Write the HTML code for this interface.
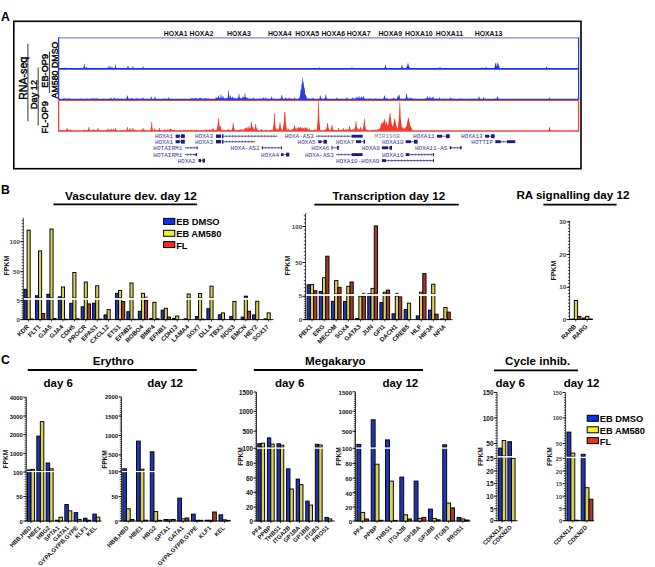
<!DOCTYPE html>
<html><head><meta charset="utf-8"><style>
html,body{margin:0;padding:0;background:#fff;}
svg{display:block;}
</style></head><body>
<svg width="655" height="567" viewBox="0 0 655 567">
<rect x="0" y="0" width="655" height="567" fill="#fff"/>
<text x="0.90" y="20.70" font-family="Liberation Sans" font-size="12.2" font-weight="bold" text-anchor="start" fill="#000">A</text>
<rect x="13.8" y="21.3" width="567.2" height="147.4" fill="none" stroke="#000" stroke-width="1.6"/>
<text x="0" y="0" font-family="Liberation Sans" font-size="10.6" font-weight="normal" stroke="#000" stroke-width="0.42" text-anchor="middle" transform="translate(27.2 78.3) rotate(-90)">RNA-seq</text>
<line x1="27.90" y1="43.70" x2="27.90" y2="121.40" stroke="#000" stroke-width="0.8"/>
<text x="0" y="0" font-family="Liberation Sans" font-size="9.2" font-weight="normal" stroke="#000" stroke-width="0.42" text-anchor="middle" transform="translate(36.6 94.5) rotate(-90)">Day 12</text>
<line x1="38.20" y1="67.50" x2="38.20" y2="125.60" stroke="#000" stroke-width="0.8"/>
<text x="0" y="0" font-family="Liberation Sans" font-size="9.2" font-weight="normal" stroke="#000" stroke-width="0.42" text-anchor="middle" transform="translate(47.8 117.3) rotate(-90)">FL-OP9</text>
<text x="0" y="0" font-family="Liberation Sans" font-size="9.2" font-weight="normal" stroke="#000" stroke-width="0.42" text-anchor="middle" transform="translate(48.3 70.8) rotate(-90)">EB-OP9</text>
<line x1="49.40" y1="51.70" x2="49.40" y2="92.90" stroke="#000" stroke-width="0.8"/>
<text x="0" y="0" font-family="Liberation Sans" font-size="8.8" font-weight="normal" stroke="#000" stroke-width="0.42" text-anchor="middle" transform="translate(58.3 54.8) rotate(-90)">DMSO</text>
<text x="0" y="0" font-family="Liberation Sans" font-size="8.8" font-weight="normal" stroke="#000" stroke-width="0.42" text-anchor="middle" transform="translate(58.3 84.5) rotate(-90)">AM580</text>
<line x1="58.60" y1="37.90" x2="578.60" y2="37.90" stroke="#8585d0" stroke-width="1.2"/>
<path d="M63.28,68.80 L64.31,68.63 L64.75,68.39 L65.25,68.39 L65.69,68.63 L66.72,68.80Z M77.54,68.80 L78.42,68.50 L78.75,68.10 L79.25,68.10 L79.58,68.50 L80.46,68.80Z M79.66,68.80 L80.47,68.49 L80.75,68.05 L81.25,68.05 L81.53,68.49 L82.34,68.80Z M89.93,68.80 L90.57,68.61 L90.75,68.35 L91.25,68.35 L91.43,68.61 L92.07,68.80Z M115.12,68.80 L116.25,68.49 L116.75,68.06 L117.25,68.06 L117.75,68.49 L118.88,68.80Z M116.73,68.80 L117.49,68.50 L117.75,68.08 L118.25,68.08 L118.51,68.50 L119.27,68.80Z M122.11,68.80 L122.65,68.53 L122.75,68.15 L123.25,68.15 L123.35,68.53 L123.89,68.80Z M130.13,68.80 L130.65,68.53 L130.75,68.16 L131.25,68.16 L131.35,68.53 L131.87,68.80Z M134.83,68.80 L135.53,68.49 L135.75,68.05 L136.25,68.05 L136.47,68.49 L137.17,68.80Z M153.55,68.80 L154.42,68.56 L154.75,68.23 L155.25,68.23 L155.58,68.56 L156.45,68.80Z M154.50,68.80 L155.40,68.53 L155.75,68.15 L156.25,68.15 L156.60,68.53 L157.50,68.80Z M155.67,68.80 L156.47,68.53 L156.75,68.15 L157.25,68.15 L157.53,68.53 L158.33,68.80Z M160.45,68.80 L161.38,68.62 L161.75,68.38 L162.25,68.38 L162.62,68.62 L163.55,68.80Z M173.39,68.80 L174.36,68.54 L174.75,68.17 L175.25,68.17 L175.64,68.54 L176.61,68.80Z M181.81,68.80 L182.52,68.58 L182.75,68.27 L183.25,68.27 L183.48,68.58 L184.19,68.80Z M212.24,68.80 L213.29,68.47 L213.75,68.02 L214.25,68.02 L214.71,68.47 L215.76,68.80Z M225.86,68.80 L226.54,68.53 L226.75,68.16 L227.25,68.16 L227.46,68.53 L228.14,68.80Z M227.43,68.80 L228.37,68.48 L228.75,68.04 L229.25,68.04 L229.63,68.48 L230.57,68.80Z M232.98,68.80 L233.59,68.51 L233.75,68.10 L234.25,68.10 L234.41,68.51 L235.02,68.80Z M253.25,68.80 L254.30,68.53 L254.75,68.15 L255.25,68.15 L255.70,68.53 L256.75,68.80Z M254.88,68.80 L255.55,68.59 L255.75,68.29 L256.25,68.29 L256.45,68.59 L257.12,68.80Z M260.03,68.80 L260.61,68.62 L260.75,68.38 L261.25,68.38 L261.39,68.62 L261.97,68.80Z M261.26,68.80 L262.31,68.47 L262.75,68.01 L263.25,68.01 L263.69,68.47 L264.74,68.80Z M262.83,68.80 L263.53,68.55 L263.75,68.20 L264.25,68.20 L264.47,68.55 L265.17,68.80Z M274.77,68.80 L275.51,68.60 L275.75,68.33 L276.25,68.33 L276.49,68.60 L277.23,68.80Z M290.71,68.80 L291.49,68.56 L291.75,68.23 L292.25,68.23 L292.51,68.56 L293.29,68.80Z M307.15,68.80 L307.66,68.53 L307.75,68.16 L308.25,68.16 L308.34,68.53 L308.85,68.80Z M310.06,68.80 L310.62,68.62 L310.75,68.36 L311.25,68.36 L311.38,68.62 L311.94,68.80Z M313.03,68.80 L313.61,68.49 L313.75,68.06 L314.25,68.06 L314.39,68.49 L314.97,68.80Z M319.62,68.80 L320.45,68.50 L320.75,68.09 L321.25,68.09 L321.55,68.50 L322.38,68.80Z M321.18,68.80 L322.27,68.51 L322.75,68.10 L323.25,68.10 L323.73,68.51 L324.82,68.80Z M322.57,68.80 L323.43,68.58 L323.75,68.27 L324.25,68.27 L324.57,68.58 L325.43,68.80Z M334.14,68.80 L335.26,68.55 L335.75,68.20 L336.25,68.20 L336.74,68.55 L337.86,68.80Z M346.20,68.80 L347.28,68.51 L347.75,68.10 L348.25,68.10 L348.72,68.51 L349.80,68.80Z M365.76,68.80 L366.50,68.55 L366.75,68.21 L367.25,68.21 L367.50,68.55 L368.24,68.80Z M403.28,68.80 L404.31,68.62 L404.75,68.36 L405.25,68.36 L405.69,68.62 L406.72,68.80Z M408.70,68.80 L409.48,68.58 L409.75,68.27 L410.25,68.27 L410.52,68.58 L411.30,68.80Z M415.46,68.80 L416.38,68.59 L416.75,68.29 L417.25,68.29 L417.62,68.59 L418.54,68.80Z M416.21,68.80 L417.28,68.48 L417.75,68.05 L418.25,68.05 L418.72,68.48 L419.79,68.80Z M417.77,68.80 L418.51,68.47 L418.75,68.02 L419.25,68.02 L419.49,68.47 L420.23,68.80Z M429.79,68.80 L430.52,68.55 L430.75,68.20 L431.25,68.20 L431.48,68.55 L432.21,68.80Z M450.37,68.80 L451.35,68.51 L451.75,68.11 L452.25,68.11 L452.65,68.51 L453.63,68.80Z M457.90,68.80 L458.56,68.55 L458.75,68.20 L459.25,68.20 L459.44,68.55 L460.10,68.80Z M467.06,68.80 L467.62,68.59 L467.75,68.29 L468.25,68.29 L468.38,68.59 L468.94,68.80Z M467.40,68.80 L468.36,68.50 L468.75,68.09 L469.25,68.09 L469.64,68.50 L470.60,68.80Z M483.22,68.80 L484.29,68.50 L484.75,68.08 L485.25,68.08 L485.71,68.50 L486.78,68.80Z M496.46,68.80 L497.39,68.50 L497.75,68.09 L498.25,68.09 L498.61,68.50 L499.54,68.80Z M502.48,68.80 L503.39,68.55 L503.75,68.20 L504.25,68.20 L504.61,68.55 L505.52,68.80Z M510.91,68.80 L511.57,68.57 L511.75,68.26 L512.25,68.26 L512.43,68.57 L513.09,68.80Z M511.18,68.80 L512.27,68.54 L512.75,68.18 L513.25,68.18 L513.73,68.54 L514.82,68.80Z M529.08,68.80 L529.63,68.62 L529.75,68.38 L530.25,68.38 L530.37,68.62 L530.92,68.80Z M548.34,68.80 L549.34,68.60 L549.75,68.32 L550.25,68.32 L550.66,68.60 L551.66,68.80Z M556.98,68.80 L557.59,68.61 L557.75,68.36 L558.25,68.36 L558.41,68.61 L559.02,68.80Z" fill="#2a3ce0"/>
<path d="M63.74,68.80 L64.50,68.17 L64.75,67.30 L65.25,67.30 L65.50,68.17 L66.26,68.80Z M82.83,68.80 L83.71,66.70 L84.05,63.80 L84.55,63.80 L84.89,66.70 L85.77,68.80Z M84.82,68.80 L85.83,68.04 L86.25,67.00 L86.75,67.00 L87.17,68.04 L88.18,68.80Z M90.53,68.80 L91.41,68.38 L91.75,67.80 L92.25,67.80 L92.59,68.38 L93.47,68.80Z M95.53,68.80 L96.41,68.38 L96.75,67.80 L97.25,67.80 L97.59,68.38 L98.47,68.80Z M106.32,68.80 L107.33,67.88 L107.75,66.60 L108.25,66.60 L108.67,67.88 L109.68,68.80Z M108.53,68.80 L109.41,67.54 L109.75,65.80 L110.25,65.80 L110.59,67.54 L111.47,68.80Z M110.53,68.80 L111.41,67.96 L111.75,66.80 L112.25,66.80 L112.59,67.96 L113.47,68.80Z M114.24,68.80 L115.00,66.91 L115.25,64.30 L115.75,64.30 L116.00,66.91 L116.76,68.80Z M126.32,68.80 L127.33,67.54 L127.75,65.80 L128.25,65.80 L128.67,67.54 L129.68,68.80Z M131.74,68.80 L132.50,67.75 L132.75,66.30 L133.25,66.30 L133.50,67.75 L134.26,68.80Z M141.53,68.80 L142.41,67.75 L142.75,66.30 L143.25,66.30 L143.59,67.75 L144.47,68.80Z M198.95,68.80 L199.58,68.46 L199.75,68.00 L200.25,68.00 L200.42,68.46 L201.05,68.80Z M238.95,68.80 L239.58,68.46 L239.75,68.00 L240.25,68.00 L240.42,68.46 L241.05,68.80Z M318.14,68.80 L318.90,68.17 L319.15,67.30 L319.65,67.30 L319.90,68.17 L320.66,68.80Z M350.74,68.80 L351.50,67.96 L351.75,66.80 L352.25,66.80 L352.50,67.96 L353.26,68.80Z M383.93,68.80 L384.81,67.12 L385.15,64.80 L385.65,64.80 L385.99,67.12 L386.87,68.80Z M400.53,68.80 L401.41,67.12 L401.75,64.80 L402.25,64.80 L402.59,67.12 L403.47,68.80Z M405.48,68.80 L406.99,66.49 L407.75,63.30 L408.25,63.30 L409.01,66.49 L410.52,68.80Z M438.53,68.80 L439.41,67.96 L439.75,66.80 L440.25,66.80 L440.59,67.96 L441.47,68.80Z M480.53,68.80 L481.41,68.13 L481.75,67.20 L482.25,67.20 L482.59,68.13 L483.47,68.80Z M484.53,68.80 L485.41,67.96 L485.75,66.80 L486.25,66.80 L486.59,67.96 L487.47,68.80Z M493.82,68.80 L494.83,66.28 L495.25,62.80 L495.75,62.80 L496.17,66.28 L497.18,68.80Z M495.31,68.80 L496.44,66.15 L496.95,62.50 L497.45,62.50 L497.96,66.15 L499.09,68.80Z M497.13,68.80 L498.01,66.70 L498.35,63.80 L498.85,63.80 L499.19,66.70 L500.07,68.80Z M545.24,68.80 L546.00,67.88 L546.25,66.60 L546.75,66.60 L547.00,67.88 L547.76,68.80Z" fill="#2a3ce0"/>
<line x1="58.60" y1="68.80" x2="578.60" y2="68.80" stroke="#1c34e6" stroke-width="1.7"/>
<path d="M58.69,99.50 L59.48,99.32 L59.75,99.08 L60.25,99.08 L60.52,99.32 L61.31,99.50Z M61.74,99.50 L62.50,99.18 L62.75,98.74 L63.25,98.74 L63.50,99.18 L64.26,99.50Z M62.93,99.50 L63.57,98.97 L63.75,98.23 L64.25,98.23 L64.43,98.97 L65.07,99.50Z M63.99,99.50 L64.59,99.15 L64.75,98.67 L65.25,98.67 L65.41,99.15 L66.01,99.50Z M66.11,99.50 L66.64,99.29 L66.75,98.99 L67.25,98.99 L67.36,99.29 L67.89,99.50Z M67.67,99.50 L68.47,99.03 L68.75,98.39 L69.25,98.39 L69.53,99.03 L70.33,99.50Z M69.88,99.50 L70.55,99.24 L70.75,98.88 L71.25,98.88 L71.45,99.24 L72.12,99.50Z M72.44,99.50 L73.38,99.30 L73.75,99.02 L74.25,99.02 L74.62,99.30 L75.56,99.50Z M76.06,99.50 L76.63,99.32 L76.75,99.07 L77.25,99.07 L77.37,99.32 L77.94,99.50Z M77.10,99.50 L77.64,99.32 L77.75,99.07 L78.25,99.07 L78.36,99.32 L78.90,99.50Z M79.66,99.50 L80.46,98.96 L80.75,98.22 L81.25,98.22 L81.54,98.96 L82.34,99.50Z M83.52,99.50 L84.41,99.22 L84.75,98.83 L85.25,98.83 L85.59,99.22 L86.48,99.50Z M85.27,99.50 L86.31,99.22 L86.75,98.84 L87.25,98.84 L87.69,99.22 L88.73,99.50Z M86.81,99.50 L87.52,99.18 L87.75,98.75 L88.25,98.75 L88.48,99.18 L89.19,99.50Z M89.39,99.50 L90.36,99.05 L90.75,98.43 L91.25,98.43 L91.64,99.05 L92.61,99.50Z M95.66,99.50 L96.46,99.04 L96.75,98.40 L97.25,98.40 L97.54,99.04 L98.34,99.50Z M96.40,99.50 L97.36,99.27 L97.75,98.95 L98.25,98.95 L98.64,99.27 L99.60,99.50Z M102.14,99.50 L102.65,99.06 L102.75,98.46 L103.25,98.46 L103.35,99.06 L103.86,99.50Z M105.27,99.50 L106.31,99.24 L106.75,98.89 L107.25,98.89 L107.69,99.24 L108.73,99.50Z M113.08,99.50 L113.63,99.19 L113.75,98.77 L114.25,98.77 L114.37,99.19 L114.92,99.50Z M116.04,99.50 L116.62,99.12 L116.75,98.59 L117.25,98.59 L117.38,99.12 L117.96,99.50Z M116.91,99.50 L117.56,99.09 L117.75,98.52 L118.25,98.52 L118.44,99.09 L119.09,99.50Z M117.48,99.50 L118.39,99.27 L118.75,98.96 L119.25,98.96 L119.61,99.27 L120.52,99.50Z M119.14,99.50 L120.26,99.25 L120.75,98.89 L121.25,98.89 L121.74,99.25 L122.86,99.50Z M120.72,99.50 L121.49,99.12 L121.75,98.59 L122.25,98.59 L122.51,99.12 L123.28,99.50Z M126.08,99.50 L126.63,99.26 L126.75,98.94 L127.25,98.94 L127.37,99.26 L127.92,99.50Z M127.15,99.50 L128.26,99.32 L128.75,99.08 L129.25,99.08 L129.74,99.32 L130.85,99.50Z M129.07,99.50 L129.63,98.99 L129.75,98.30 L130.25,98.30 L130.37,98.99 L130.93,99.50Z M130.51,99.50 L131.41,99.02 L131.75,98.35 L132.25,98.35 L132.59,99.02 L133.49,99.50Z M134.69,99.50 L135.48,99.10 L135.75,98.56 L136.25,98.56 L136.52,99.10 L137.31,99.50Z M135.54,99.50 L136.41,99.02 L136.75,98.35 L137.25,98.35 L137.59,99.02 L138.46,99.50Z M137.67,99.50 L138.47,99.13 L138.75,98.61 L139.25,98.61 L139.53,99.13 L140.33,99.50Z M139.65,99.50 L140.46,99.20 L140.75,98.79 L141.25,98.79 L141.54,99.20 L142.35,99.50Z M140.39,99.50 L141.36,99.12 L141.75,98.60 L142.25,98.60 L142.64,99.12 L143.61,99.50Z M144.11,99.50 L145.25,99.20 L145.75,98.78 L146.25,98.78 L146.75,99.20 L147.89,99.50Z M146.07,99.50 L146.63,99.17 L146.75,98.71 L147.25,98.71 L147.37,99.17 L147.93,99.50Z M146.18,99.50 L147.27,99.27 L147.75,98.95 L148.25,98.95 L148.73,99.27 L149.82,99.50Z M162.97,99.50 L163.59,98.98 L163.75,98.26 L164.25,98.26 L164.41,98.98 L165.03,99.50Z M163.85,99.50 L164.54,99.06 L164.75,98.45 L165.25,98.45 L165.46,99.06 L166.15,99.50Z M166.87,99.50 L167.55,99.05 L167.75,98.43 L168.25,98.43 L168.45,99.05 L169.13,99.50Z M168.38,99.50 L169.35,99.05 L169.75,98.43 L170.25,98.43 L170.65,99.05 L171.62,99.50Z M169.85,99.50 L170.54,99.29 L170.75,99.01 L171.25,99.01 L171.46,99.29 L172.15,99.50Z M171.36,99.50 L172.34,99.27 L172.75,98.96 L173.25,98.96 L173.66,99.27 L174.64,99.50Z M177.67,99.50 L178.47,99.21 L178.75,98.82 L179.25,98.82 L179.53,99.21 L180.33,99.50Z M182.23,99.50 L183.29,99.16 L183.75,98.68 L184.25,98.68 L184.71,99.16 L185.77,99.50Z M184.31,99.50 L185.33,99.24 L185.75,98.88 L186.25,98.88 L186.67,99.24 L187.69,99.50Z M185.60,99.50 L186.44,99.28 L186.75,98.98 L187.25,98.98 L187.56,99.28 L188.40,99.50Z M187.95,99.50 L188.58,99.31 L188.75,99.05 L189.25,99.05 L189.42,99.31 L190.05,99.50Z M194.15,99.50 L194.66,99.26 L194.75,98.93 L195.25,98.93 L195.34,99.26 L195.85,99.50Z M195.59,99.50 L196.43,99.31 L196.75,99.05 L197.25,99.05 L197.57,99.31 L198.41,99.50Z M196.90,99.50 L197.56,99.21 L197.75,98.82 L198.25,98.82 L198.44,99.21 L199.10,99.50Z M199.71,99.50 L200.48,99.32 L200.75,99.06 L201.25,99.06 L201.52,99.32 L202.29,99.50Z M204.36,99.50 L205.35,99.28 L205.75,98.98 L206.25,98.98 L206.65,99.28 L207.64,99.50Z M210.14,99.50 L210.66,99.27 L210.75,98.95 L211.25,98.95 L211.34,99.27 L211.86,99.50Z M220.44,99.50 L221.38,99.26 L221.75,98.94 L222.25,98.94 L222.62,99.26 L223.56,99.50Z M229.61,99.50 L230.44,99.21 L230.75,98.82 L231.25,98.82 L231.56,99.21 L232.39,99.50Z M235.58,99.50 L236.43,99.11 L236.75,98.58 L237.25,98.58 L237.57,99.11 L238.42,99.50Z M237.20,99.50 L238.28,99.06 L238.75,98.46 L239.25,98.46 L239.72,99.06 L240.80,99.50Z M238.77,99.50 L239.51,99.08 L239.75,98.50 L240.25,98.50 L240.49,99.08 L241.23,99.50Z M243.97,99.50 L244.59,98.98 L244.75,98.27 L245.25,98.27 L245.41,98.98 L246.03,99.50Z M246.16,99.50 L247.27,99.23 L247.75,98.86 L248.25,98.86 L248.73,99.23 L249.84,99.50Z M248.86,99.50 L249.55,99.18 L249.75,98.75 L250.25,98.75 L250.45,99.18 L251.14,99.50Z M249.13,99.50 L250.25,99.24 L250.75,98.87 L251.25,98.87 L251.75,99.24 L252.87,99.50Z M250.95,99.50 L251.58,99.25 L251.75,98.89 L252.25,98.89 L252.42,99.25 L253.05,99.50Z M251.38,99.50 L252.35,99.13 L252.75,98.63 L253.25,98.63 L253.65,99.13 L254.62,99.50Z M255.15,99.50 L256.26,99.23 L256.75,98.85 L257.25,98.85 L257.74,99.23 L258.85,99.50Z M256.65,99.50 L257.46,99.23 L257.75,98.86 L258.25,98.86 L258.54,99.23 L259.35,99.50Z M258.11,99.50 L258.64,99.13 L258.75,98.61 L259.25,98.61 L259.36,99.13 L259.89,99.50Z M259.01,99.50 L259.60,98.97 L259.75,98.24 L260.25,98.24 L260.40,98.97 L260.99,99.50Z M260.45,99.50 L261.38,98.96 L261.75,98.21 L262.25,98.21 L262.62,98.96 L263.55,99.50Z M262.36,99.50 L263.35,99.31 L263.75,99.05 L264.25,99.05 L264.65,99.31 L265.64,99.50Z M263.30,99.50 L264.32,99.26 L264.75,98.93 L265.25,98.93 L265.68,99.26 L266.70,99.50Z M265.60,99.50 L266.44,98.97 L266.75,98.24 L267.25,98.24 L267.56,98.97 L268.40,99.50Z M267.12,99.50 L268.25,99.18 L268.75,98.75 L269.25,98.75 L269.75,99.18 L270.88,99.50Z M269.01,99.50 L269.60,99.28 L269.75,98.98 L270.25,98.98 L270.40,99.28 L270.99,99.50Z M269.20,99.50 L270.28,99.20 L270.75,98.78 L271.25,98.78 L271.72,99.20 L272.80,99.50Z M270.17,99.50 L271.27,99.26 L271.75,98.93 L272.25,98.93 L272.73,99.26 L273.83,99.50Z M273.16,99.50 L274.26,99.20 L274.75,98.78 L275.25,98.78 L275.74,99.20 L276.84,99.50Z M276.80,99.50 L277.52,99.32 L277.75,99.08 L278.25,99.08 L278.48,99.32 L279.20,99.50Z M285.18,99.50 L286.27,99.11 L286.75,98.57 L287.25,98.57 L287.73,99.11 L288.82,99.50Z M287.28,99.50 L288.31,98.97 L288.75,98.23 L289.25,98.23 L289.69,98.97 L290.72,99.50Z M288.95,99.50 L289.58,99.23 L289.75,98.86 L290.25,98.86 L290.42,99.23 L291.05,99.50Z M289.73,99.50 L290.49,98.96 L290.75,98.22 L291.25,98.22 L291.51,98.96 L292.27,99.50Z M291.25,99.50 L292.30,99.33 L292.75,99.09 L293.25,99.09 L293.70,99.33 L294.75,99.50Z M297.70,99.50 L298.48,99.13 L298.75,98.61 L299.25,98.61 L299.52,99.13 L300.30,99.50Z M298.82,99.50 L299.53,99.11 L299.75,98.56 L300.25,98.56 L300.47,99.11 L301.18,99.50Z M301.53,99.50 L302.41,99.20 L302.75,98.78 L303.25,98.78 L303.59,99.20 L304.47,99.50Z M306.88,99.50 L307.55,98.96 L307.75,98.22 L308.25,98.22 L308.45,98.96 L309.12,99.50Z M307.39,99.50 L308.36,99.14 L308.75,98.65 L309.25,98.65 L309.64,99.14 L310.61,99.50Z M308.86,99.50 L309.55,99.09 L309.75,98.52 L310.25,98.52 L310.45,99.09 L311.14,99.50Z M318.27,99.50 L319.31,99.17 L319.75,98.72 L320.25,98.72 L320.69,99.17 L321.73,99.50Z M320.76,99.50 L321.50,99.01 L321.75,98.33 L322.25,98.33 L322.50,99.01 L323.24,99.50Z M323.23,99.50 L324.29,99.12 L324.75,98.61 L325.25,98.61 L325.71,99.12 L326.77,99.50Z M328.74,99.50 L329.50,99.14 L329.75,98.65 L330.25,98.65 L330.50,99.14 L331.26,99.50Z M333.77,99.50 L334.51,99.25 L334.75,98.90 L335.25,98.90 L335.49,99.25 L336.23,99.50Z M335.82,99.50 L336.53,99.30 L336.75,99.03 L337.25,99.03 L337.47,99.30 L338.18,99.50Z M336.59,99.50 L337.44,99.32 L337.75,99.07 L338.25,99.07 L338.56,99.32 L339.41,99.50Z M345.76,99.50 L346.51,99.00 L346.75,98.31 L347.25,98.31 L347.49,99.00 L348.24,99.50Z M348.30,99.50 L349.32,99.26 L349.75,98.93 L350.25,98.93 L350.68,99.26 L351.70,99.50Z M350.79,99.50 L351.52,99.32 L351.75,99.07 L352.25,99.07 L352.48,99.32 L353.21,99.50Z M351.97,99.50 L352.59,99.02 L352.75,98.35 L353.25,98.35 L353.41,99.02 L354.03,99.50Z M352.62,99.50 L353.45,99.19 L353.75,98.75 L354.25,98.75 L354.55,99.19 L355.38,99.50Z M357.43,99.50 L358.37,98.96 L358.75,98.22 L359.25,98.22 L359.63,98.96 L360.57,99.50Z M358.37,99.50 L359.35,99.17 L359.75,98.70 L360.25,98.70 L360.65,99.17 L361.63,99.50Z M360.66,99.50 L361.46,99.33 L361.75,99.09 L362.25,99.09 L362.54,99.33 L363.34,99.50Z M364.55,99.50 L365.42,99.17 L365.75,98.72 L366.25,98.72 L366.58,99.17 L367.45,99.50Z M367.07,99.50 L367.63,99.18 L367.75,98.75 L368.25,98.75 L368.37,99.18 L368.93,99.50Z M368.61,99.50 L369.44,98.98 L369.75,98.26 L370.25,98.26 L370.56,98.98 L371.39,99.50Z M370.67,99.50 L371.47,99.24 L371.75,98.89 L372.25,98.89 L372.53,99.24 L373.33,99.50Z M373.47,99.50 L374.39,98.96 L374.75,98.22 L375.25,98.22 L375.61,98.96 L376.53,99.50Z M375.22,99.50 L376.29,99.22 L376.75,98.83 L377.25,98.83 L377.71,99.22 L378.78,99.50Z M376.51,99.50 L377.40,99.13 L377.75,98.62 L378.25,98.62 L378.60,99.13 L379.49,99.50Z M382.71,99.50 L383.48,99.31 L383.75,99.05 L384.25,99.05 L384.52,99.31 L385.29,99.50Z M383.25,99.50 L384.30,99.26 L384.75,98.93 L385.25,98.93 L385.70,99.26 L386.75,99.50Z M384.18,99.50 L385.27,99.02 L385.75,98.36 L386.25,98.36 L386.73,99.02 L387.82,99.50Z M385.74,99.50 L386.50,98.99 L386.75,98.28 L387.25,98.28 L387.50,98.99 L388.26,99.50Z M387.12,99.50 L387.65,99.26 L387.75,98.93 L388.25,98.93 L388.35,99.26 L388.88,99.50Z M391.75,99.50 L392.50,99.18 L392.75,98.74 L393.25,98.74 L393.50,99.18 L394.25,99.50Z M392.88,99.50 L393.55,99.24 L393.75,98.87 L394.25,98.87 L394.45,99.24 L395.12,99.50Z M394.93,99.50 L395.57,99.29 L395.75,99.00 L396.25,99.00 L396.43,99.29 L397.07,99.50Z M397.93,99.50 L398.57,99.07 L398.75,98.47 L399.25,98.47 L399.43,99.07 L400.07,99.50Z M400.75,99.50 L401.50,99.05 L401.75,98.42 L402.25,98.42 L402.50,99.05 L403.25,99.50Z M405.26,99.50 L406.30,99.03 L406.75,98.39 L407.25,98.39 L407.70,99.03 L408.74,99.50Z M408.44,99.50 L409.38,98.99 L409.75,98.29 L410.25,98.29 L410.62,98.99 L411.56,99.50Z M409.12,99.50 L410.25,99.02 L410.75,98.36 L411.25,98.36 L411.75,99.02 L412.88,99.50Z M410.65,99.50 L411.46,98.96 L411.75,98.20 L412.25,98.20 L412.54,98.96 L413.35,99.50Z M411.80,99.50 L412.52,99.06 L412.75,98.45 L413.25,98.45 L413.48,99.06 L414.20,99.50Z M414.27,99.50 L415.31,99.13 L415.75,98.62 L416.25,98.62 L416.69,99.13 L417.73,99.50Z M422.36,99.50 L423.34,99.30 L423.75,99.02 L424.25,99.02 L424.66,99.30 L425.64,99.50Z M424.23,99.50 L425.29,98.99 L425.75,98.30 L426.25,98.30 L426.71,98.99 L427.77,99.50Z M429.45,99.50 L430.38,99.33 L430.75,99.09 L431.25,99.09 L431.62,99.33 L432.55,99.50Z M434.57,99.50 L435.43,99.07 L435.75,98.47 L436.25,98.47 L436.57,99.07 L437.43,99.50Z M436.82,99.50 L437.53,99.12 L437.75,98.60 L438.25,98.60 L438.47,99.12 L439.18,99.50Z M438.95,99.50 L439.58,99.18 L439.75,98.75 L440.25,98.75 L440.42,99.18 L441.05,99.50Z M441.65,99.50 L442.46,99.31 L442.75,99.05 L443.25,99.05 L443.54,99.31 L444.35,99.50Z M442.98,99.50 L443.59,99.14 L443.75,98.65 L444.25,98.65 L444.41,99.14 L445.02,99.50Z M443.19,99.50 L444.28,99.13 L444.75,98.62 L445.25,98.62 L445.72,99.13 L446.81,99.50Z M447.83,99.50 L448.53,99.23 L448.75,98.85 L449.25,98.85 L449.47,99.23 L450.17,99.50Z M449.66,99.50 L450.46,98.97 L450.75,98.25 L451.25,98.25 L451.54,98.97 L452.34,99.50Z M451.96,99.50 L452.59,98.97 L452.75,98.23 L453.25,98.23 L453.41,98.97 L454.04,99.50Z M454.13,99.50 L455.25,99.25 L455.75,98.90 L456.25,98.90 L456.75,99.25 L457.87,99.50Z M458.37,99.50 L459.35,99.07 L459.75,98.47 L460.25,98.47 L460.65,99.07 L461.63,99.50Z M459.14,99.50 L460.25,99.16 L460.75,98.69 L461.25,98.69 L461.75,99.16 L462.86,99.50Z M460.99,99.50 L461.59,99.04 L461.75,98.41 L462.25,98.41 L462.41,99.04 L463.01,99.50Z M462.77,99.50 L463.51,99.14 L463.75,98.64 L464.25,98.64 L464.49,99.14 L465.23,99.50Z M469.55,99.50 L470.42,99.13 L470.75,98.61 L471.25,98.61 L471.58,99.13 L472.45,99.50Z M471.49,99.50 L472.40,99.27 L472.75,98.95 L473.25,98.95 L473.60,99.27 L474.51,99.50Z M472.63,99.50 L473.45,99.05 L473.75,98.42 L474.25,98.42 L474.55,99.05 L475.37,99.50Z M477.38,99.50 L478.35,99.12 L478.75,98.60 L479.25,98.60 L479.65,99.12 L480.62,99.50Z M479.13,99.50 L480.25,99.27 L480.75,98.96 L481.25,98.96 L481.75,99.27 L482.87,99.50Z M483.46,99.50 L484.38,99.13 L484.75,98.61 L485.25,98.61 L485.62,99.13 L486.54,99.50Z M485.50,99.50 L486.40,99.28 L486.75,98.98 L487.25,98.98 L487.60,99.28 L488.50,99.50Z M488.07,99.50 L488.63,99.33 L488.75,99.09 L489.25,99.09 L489.37,99.33 L489.93,99.50Z M494.16,99.50 L494.66,99.07 L494.75,98.47 L495.25,98.47 L495.34,99.07 L495.84,99.50Z M494.98,99.50 L495.59,99.07 L495.75,98.47 L496.25,98.47 L496.41,99.07 L497.02,99.50Z M495.82,99.50 L496.53,99.14 L496.75,98.63 L497.25,98.63 L497.47,99.14 L498.18,99.50Z M497.75,99.50 L498.50,99.03 L498.75,98.38 L499.25,98.38 L499.50,99.03 L500.25,99.50Z M501.68,99.50 L502.47,99.25 L502.75,98.90 L503.25,98.90 L503.53,99.25 L504.32,99.50Z" fill="#2a3ce0"/>
<path d="M188.72,99.50 L189.49,99.20 L189.75,98.78 L190.25,98.78 L190.51,99.20 L191.28,99.50Z M189.56,99.50 L190.42,99.15 L190.75,98.66 L191.25,98.66 L191.58,99.15 L192.44,99.50Z M190.86,99.50 L191.54,98.98 L191.75,98.26 L192.25,98.26 L192.46,98.98 L193.14,99.50Z M191.80,99.50 L192.52,99.32 L192.75,99.06 L193.25,99.06 L193.48,99.32 L194.20,99.50Z M192.88,99.50 L193.55,99.00 L193.75,98.30 L194.25,98.30 L194.45,99.00 L195.12,99.50Z M193.46,99.50 L194.39,98.98 L194.75,98.26 L195.25,98.26 L195.61,98.98 L196.54,99.50Z M194.71,99.50 L195.48,99.03 L195.75,98.37 L196.25,98.37 L196.52,99.03 L197.29,99.50Z M195.33,99.50 L196.33,99.29 L196.75,99.01 L197.25,99.01 L197.67,99.29 L198.67,99.50Z M196.19,99.50 L197.27,99.27 L197.75,98.96 L198.25,98.96 L198.73,99.27 L199.81,99.50Z M197.70,99.50 L198.48,98.97 L198.75,98.23 L199.25,98.23 L199.52,98.97 L200.30,99.50Z M198.98,99.50 L199.59,98.74 L199.75,97.70 L200.25,97.70 L200.41,98.74 L201.02,99.50Z M200.03,99.50 L200.61,98.74 L200.75,97.70 L201.25,97.70 L201.39,98.74 L201.97,99.50Z M200.90,99.50 L201.56,99.05 L201.75,98.43 L202.25,98.43 L202.44,99.05 L203.10,99.50Z M202.66,99.50 L203.47,99.33 L203.75,99.08 L204.25,99.08 L204.53,99.33 L205.34,99.50Z M203.25,99.50 L204.30,98.92 L204.75,98.11 L205.25,98.11 L205.70,98.92 L206.75,99.50Z M205.84,99.50 L206.54,98.93 L206.75,98.15 L207.25,98.15 L207.46,98.93 L208.16,99.50Z M206.84,99.50 L207.54,99.16 L207.75,98.68 L208.25,98.68 L208.46,99.16 L209.16,99.50Z M208.07,99.50 L208.63,98.96 L208.75,98.22 L209.25,98.22 L209.37,98.96 L209.93,99.50Z" fill="#2a3ce0"/>
<path d="M214.96,99.50 L215.58,98.48 L215.75,97.08 L216.25,97.08 L216.42,98.48 L217.04,99.50Z M215.60,99.50 L216.44,98.68 L216.75,97.54 L217.25,97.54 L217.56,98.68 L218.40,99.50Z M216.50,99.50 L217.40,98.88 L217.75,98.03 L218.25,98.03 L218.60,98.88 L219.50,99.50Z M217.62,99.50 L218.45,98.74 L218.75,97.68 L219.25,97.68 L219.55,98.74 L220.38,99.50Z M219.45,99.50 L220.38,99.27 L220.75,98.96 L221.25,98.96 L221.62,99.27 L222.55,99.50Z M221.57,99.50 L222.43,98.70 L222.75,97.61 L223.25,97.61 L223.57,98.70 L224.43,99.50Z M222.53,99.50 L223.41,98.92 L223.75,98.12 L224.25,98.12 L224.59,98.92 L225.47,99.50Z M223.39,99.50 L224.35,99.06 L224.75,98.46 L225.25,98.46 L225.65,99.06 L226.61,99.50Z M224.89,99.50 L225.56,98.91 L225.75,98.11 L226.25,98.11 L226.44,98.91 L227.11,99.50Z M225.38,99.50 L226.35,98.76 L226.75,97.73 L227.25,97.73 L227.65,98.76 L228.62,99.50Z M227.81,99.50 L228.52,99.15 L228.75,98.67 L229.25,98.67 L229.48,99.15 L230.19,99.50Z M228.55,99.50 L229.42,99.12 L229.75,98.60 L230.25,98.60 L230.58,99.12 L231.45,99.50Z M229.97,99.50 L230.59,99.12 L230.75,98.59 L231.25,98.59 L231.41,99.12 L232.03,99.50Z M230.63,99.50 L231.45,99.17 L231.75,98.72 L232.25,98.72 L232.55,99.17 L233.37,99.50Z M231.57,99.50 L232.43,98.55 L232.75,97.24 L233.25,97.24 L233.57,98.55 L234.43,99.50Z M233.12,99.50 L233.65,98.95 L233.75,98.19 L234.25,98.19 L234.35,98.95 L234.88,99.50Z M233.78,99.50 L234.51,98.67 L234.75,97.52 L235.25,97.52 L235.49,98.67 L236.22,99.50Z M234.93,99.50 L235.57,99.09 L235.75,98.53 L236.25,98.53 L236.43,99.09 L237.07,99.50Z M235.52,99.50 L236.41,99.16 L236.75,98.69 L237.25,98.69 L237.59,99.16 L238.48,99.50Z M237.05,99.50 L237.62,98.69 L237.75,97.57 L238.25,97.57 L238.38,98.69 L238.95,99.50Z M237.76,99.50 L238.51,98.91 L238.75,98.10 L239.25,98.10 L239.49,98.91 L240.24,99.50Z M238.95,99.50 L239.58,98.95 L239.75,98.19 L240.25,98.19 L240.42,98.95 L241.05,99.50Z M239.41,99.50 L240.36,98.76 L240.75,97.74 L241.25,97.74 L241.64,98.76 L242.59,99.50Z M241.32,99.50 L242.33,98.55 L242.75,97.23 L243.25,97.23 L243.67,98.55 L244.68,99.50Z M243.02,99.50 L243.61,98.47 L243.75,97.04 L244.25,97.04 L244.39,98.47 L244.98,99.50Z M244.03,99.50 L244.61,98.54 L244.75,97.21 L245.25,97.21 L245.39,98.54 L245.97,99.50Z M244.85,99.50 L245.54,98.50 L245.75,97.11 L246.25,97.11 L246.46,98.50 L247.15,99.50Z M245.70,99.50 L246.48,98.53 L246.75,97.20 L247.25,97.20 L247.52,98.53 L248.30,99.50Z M246.29,99.50 L247.32,99.14 L247.75,98.65 L248.25,98.65 L248.68,99.14 L249.71,99.50Z M247.69,99.50 L248.48,99.05 L248.75,98.44 L249.25,98.44 L249.52,99.05 L250.31,99.50Z" fill="#2a3ce0"/>
<path d="M297.16,99.50 L298.27,99.30 L298.75,99.03 L299.25,99.03 L299.73,99.30 L300.84,99.50Z M298.14,99.50 L299.25,98.75 L299.75,97.71 L300.25,97.71 L300.75,98.75 L301.86,99.50Z M299.23,99.50 L300.29,99.20 L300.75,98.79 L301.25,98.79 L301.71,99.20 L302.77,99.50Z M300.18,99.50 L301.27,99.00 L301.75,98.30 L302.25,98.30 L302.73,99.00 L303.82,99.50Z M301.81,99.50 L302.52,97.97 L302.75,95.86 L303.25,95.86 L303.48,97.97 L304.19,99.50Z M302.59,99.50 L303.44,99.01 L303.75,98.32 L304.25,98.32 L304.56,99.01 L305.41,99.50Z M303.63,99.50 L304.45,98.73 L304.75,97.67 L305.25,97.67 L305.55,98.73 L306.37,99.50Z M304.18,99.50 L305.27,98.07 L305.75,96.08 L306.25,96.08 L306.73,98.07 L307.82,99.50Z" fill="#2a3ce0"/>
<path d="M354.09,99.50 L354.63,98.61 L354.75,97.38 L355.25,97.38 L355.37,98.61 L355.91,99.50Z M355.00,99.50 L355.60,99.15 L355.75,98.67 L356.25,98.67 L356.40,99.15 L357.00,99.50Z M358.71,99.50 L359.48,99.23 L359.75,98.86 L360.25,98.86 L360.52,99.23 L361.29,99.50Z M359.88,99.50 L360.55,98.53 L360.75,97.20 L361.25,97.20 L361.45,98.53 L362.12,99.50Z M360.95,99.50 L361.58,98.50 L361.75,97.11 L362.25,97.11 L362.42,98.50 L363.05,99.50Z M363.05,99.50 L363.62,98.75 L363.75,97.70 L364.25,97.70 L364.38,98.75 L364.95,99.50Z" fill="#2a3ce0"/>
<path d="M424.80,99.50 L425.52,98.98 L425.75,98.26 L426.25,98.26 L426.48,98.98 L427.20,99.50Z M425.90,99.50 L426.56,98.81 L426.75,97.85 L427.25,97.85 L427.44,98.81 L428.10,99.50Z M427.13,99.50 L427.65,98.82 L427.75,97.89 L428.25,97.89 L428.35,98.82 L428.87,99.50Z M427.98,99.50 L428.59,99.03 L428.75,98.38 L429.25,98.38 L429.41,99.03 L430.02,99.50Z M428.83,99.50 L429.53,99.23 L429.75,98.86 L430.25,98.86 L430.47,99.23 L431.17,99.50Z M429.81,99.50 L430.52,98.97 L430.75,98.25 L431.25,98.25 L431.48,98.97 L432.19,99.50Z M430.34,99.50 L431.34,98.90 L431.75,98.08 L432.25,98.08 L432.66,98.90 L433.66,99.50Z M431.65,99.50 L432.46,98.65 L432.75,97.49 L433.25,97.49 L433.54,98.65 L434.35,99.50Z M432.27,99.50 L433.31,99.18 L433.75,98.74 L434.25,98.74 L434.69,99.18 L435.73,99.50Z" fill="#2a3ce0"/>
<path d="M64.32,99.50 L65.33,99.00 L65.75,98.30 L66.25,98.30 L66.67,99.00 L67.68,99.50Z M67.32,99.50 L68.33,99.00 L68.75,98.30 L69.25,98.30 L69.67,99.00 L70.68,99.50Z M91.53,99.50 L92.41,98.87 L92.75,98.00 L93.25,98.00 L93.59,98.87 L94.47,99.50Z M94.53,99.50 L95.41,98.87 L95.75,98.00 L96.25,98.00 L96.59,98.87 L97.47,99.50Z M109.53,99.50 L110.41,98.66 L110.75,97.50 L111.25,97.50 L111.59,98.66 L112.47,99.50Z M113.03,99.50 L113.91,98.66 L114.25,97.50 L114.75,97.50 L115.09,98.66 L115.97,99.50Z M125.72,99.50 L126.73,97.82 L127.15,95.50 L127.65,95.50 L128.07,97.82 L129.08,99.50Z M130.53,99.50 L131.41,98.87 L131.75,98.00 L132.25,98.00 L132.59,98.87 L133.47,99.50Z M141.53,99.50 L142.41,98.66 L142.75,97.50 L143.25,97.50 L143.59,98.66 L144.47,99.50Z M149.94,99.50 L150.70,98.24 L150.95,96.50 L151.45,96.50 L151.70,98.24 L152.46,99.50Z M153.74,99.50 L154.50,98.24 L154.75,96.50 L155.25,96.50 L155.50,98.24 L156.26,99.50Z M167.13,99.50 L168.01,98.66 L168.35,97.50 L168.85,97.50 L169.19,98.66 L170.07,99.50Z M190.32,99.50 L191.33,98.87 L191.75,98.00 L192.25,98.00 L192.67,98.87 L193.68,99.50Z M194.53,99.50 L195.41,98.74 L195.75,97.70 L196.25,97.70 L196.59,98.74 L197.47,99.50Z M198.32,99.50 L199.33,98.87 L199.75,98.00 L200.25,98.00 L200.67,98.87 L201.68,99.50Z M203.74,99.50 L204.50,98.87 L204.75,98.00 L205.25,98.00 L205.50,98.87 L206.26,99.50Z M216.82,99.50 L217.83,97.82 L218.25,95.50 L218.75,95.50 L219.17,97.82 L220.18,99.50Z M219.53,99.50 L220.41,97.40 L220.75,94.50 L221.25,94.50 L221.59,97.40 L222.47,99.50Z M221.53,99.50 L222.41,98.03 L222.75,96.00 L223.25,96.00 L223.59,98.03 L224.47,99.50Z M227.13,99.50 L228.01,95.72 L228.35,90.50 L228.85,90.50 L229.19,95.72 L230.07,99.50Z M229.03,99.50 L229.91,97.82 L230.25,95.50 L230.75,95.50 L231.09,97.82 L231.97,99.50Z M230.83,99.50 L231.71,98.24 L232.05,96.50 L232.55,96.50 L232.89,98.24 L233.77,99.50Z M237.32,99.50 L238.33,97.19 L238.75,94.00 L239.25,94.00 L239.67,97.19 L240.68,99.50Z M241.53,99.50 L242.41,98.24 L242.75,96.50 L243.25,96.50 L243.59,98.24 L244.47,99.50Z M243.53,99.50 L244.41,96.98 L244.75,93.50 L245.25,93.50 L245.59,96.98 L246.47,99.50Z M251.93,99.50 L252.81,98.66 L253.15,97.50 L253.65,97.50 L253.99,98.66 L254.87,99.50Z M261.93,99.50 L262.81,98.66 L263.15,97.50 L263.65,97.50 L263.99,98.66 L264.87,99.50Z M263.83,99.50 L264.71,98.66 L265.05,97.50 L265.55,97.50 L265.89,98.66 L266.77,99.50Z M270.23,99.50 L271.11,98.24 L271.45,96.50 L271.95,96.50 L272.29,98.24 L273.17,99.50Z M280.12,99.50 L281.13,97.61 L281.55,95.00 L282.05,95.00 L282.47,97.61 L283.48,99.50Z M283.93,99.50 L284.81,98.66 L285.15,97.50 L285.65,97.50 L285.99,98.66 L286.87,99.50Z M287.74,99.50 L288.50,99.00 L288.75,98.30 L289.25,98.30 L289.50,99.00 L290.26,99.50Z M293.34,99.50 L294.10,98.66 L294.35,97.50 L294.85,97.50 L295.10,98.66 L295.86,99.50Z M299.12,99.50 L300.13,95.30 L300.55,89.50 L301.05,89.50 L301.47,95.30 L302.48,99.50Z M300.12,99.50 L301.13,92.78 L301.55,83.50 L302.05,83.50 L302.47,92.78 L303.48,99.50Z M301.03,99.50 L301.97,90.26 L302.35,77.50 L302.85,77.50 L303.23,90.26 L304.18,99.50Z M301.82,99.50 L302.83,91.94 L303.25,81.50 L303.75,81.50 L304.17,91.94 L305.18,99.50Z M303.03,99.50 L303.91,94.46 L304.25,87.50 L304.75,87.50 L305.09,94.46 L305.97,99.50Z M304.13,99.50 L305.01,97.40 L305.35,94.50 L305.85,94.50 L306.19,97.40 L307.07,99.50Z M311.53,99.50 L312.41,98.66 L312.75,97.50 L313.25,97.50 L313.59,98.66 L314.47,99.50Z M318.83,99.50 L319.71,97.82 L320.05,95.50 L320.55,95.50 L320.89,97.82 L321.77,99.50Z M324.12,99.50 L325.13,97.40 L325.55,94.50 L326.05,94.50 L326.47,97.40 L327.48,99.50Z M335.33,99.50 L336.21,98.66 L336.55,97.50 L337.05,97.50 L337.39,98.66 L338.27,99.50Z M345.43,99.50 L346.31,98.66 L346.65,97.50 L347.15,97.50 L347.49,98.66 L348.37,99.50Z M350.93,99.50 L351.81,98.66 L352.15,97.50 L352.65,97.50 L352.99,98.66 L353.87,99.50Z M355.32,99.50 L356.33,98.24 L356.75,96.50 L357.25,96.50 L357.67,98.24 L358.68,99.50Z M357.53,99.50 L358.41,98.03 L358.75,96.00 L359.25,96.00 L359.59,98.03 L360.47,99.50Z M360.03,99.50 L360.91,98.24 L361.25,96.50 L361.75,96.50 L362.09,98.24 L362.97,99.50Z M361.93,99.50 L362.81,98.03 L363.15,96.00 L363.65,96.00 L363.99,98.03 L364.87,99.50Z M382.72,99.50 L383.73,97.82 L384.15,95.50 L384.65,95.50 L385.07,97.82 L386.08,99.50Z M396.32,99.50 L397.33,97.82 L397.75,95.50 L398.25,95.50 L398.67,97.82 L399.68,99.50Z M392.23,99.50 L393.11,98.66 L393.45,97.50 L393.95,97.50 L394.29,98.66 L395.17,99.50Z M397.73,99.50 L398.61,97.40 L398.95,94.50 L399.45,94.50 L399.79,97.40 L400.67,99.50Z M404.92,99.50 L405.93,96.98 L406.35,93.50 L406.85,93.50 L407.27,96.98 L408.28,99.50Z M407.83,99.50 L408.71,98.66 L409.05,97.50 L409.55,97.50 L409.89,98.66 L410.77,99.50Z M425.92,99.50 L426.93,98.24 L427.35,96.50 L427.85,96.50 L428.27,98.24 L429.28,99.50Z M428.32,99.50 L429.33,98.24 L429.75,96.50 L430.25,96.50 L430.67,98.24 L431.68,99.50Z M431.63,99.50 L432.51,98.24 L432.85,96.50 L433.35,96.50 L433.69,98.24 L434.57,99.50Z M438.24,99.50 L439.00,98.66 L439.25,97.50 L439.75,97.50 L440.00,98.66 L440.76,99.50Z M449.03,99.50 L449.91,98.66 L450.25,97.50 L450.75,97.50 L451.09,98.66 L451.97,99.50Z M477.53,99.50 L478.41,98.24 L478.75,96.50 L479.25,96.50 L479.59,98.24 L480.47,99.50Z M482.03,99.50 L482.91,98.66 L483.25,97.50 L483.75,97.50 L484.09,98.66 L484.97,99.50Z M495.82,99.50 L496.83,98.24 L497.25,96.50 L497.75,96.50 L498.17,98.24 L499.18,99.50Z M548.24,99.50 L549.00,98.66 L549.25,97.50 L549.75,97.50 L550.00,98.66 L550.76,99.50Z" fill="#2a3ce0"/>
<line x1="58.60" y1="99.40" x2="578.60" y2="99.40" stroke="#2a3ce6" stroke-width="1.3"/>
<line x1="58.60" y1="37.30" x2="58.60" y2="100.00" stroke="#2a3ce0" stroke-width="1.3"/>
<line x1="578.60" y1="37.30" x2="578.60" y2="100.00" stroke="#2a3ce0" stroke-width="1.3"/>
<path d="M59.27,131.00 L60.31,130.59 L60.75,130.03 L61.25,130.03 L61.69,130.59 L62.73,131.00Z M60.78,131.00 L61.51,130.66 L61.75,130.20 L62.25,130.20 L62.49,130.66 L63.22,131.00Z M61.66,131.00 L62.46,130.58 L62.75,130.00 L63.25,130.00 L63.54,130.58 L64.34,131.00Z M67.04,131.00 L67.62,130.38 L67.75,129.52 L68.25,129.52 L68.38,130.38 L68.96,131.00Z M68.89,131.00 L69.55,130.46 L69.75,129.73 L70.25,129.73 L70.45,130.46 L71.11,131.00Z M69.28,131.00 L70.31,130.58 L70.75,130.01 L71.25,130.01 L71.69,130.58 L72.72,131.00Z M74.05,131.00 L74.62,130.66 L74.75,130.18 L75.25,130.18 L75.38,130.66 L75.95,131.00Z M83.06,131.00 L83.63,130.42 L83.75,129.62 L84.25,129.62 L84.37,130.42 L84.94,131.00Z M83.87,131.00 L84.55,130.45 L84.75,129.69 L85.25,129.69 L85.45,130.45 L86.13,131.00Z M85.41,131.00 L86.36,130.73 L86.75,130.37 L87.25,130.37 L87.64,130.73 L88.59,131.00Z M86.18,131.00 L87.27,130.60 L87.75,130.04 L88.25,130.04 L88.73,130.60 L89.82,131.00Z M87.38,131.00 L88.35,130.51 L88.75,129.82 L89.25,129.82 L89.65,130.51 L90.62,131.00Z M91.60,131.00 L92.44,130.74 L92.75,130.39 L93.25,130.39 L93.56,130.74 L94.40,131.00Z M94.03,131.00 L94.61,130.56 L94.75,129.95 L95.25,129.95 L95.39,130.56 L95.97,131.00Z M95.46,131.00 L96.38,130.59 L96.75,130.03 L97.25,130.03 L97.62,130.59 L98.54,131.00Z M96.32,131.00 L97.33,130.50 L97.75,129.80 L98.25,129.80 L98.67,130.50 L99.68,131.00Z M98.99,131.00 L99.59,130.72 L99.75,130.34 L100.25,130.34 L100.41,130.72 L101.01,131.00Z M100.61,131.00 L101.45,130.65 L101.75,130.17 L102.25,130.17 L102.55,130.65 L103.39,131.00Z M102.36,131.00 L103.34,130.68 L103.75,130.23 L104.25,130.23 L104.66,130.68 L105.64,131.00Z M104.19,131.00 L105.27,130.80 L105.75,130.52 L106.25,130.52 L106.73,130.80 L107.81,131.00Z M107.71,131.00 L108.48,130.39 L108.75,129.55 L109.25,129.55 L109.52,130.39 L110.29,131.00Z M108.79,131.00 L109.52,130.79 L109.75,130.49 L110.25,130.49 L110.48,130.79 L111.21,131.00Z M110.48,131.00 L111.39,130.39 L111.75,129.56 L112.25,129.56 L112.61,130.39 L113.52,131.00Z M119.85,131.00 L120.54,130.47 L120.75,129.74 L121.25,129.74 L121.46,130.47 L122.15,131.00Z M121.69,131.00 L122.48,130.61 L122.75,130.07 L123.25,130.07 L123.52,130.61 L124.31,131.00Z M124.02,131.00 L124.61,130.71 L124.75,130.31 L125.25,130.31 L125.39,130.71 L125.98,131.00Z M126.95,131.00 L127.58,130.75 L127.75,130.40 L128.25,130.40 L128.42,130.75 L129.05,131.00Z M130.31,131.00 L131.32,130.53 L131.75,129.87 L132.25,129.87 L132.68,130.53 L133.69,131.00Z M132.65,131.00 L133.46,130.63 L133.75,130.12 L134.25,130.12 L134.54,130.63 L135.35,131.00Z M133.83,131.00 L134.53,130.47 L134.75,129.73 L135.25,129.73 L135.47,130.47 L136.17,131.00Z M134.55,131.00 L135.42,130.54 L135.75,129.91 L136.25,129.91 L136.58,130.54 L137.45,131.00Z M138.58,131.00 L139.43,130.80 L139.75,130.53 L140.25,130.53 L140.57,130.80 L141.42,131.00Z M139.80,131.00 L140.52,130.58 L140.75,130.01 L141.25,130.01 L141.48,130.58 L142.20,131.00Z M140.99,131.00 L141.60,130.81 L141.75,130.56 L142.25,130.56 L142.40,130.81 L143.01,131.00Z M141.55,131.00 L142.42,130.44 L142.75,129.66 L143.25,129.66 L143.58,130.44 L144.45,131.00Z M142.49,131.00 L143.40,130.50 L143.75,129.82 L144.25,129.82 L144.60,130.50 L145.51,131.00Z M143.92,131.00 L144.57,130.48 L144.75,129.77 L145.25,129.77 L145.43,130.48 L146.08,131.00Z M145.90,131.00 L146.56,130.70 L146.75,130.29 L147.25,130.29 L147.44,130.70 L148.10,131.00Z M149.42,131.00 L150.37,130.63 L150.75,130.13 L151.25,130.13 L151.63,130.63 L152.58,131.00Z M150.28,131.00 L151.31,130.41 L151.75,129.59 L152.25,129.59 L152.69,130.41 L153.72,131.00Z M156.03,131.00 L156.61,130.69 L156.75,130.26 L157.25,130.26 L157.39,130.69 L157.97,131.00Z M157.06,131.00 L157.62,130.46 L157.75,129.72 L158.25,129.72 L158.38,130.46 L158.94,131.00Z M158.36,131.00 L159.34,130.43 L159.75,129.63 L160.25,129.63 L160.66,130.43 L161.64,131.00Z M161.77,131.00 L162.51,130.71 L162.75,130.31 L163.25,130.31 L163.49,130.71 L164.23,131.00Z M162.24,131.00 L163.29,130.52 L163.75,129.86 L164.25,129.86 L164.71,130.52 L165.76,131.00Z M166.37,131.00 L167.35,130.60 L167.75,130.04 L168.25,130.04 L168.65,130.60 L169.63,131.00Z M168.51,131.00 L169.41,130.67 L169.75,130.21 L170.25,130.21 L170.59,130.67 L171.49,131.00Z M170.16,131.00 L170.66,130.42 L170.75,129.63 L171.25,129.63 L171.34,130.42 L171.84,131.00Z M172.66,131.00 L173.46,130.57 L173.75,129.97 L174.25,129.97 L174.54,130.57 L175.34,131.00Z M178.28,131.00 L179.31,130.45 L179.75,129.69 L180.25,129.69 L180.69,130.45 L181.72,131.00Z M181.47,131.00 L182.39,130.74 L182.75,130.37 L183.25,130.37 L183.61,130.74 L184.53,131.00Z M182.56,131.00 L183.42,130.48 L183.75,129.77 L184.25,129.77 L184.58,130.48 L185.44,131.00Z M184.21,131.00 L185.28,130.69 L185.75,130.27 L186.25,130.27 L186.72,130.69 L187.79,131.00Z M186.70,131.00 L187.48,130.57 L187.75,129.98 L188.25,129.98 L188.52,130.57 L189.30,131.00Z M189.23,131.00 L190.29,130.38 L190.75,129.52 L191.25,129.52 L191.71,130.38 L192.77,131.00Z M191.39,131.00 L192.36,130.74 L192.75,130.39 L193.25,130.39 L193.64,130.74 L194.61,131.00Z M194.61,131.00 L195.44,130.50 L195.75,129.81 L196.25,129.81 L196.56,130.50 L197.39,131.00Z M195.69,131.00 L196.48,130.56 L196.75,129.95 L197.25,129.95 L197.52,130.56 L198.31,131.00Z M199.17,131.00 L200.27,130.57 L200.75,129.97 L201.25,129.97 L201.73,130.57 L202.83,131.00Z M203.51,131.00 L204.40,130.47 L204.75,129.73 L205.25,129.73 L205.60,130.47 L206.49,131.00Z M206.03,131.00 L206.61,130.55 L206.75,129.92 L207.25,129.92 L207.39,130.55 L207.97,131.00Z M207.32,131.00 L208.33,130.40 L208.75,129.58 L209.25,129.58 L209.67,130.40 L210.68,131.00Z M210.99,131.00 L211.60,130.59 L211.75,130.02 L212.25,130.02 L212.40,130.59 L213.01,131.00Z M215.15,131.00 L215.66,130.45 L215.75,129.70 L216.25,129.70 L216.34,130.45 L216.85,131.00Z M217.23,131.00 L218.29,130.64 L218.75,130.14 L219.25,130.14 L219.71,130.64 L220.77,131.00Z M219.79,131.00 L220.51,130.46 L220.75,129.70 L221.25,129.70 L221.49,130.46 L222.21,131.00Z M221.14,131.00 L222.26,130.80 L222.75,130.51 L223.25,130.51 L223.74,130.80 L224.86,131.00Z M222.35,131.00 L223.34,130.72 L223.75,130.32 L224.25,130.32 L224.66,130.72 L225.65,131.00Z M223.26,131.00 L224.30,130.58 L224.75,130.00 L225.25,130.00 L225.70,130.58 L226.74,131.00Z M225.29,131.00 L226.32,130.48 L226.75,129.77 L227.25,129.77 L227.68,130.48 L228.71,131.00Z M228.12,131.00 L229.25,130.64 L229.75,130.15 L230.25,130.15 L230.75,130.64 L231.88,131.00Z M230.92,131.00 L231.57,130.74 L231.75,130.38 L232.25,130.38 L232.43,130.74 L233.08,131.00Z M232.36,131.00 L233.34,130.75 L233.75,130.41 L234.25,130.41 L234.66,130.75 L235.64,131.00Z M233.68,131.00 L234.47,130.38 L234.75,129.52 L235.25,129.52 L235.53,130.38 L236.32,131.00Z M236.72,131.00 L237.49,130.47 L237.75,129.74 L238.25,129.74 L238.51,130.47 L239.28,131.00Z M237.42,131.00 L238.37,130.81 L238.75,130.55 L239.25,130.55 L239.63,130.81 L240.58,131.00Z M239.95,131.00 L240.58,130.45 L240.75,129.68 L241.25,129.68 L241.42,130.45 L242.05,131.00Z M240.79,131.00 L241.52,130.79 L241.75,130.50 L242.25,130.50 L242.48,130.79 L243.21,131.00Z M243.48,131.00 L244.39,130.72 L244.75,130.34 L245.25,130.34 L245.61,130.72 L246.52,131.00Z M245.10,131.00 L245.64,130.42 L245.75,129.62 L246.25,129.62 L246.36,130.42 L246.90,131.00Z M248.98,131.00 L249.59,130.80 L249.75,130.52 L250.25,130.52 L250.41,130.80 L251.02,131.00Z M250.34,131.00 L251.34,130.78 L251.75,130.48 L252.25,130.48 L252.66,130.78 L253.66,131.00Z M259.07,131.00 L259.63,130.82 L259.75,130.57 L260.25,130.57 L260.37,130.82 L260.93,131.00Z M260.03,131.00 L260.61,130.62 L260.75,130.09 L261.25,130.09 L261.39,130.62 L261.97,131.00Z M264.15,131.00 L265.26,130.42 L265.75,129.63 L266.25,129.63 L266.74,130.42 L267.85,131.00Z M265.32,131.00 L266.33,130.77 L266.75,130.46 L267.25,130.46 L267.67,130.77 L268.68,131.00Z M269.04,131.00 L269.62,130.55 L269.75,129.94 L270.25,129.94 L270.38,130.55 L270.96,131.00Z M269.38,131.00 L270.35,130.64 L270.75,130.14 L271.25,130.14 L271.65,130.64 L272.62,131.00Z M271.13,131.00 L271.65,130.40 L271.75,129.58 L272.25,129.58 L272.35,130.40 L272.87,131.00Z M272.30,131.00 L273.32,130.45 L273.75,129.70 L274.25,129.70 L274.68,130.45 L275.70,131.00Z M277.05,131.00 L277.62,130.45 L277.75,129.68 L278.25,129.68 L278.38,130.45 L278.95,131.00Z M279.83,131.00 L280.53,130.40 L280.75,129.56 L281.25,129.56 L281.47,130.40 L282.17,131.00Z M281.13,131.00 L281.65,130.71 L281.75,130.32 L282.25,130.32 L282.35,130.71 L282.87,131.00Z M281.12,131.00 L282.25,130.50 L282.75,129.82 L283.25,129.82 L283.75,130.50 L284.88,131.00Z M287.00,131.00 L287.60,130.72 L287.75,130.32 L288.25,130.32 L288.40,130.72 L289.00,131.00Z M288.82,131.00 L289.53,130.49 L289.75,129.79 L290.25,129.79 L290.47,130.49 L291.18,131.00Z M292.44,131.00 L293.37,130.71 L293.75,130.32 L294.25,130.32 L294.63,130.71 L295.56,131.00Z M293.15,131.00 L294.26,130.52 L294.75,129.86 L295.25,129.86 L295.74,130.52 L296.85,131.00Z M294.52,131.00 L295.41,130.39 L295.75,129.54 L296.25,129.54 L296.59,130.39 L297.48,131.00Z M299.55,131.00 L300.42,130.59 L300.75,130.03 L301.25,130.03 L301.58,130.59 L302.45,131.00Z M305.50,131.00 L306.40,130.51 L306.75,129.83 L307.25,129.83 L307.60,130.51 L308.50,131.00Z M307.14,131.00 L308.25,130.75 L308.75,130.41 L309.25,130.41 L309.75,130.75 L310.86,131.00Z M308.54,131.00 L309.42,130.51 L309.75,129.82 L310.25,129.82 L310.58,130.51 L311.46,131.00Z M309.57,131.00 L310.43,130.63 L310.75,130.12 L311.25,130.12 L311.57,130.63 L312.43,131.00Z M313.53,131.00 L314.41,130.50 L314.75,129.82 L315.25,129.82 L315.59,130.50 L316.47,131.00Z M316.52,131.00 L317.41,130.39 L317.75,129.54 L318.25,129.54 L318.59,130.39 L319.48,131.00Z M318.06,131.00 L318.62,130.62 L318.75,130.09 L319.25,130.09 L319.38,130.62 L319.94,131.00Z M318.41,131.00 L319.37,130.44 L319.75,129.68 L320.25,129.68 L320.63,130.44 L321.59,131.00Z M320.76,131.00 L321.50,130.78 L321.75,130.48 L322.25,130.48 L322.50,130.78 L323.24,131.00Z M323.55,131.00 L324.42,130.49 L324.75,129.79 L325.25,129.79 L325.58,130.49 L326.45,131.00Z M325.08,131.00 L325.63,130.47 L325.75,129.73 L326.25,129.73 L326.37,130.47 L326.92,131.00Z M326.66,131.00 L327.46,130.81 L327.75,130.55 L328.25,130.55 L328.54,130.81 L329.34,131.00Z M329.34,131.00 L330.33,130.40 L330.75,129.58 L331.25,129.58 L331.67,130.40 L332.66,131.00Z M330.15,131.00 L331.26,130.83 L331.75,130.59 L332.25,130.59 L332.74,130.83 L333.85,131.00Z M331.97,131.00 L332.59,130.78 L332.75,130.48 L333.25,130.48 L333.41,130.78 L334.03,131.00Z M333.45,131.00 L334.38,130.66 L334.75,130.19 L335.25,130.19 L335.62,130.66 L336.55,131.00Z M334.16,131.00 L335.27,130.53 L335.75,129.88 L336.25,129.88 L336.73,130.53 L337.84,131.00Z M338.48,131.00 L339.39,130.54 L339.75,129.90 L340.25,129.90 L340.61,130.54 L341.52,131.00Z M342.13,131.00 L343.25,130.50 L343.75,129.82 L344.25,129.82 L344.75,130.50 L345.87,131.00Z M343.12,131.00 L344.25,130.72 L344.75,130.32 L345.25,130.32 L345.75,130.72 L346.88,131.00Z M344.55,131.00 L345.42,130.45 L345.75,129.70 L346.25,129.70 L346.58,130.45 L347.45,131.00Z M346.15,131.00 L346.66,130.54 L346.75,129.91 L347.25,129.91 L347.34,130.54 L347.85,131.00Z M347.22,131.00 L348.29,130.41 L348.75,129.58 L349.25,129.58 L349.71,130.41 L350.78,131.00Z M349.00,131.00 L349.60,130.65 L349.75,130.16 L350.25,130.16 L350.40,130.65 L351.00,131.00Z M351.04,131.00 L351.62,130.80 L351.75,130.52 L352.25,130.52 L352.38,130.80 L352.96,131.00Z M352.69,131.00 L353.48,130.68 L353.75,130.24 L354.25,130.24 L354.52,130.68 L355.31,131.00Z M354.80,131.00 L355.52,130.39 L355.75,129.56 L356.25,129.56 L356.48,130.39 L357.20,131.00Z M357.28,131.00 L358.31,130.75 L358.75,130.41 L359.25,130.41 L359.69,130.75 L360.72,131.00Z M358.30,131.00 L359.32,130.42 L359.75,129.62 L360.25,129.62 L360.68,130.42 L361.70,131.00Z M360.05,131.00 L360.62,130.68 L360.75,130.23 L361.25,130.23 L361.38,130.68 L361.95,131.00Z M361.97,131.00 L362.59,130.67 L362.75,130.22 L363.25,130.22 L363.41,130.67 L364.03,131.00Z M363.02,131.00 L363.61,130.43 L363.75,129.64 L364.25,129.64 L364.39,130.43 L364.98,131.00Z M367.30,131.00 L368.32,130.74 L368.75,130.39 L369.25,130.39 L369.68,130.74 L370.70,131.00Z M370.95,131.00 L371.58,130.41 L371.75,129.60 L372.25,129.60 L372.42,130.41 L373.05,131.00Z M371.29,131.00 L372.31,130.54 L372.75,129.91 L373.25,129.91 L373.69,130.54 L374.71,131.00Z M374.00,131.00 L374.60,130.38 L374.75,129.52 L375.25,129.52 L375.40,130.38 L376.00,131.00Z M374.33,131.00 L375.33,130.38 L375.75,129.51 L376.25,129.51 L376.67,130.38 L377.67,131.00Z M376.74,131.00 L377.50,130.44 L377.75,129.66 L378.25,129.66 L378.50,130.44 L379.26,131.00Z M377.18,131.00 L378.27,130.47 L378.75,129.73 L379.25,129.73 L379.73,130.47 L380.82,131.00Z M378.21,131.00 L379.29,130.62 L379.75,130.10 L380.25,130.10 L380.71,130.62 L381.79,131.00Z M379.34,131.00 L380.34,130.69 L380.75,130.27 L381.25,130.27 L381.66,130.69 L382.66,131.00Z M380.26,131.00 L381.30,130.37 L381.75,129.50 L382.25,129.50 L382.70,130.37 L383.74,131.00Z M383.55,131.00 L384.42,130.51 L384.75,129.84 L385.25,129.84 L385.58,130.51 L386.45,131.00Z M386.20,131.00 L387.28,130.74 L387.75,130.38 L388.25,130.38 L388.72,130.74 L389.80,131.00Z M387.13,131.00 L388.25,130.78 L388.75,130.48 L389.25,130.48 L389.75,130.78 L390.87,131.00Z M390.81,131.00 L391.52,130.76 L391.75,130.44 L392.25,130.44 L392.48,130.76 L393.19,131.00Z M392.84,131.00 L393.54,130.41 L393.75,129.60 L394.25,129.60 L394.46,130.41 L395.16,131.00Z M395.02,131.00 L395.61,130.63 L395.75,130.11 L396.25,130.11 L396.39,130.63 L396.98,131.00Z M395.78,131.00 L396.51,130.59 L396.75,130.03 L397.25,130.03 L397.49,130.59 L398.22,131.00Z M397.82,131.00 L398.53,130.69 L398.75,130.26 L399.25,130.26 L399.47,130.69 L400.18,131.00Z M399.26,131.00 L400.31,130.64 L400.75,130.14 L401.25,130.14 L401.69,130.64 L402.74,131.00Z M402.05,131.00 L402.62,130.37 L402.75,129.50 L403.25,129.50 L403.38,130.37 L403.95,131.00Z M402.70,131.00 L403.48,130.82 L403.75,130.58 L404.25,130.58 L404.52,130.82 L405.30,131.00Z M404.32,131.00 L405.33,130.70 L405.75,130.29 L406.25,130.29 L406.67,130.70 L407.68,131.00Z M405.46,131.00 L406.39,130.82 L406.75,130.58 L407.25,130.58 L407.61,130.82 L408.54,131.00Z M407.01,131.00 L407.60,130.59 L407.75,130.02 L408.25,130.02 L408.40,130.59 L408.99,131.00Z" fill="#f03a2c"/>
<path d="M163.42,131.00 L164.37,130.28 L164.75,129.29 L165.25,129.29 L165.63,130.28 L166.58,131.00Z M164.76,131.00 L165.51,130.62 L165.75,130.10 L166.25,130.10 L166.49,130.62 L167.24,131.00Z M165.47,131.00 L166.39,130.59 L166.75,130.03 L167.25,130.03 L167.61,130.59 L168.53,131.00Z M166.79,131.00 L167.52,130.03 L167.75,128.70 L168.25,128.70 L168.48,130.03 L169.21,131.00Z M168.03,131.00 L168.61,130.76 L168.75,130.44 L169.25,130.44 L169.39,130.76 L169.97,131.00Z M168.72,131.00 L169.49,130.05 L169.75,128.75 L170.25,128.75 L170.51,130.05 L171.28,131.00Z M169.15,131.00 L170.26,129.99 L170.75,128.58 L171.25,128.58 L171.74,129.99 L172.85,131.00Z M170.82,131.00 L171.53,130.62 L171.75,130.10 L172.25,130.10 L172.47,130.62 L173.18,131.00Z M171.80,131.00 L172.52,130.60 L172.75,130.06 L173.25,130.06 L173.48,130.60 L174.20,131.00Z M172.37,131.00 L173.35,130.62 L173.75,130.09 L174.25,130.09 L174.65,130.62 L175.63,131.00Z" fill="#f03a2c"/>
<path d="M203.66,131.00 L204.47,130.44 L204.75,129.66 L205.25,129.66 L205.53,130.44 L206.34,131.00Z M205.14,131.00 L205.65,130.23 L205.75,129.16 L206.25,129.16 L206.35,130.23 L206.86,131.00Z M205.80,131.00 L206.52,130.42 L206.75,129.63 L207.25,129.63 L207.48,130.42 L208.20,131.00Z M208.13,131.00 L208.65,130.52 L208.75,129.86 L209.25,129.86 L209.35,130.52 L209.87,131.00Z M208.77,131.00 L209.51,130.44 L209.75,129.68 L210.25,129.68 L210.49,130.44 L211.23,131.00Z M209.89,131.00 L210.56,130.32 L210.75,129.39 L211.25,129.39 L211.44,130.32 L212.11,131.00Z M210.85,131.00 L211.54,130.37 L211.75,129.49 L212.25,129.49 L212.46,130.37 L213.15,131.00Z M212.07,131.00 L212.63,130.44 L212.75,129.66 L213.25,129.66 L213.37,130.44 L213.93,131.00Z M212.71,131.00 L213.48,130.79 L213.75,130.49 L214.25,130.49 L214.52,130.79 L215.29,131.00Z M215.91,131.00 L216.56,130.70 L216.75,130.28 L217.25,130.28 L217.44,130.70 L218.09,131.00Z M216.49,131.00 L217.40,130.50 L217.75,129.82 L218.25,129.82 L218.60,130.50 L219.51,131.00Z M217.71,131.00 L218.49,130.40 L218.75,129.57 L219.25,129.57 L219.51,130.40 L220.29,131.00Z M218.74,131.00 L219.50,130.10 L219.75,128.86 L220.25,128.86 L220.50,130.10 L221.26,131.00Z M219.68,131.00 L220.47,130.59 L220.75,130.03 L221.25,130.03 L221.53,130.59 L222.32,131.00Z M220.62,131.00 L221.45,130.79 L221.75,130.49 L222.25,130.49 L222.55,130.79 L223.38,131.00Z M221.90,131.00 L222.56,130.67 L222.75,130.21 L223.25,130.21 L223.44,130.67 L224.10,131.00Z M222.96,131.00 L223.58,130.52 L223.75,129.87 L224.25,129.87 L224.42,130.52 L225.04,131.00Z" fill="#f03a2c"/>
<path d="M238.74,131.00 L239.50,130.15 L239.75,128.98 L240.25,128.98 L240.50,130.15 L241.26,131.00Z M239.93,131.00 L240.57,130.41 L240.75,129.60 L241.25,129.60 L241.43,130.41 L242.07,131.00Z M241.07,131.00 L241.63,130.05 L241.75,128.74 L242.25,128.74 L242.37,130.05 L242.93,131.00Z M241.13,131.00 L242.25,130.43 L242.75,129.65 L243.25,129.65 L243.75,130.43 L244.87,131.00Z M243.80,131.00 L244.52,129.93 L244.75,128.44 L245.25,128.44 L245.48,129.93 L246.20,131.00Z M244.21,131.00 L245.28,129.69 L245.75,127.89 L246.25,127.89 L246.72,129.69 L247.79,131.00Z M245.13,131.00 L246.25,130.00 L246.75,128.63 L247.25,128.63 L247.75,130.00 L248.87,131.00Z M246.47,131.00 L247.39,129.95 L247.75,128.50 L248.25,128.50 L248.61,129.95 L249.53,131.00Z M247.84,131.00 L248.54,129.72 L248.75,127.95 L249.25,127.95 L249.46,129.72 L250.16,131.00Z M248.54,131.00 L249.42,130.12 L249.75,128.91 L250.25,128.91 L250.58,130.12 L251.46,131.00Z M249.27,131.00 L250.31,129.71 L250.75,127.93 L251.25,127.93 L251.69,129.71 L252.73,131.00Z M250.43,131.00 L251.37,130.14 L251.75,128.94 L252.25,128.94 L252.63,130.14 L253.57,131.00Z M252.03,131.00 L252.61,129.78 L252.75,128.10 L253.25,128.10 L253.39,129.78 L253.97,131.00Z M253.96,131.00 L254.58,130.47 L254.75,129.74 L255.25,129.74 L255.42,130.47 L256.04,131.00Z M254.43,131.00 L255.37,130.23 L255.75,129.16 L256.25,129.16 L256.63,130.23 L257.57,131.00Z M255.71,131.00 L256.48,129.69 L256.75,127.89 L257.25,127.89 L257.52,129.69 L258.29,131.00Z" fill="#f03a2c"/>
<path d="M286.52,131.00 L287.41,129.72 L287.75,127.94 L288.25,127.94 L288.59,129.72 L289.48,131.00Z M287.67,131.00 L288.47,130.39 L288.75,129.55 L289.25,129.55 L289.53,130.39 L290.33,131.00Z M288.29,131.00 L289.32,130.45 L289.75,129.68 L290.25,129.68 L290.68,130.45 L291.71,131.00Z M289.27,131.00 L290.31,130.70 L290.75,130.29 L291.25,130.29 L291.69,130.70 L292.73,131.00Z M290.54,131.00 L291.42,130.03 L291.75,128.69 L292.25,128.69 L292.58,130.03 L293.46,131.00Z M291.35,131.00 L292.34,130.35 L292.75,129.45 L293.25,129.45 L293.66,130.35 L294.65,131.00Z M292.83,131.00 L293.53,129.55 L293.75,127.55 L294.25,127.55 L294.47,129.55 L295.17,131.00Z M293.37,131.00 L294.35,130.37 L294.75,129.51 L295.25,129.51 L295.65,130.37 L296.63,131.00Z M294.82,131.00 L295.53,129.92 L295.75,128.43 L296.25,128.43 L296.47,129.92 L297.18,131.00Z M295.95,131.00 L296.58,129.66 L296.75,127.80 L297.25,127.80 L297.42,129.66 L298.05,131.00Z M296.91,131.00 L297.56,129.41 L297.75,127.21 L298.25,127.21 L298.44,129.41 L299.09,131.00Z M297.15,131.00 L298.26,129.42 L298.75,127.25 L299.25,127.25 L299.74,129.42 L300.85,131.00Z M298.18,131.00 L299.27,129.66 L299.75,127.81 L300.25,127.81 L300.73,129.66 L301.82,131.00Z M299.85,131.00 L300.54,129.65 L300.75,127.79 L301.25,127.79 L301.46,129.65 L302.15,131.00Z M300.66,131.00 L301.47,130.06 L301.75,128.77 L302.25,128.77 L302.53,130.06 L303.34,131.00Z M301.42,131.00 L302.37,129.85 L302.75,128.25 L303.25,128.25 L303.63,129.85 L304.58,131.00Z M303.06,131.00 L303.63,130.76 L303.75,130.44 L304.25,130.44 L304.37,130.76 L304.94,131.00Z M303.38,131.00 L304.35,129.33 L304.75,127.01 L305.25,127.01 L305.65,129.33 L306.62,131.00Z M305.02,131.00 L305.61,129.70 L305.75,127.90 L306.25,127.90 L306.39,129.70 L306.98,131.00Z M305.27,131.00 L306.31,129.40 L306.75,127.18 L307.25,127.18 L307.69,129.40 L308.73,131.00Z M307.36,131.00 L308.34,129.76 L308.75,128.04 L309.25,128.04 L309.66,129.76 L310.64,131.00Z" fill="#f03a2c"/>
<path d="M337.83,131.00 L338.53,130.80 L338.75,130.53 L339.25,130.53 L339.47,130.80 L340.17,131.00Z M338.54,131.00 L339.42,130.59 L339.75,130.03 L340.25,130.03 L340.58,130.59 L341.46,131.00Z M340.06,131.00 L340.62,130.61 L340.75,130.08 L341.25,130.08 L341.38,130.61 L341.94,131.00Z M340.54,131.00 L341.42,130.38 L341.75,129.52 L342.25,129.52 L342.58,130.38 L343.46,131.00Z M343.08,131.00 L343.63,130.61 L343.75,130.06 L344.25,130.06 L344.37,130.61 L344.92,131.00Z M344.31,131.00 L345.32,130.25 L345.75,129.22 L346.25,129.22 L346.68,130.25 L347.69,131.00Z M345.81,131.00 L346.52,130.04 L346.75,128.70 L347.25,128.70 L347.48,130.04 L348.19,131.00Z M346.38,131.00 L347.35,130.48 L347.75,129.75 L348.25,129.75 L348.65,130.48 L349.62,131.00Z M347.90,131.00 L348.56,130.59 L348.75,130.02 L349.25,130.02 L349.44,130.59 L350.10,131.00Z" fill="#f03a2c"/>
<path d="M351.00,131.00 L351.60,130.33 L351.75,129.41 L352.25,129.41 L352.40,130.33 L353.00,131.00Z M351.77,131.00 L352.51,130.21 L352.75,129.12 L353.25,129.12 L353.49,130.21 L354.23,131.00Z M352.49,131.00 L353.40,129.91 L353.75,128.41 L354.25,128.41 L354.60,129.91 L355.51,131.00Z M353.25,131.00 L354.30,130.50 L354.75,129.81 L355.25,129.81 L355.70,130.50 L356.75,131.00Z M356.07,131.00 L356.63,130.81 L356.75,130.54 L357.25,130.54 L357.37,130.81 L357.93,131.00Z M356.40,131.00 L357.36,129.88 L357.75,128.34 L358.25,128.34 L358.64,129.88 L359.60,131.00Z M358.04,131.00 L358.62,130.24 L358.75,129.20 L359.25,129.20 L359.38,130.24 L359.96,131.00Z M358.94,131.00 L359.58,129.74 L359.75,128.00 L360.25,128.00 L360.42,129.74 L361.06,131.00Z M359.48,131.00 L360.39,129.90 L360.75,128.39 L361.25,128.39 L361.61,129.90 L362.52,131.00Z M360.39,131.00 L361.36,130.57 L361.75,129.98 L362.25,129.98 L362.64,130.57 L363.61,131.00Z M362.38,131.00 L363.35,130.39 L363.75,129.56 L364.25,129.56 L364.65,130.39 L365.62,131.00Z M363.37,131.00 L364.35,130.42 L364.75,129.62 L365.25,129.62 L365.65,130.42 L366.63,131.00Z M365.16,131.00 L365.66,130.61 L365.75,130.08 L366.25,130.08 L366.34,130.61 L366.84,131.00Z M366.12,131.00 L366.65,130.01 L366.75,128.64 L367.25,128.64 L367.35,130.01 L367.88,131.00Z" fill="#f03a2c"/>
<path d="M376.94,131.00 L377.58,130.22 L377.75,129.13 L378.25,129.13 L378.42,130.22 L379.06,131.00Z M377.55,131.00 L378.42,130.47 L378.75,129.73 L379.25,129.73 L379.58,130.47 L380.45,131.00Z M378.26,131.00 L379.31,130.16 L379.75,129.00 L380.25,129.00 L380.69,130.16 L381.74,131.00Z M379.46,131.00 L380.38,129.84 L380.75,128.24 L381.25,128.24 L381.62,129.84 L382.54,131.00Z M380.16,131.00 L381.26,130.47 L381.75,129.74 L382.25,129.74 L382.74,130.47 L383.84,131.00Z M381.64,131.00 L382.46,129.78 L382.75,128.09 L383.25,128.09 L383.54,129.78 L384.36,131.00Z M383.08,131.00 L383.63,130.26 L383.75,129.24 L384.25,129.24 L384.37,130.26 L384.92,131.00Z M384.06,131.00 L384.62,129.09 L384.75,126.46 L385.25,126.46 L385.38,129.09 L385.94,131.00Z M385.35,131.00 L386.34,128.90 L386.75,126.01 L387.25,126.01 L387.66,128.90 L388.65,131.00Z M386.23,131.00 L387.29,130.42 L387.75,129.62 L388.25,129.62 L388.71,130.42 L389.77,131.00Z M388.59,131.00 L389.44,129.70 L389.75,127.91 L390.25,127.91 L390.56,129.70 L391.41,131.00Z M389.28,131.00 L390.31,129.24 L390.75,126.82 L391.25,126.82 L391.69,129.24 L392.72,131.00Z M390.16,131.00 L391.26,129.23 L391.75,126.80 L392.25,126.80 L392.74,129.23 L393.84,131.00Z M391.96,131.00 L392.58,130.81 L392.75,130.56 L393.25,130.56 L393.42,130.81 L394.04,131.00Z M392.20,131.00 L393.28,130.01 L393.75,128.64 L394.25,128.64 L394.72,130.01 L395.80,131.00Z M394.00,131.00 L394.60,129.48 L394.75,127.38 L395.25,127.38 L395.40,129.48 L396.00,131.00Z M394.20,131.00 L395.28,129.46 L395.75,127.33 L396.25,127.33 L396.72,129.46 L397.80,131.00Z M396.13,131.00 L397.25,129.86 L397.75,128.29 L398.25,128.29 L398.75,129.86 L399.87,131.00Z M397.97,131.00 L398.59,130.70 L398.75,130.27 L399.25,130.27 L399.41,130.70 L400.03,131.00Z" fill="#f03a2c"/>
<path d="M398.42,131.00 L399.37,130.34 L399.75,129.43 L400.25,129.43 L400.63,130.34 L401.58,131.00Z M400.12,131.00 L400.65,129.61 L400.75,127.69 L401.25,127.69 L401.35,129.61 L401.88,131.00Z M400.42,131.00 L401.37,129.63 L401.75,127.73 L402.25,127.73 L402.63,129.63 L403.58,131.00Z M401.52,131.00 L402.41,129.60 L402.75,127.66 L403.25,127.66 L403.59,129.60 L404.48,131.00Z M403.05,131.00 L403.62,130.01 L403.75,128.64 L404.25,128.64 L404.38,130.01 L404.95,131.00Z M403.81,131.00 L404.52,129.42 L404.75,127.24 L405.25,127.24 L405.48,129.42 L406.19,131.00Z M404.44,131.00 L405.38,129.51 L405.75,127.46 L406.25,127.46 L406.62,129.51 L407.56,131.00Z M405.63,131.00 L406.45,130.12 L406.75,128.91 L407.25,128.91 L407.55,130.12 L408.37,131.00Z M406.99,131.00 L407.60,130.53 L407.75,129.88 L408.25,129.88 L408.40,130.53 L409.01,131.00Z M408.08,131.00 L408.63,130.04 L408.75,128.71 L409.25,128.71 L409.37,130.04 L409.92,131.00Z M408.75,131.00 L409.50,130.68 L409.75,130.23 L410.25,130.23 L410.50,130.68 L411.25,131.00Z" fill="#f03a2c"/>
<path d="M64.90,131.00 L66.16,129.74 L66.75,128.00 L67.25,128.00 L67.84,129.74 L69.10,131.00Z M68.76,131.00 L69.86,130.37 L70.35,129.50 L70.85,129.50 L71.33,130.37 L72.44,131.00Z M87.06,131.00 L88.17,129.32 L88.65,127.00 L89.15,127.00 L89.64,129.32 L90.74,131.00Z M91.66,131.00 L92.77,130.16 L93.25,129.00 L93.75,129.00 L94.23,130.16 L95.34,131.00Z M96.16,131.00 L97.27,129.74 L97.75,128.00 L98.25,128.00 L98.73,129.74 L99.84,131.00Z M105.90,131.00 L107.16,129.95 L107.75,128.50 L108.25,128.50 L108.84,129.95 L110.10,131.00Z M109.16,131.00 L110.27,129.95 L110.75,128.50 L111.25,128.50 L111.73,129.95 L112.84,131.00Z M111.66,131.00 L112.77,130.16 L113.25,129.00 L113.75,129.00 L114.23,130.16 L115.34,131.00Z M113.66,131.00 L114.77,129.74 L115.25,128.00 L115.75,128.00 L116.23,129.74 L117.34,131.00Z M125.56,131.00 L126.67,129.32 L127.15,127.00 L127.65,127.00 L128.14,129.32 L129.24,131.00Z M128.16,131.00 L129.26,129.74 L129.75,128.00 L130.25,128.00 L130.74,129.74 L131.84,131.00Z M131.06,131.00 L132.16,129.74 L132.65,128.00 L133.15,128.00 L133.64,129.74 L134.74,131.00Z M141.16,131.00 L142.26,129.74 L142.75,128.00 L143.25,128.00 L143.74,129.74 L144.84,131.00Z M150.12,131.00 L151.07,127.22 L151.45,122.00 L151.95,122.00 L152.33,127.22 L153.27,131.00Z M153.43,131.00 L154.37,129.74 L154.75,128.00 L155.25,128.00 L155.63,129.74 L156.57,131.00Z M157.56,131.00 L158.66,129.74 L159.15,128.00 L159.65,128.00 L160.14,129.74 L161.24,131.00Z M195.03,131.00 L195.97,130.58 L196.35,130.00 L196.85,130.00 L197.23,130.58 L198.17,131.00Z M210.90,131.00 L212.16,129.74 L212.75,128.00 L213.25,128.00 L213.84,129.74 L215.10,131.00Z M216.14,131.00 L217.56,125.54 L218.25,118.00 L218.75,118.00 L219.44,125.54 L220.86,131.00Z M218.66,131.00 L219.76,128.90 L220.25,126.00 L220.75,126.00 L221.24,128.90 L222.34,131.00Z M226.76,131.00 L227.86,130.16 L228.35,129.00 L228.85,129.00 L229.34,130.16 L230.44,131.00Z M231.10,131.00 L232.36,127.64 L232.95,123.00 L233.45,123.00 L234.04,127.64 L235.30,131.00Z M242.90,131.00 L244.16,129.74 L244.75,128.00 L245.25,128.00 L245.84,129.74 L247.10,131.00Z M244.90,131.00 L246.16,129.32 L246.75,127.00 L247.25,127.00 L247.84,129.32 L249.10,131.00Z M246.90,131.00 L248.16,128.90 L248.75,126.00 L249.25,126.00 L249.84,128.90 L251.10,131.00Z M249.40,131.00 L250.66,127.01 L251.25,121.50 L251.75,121.50 L252.34,127.01 L253.60,131.00Z M251.16,131.00 L252.26,129.32 L252.75,127.00 L253.25,127.00 L253.74,129.32 L254.84,131.00Z M253.86,131.00 L254.96,128.06 L255.45,124.00 L255.95,124.00 L256.44,128.06 L257.54,131.00Z M259.76,131.00 L260.87,130.16 L261.35,129.00 L261.85,129.00 L262.34,130.16 L263.44,131.00Z M272.56,131.00 L273.66,123.44 L274.15,113.00 L274.65,113.00 L275.13,123.44 L276.24,131.00Z M275.16,131.00 L276.26,129.74 L276.75,128.00 L277.25,128.00 L277.74,129.74 L278.84,131.00Z M277.90,131.00 L279.16,127.22 L279.75,122.00 L280.25,122.00 L280.84,127.22 L282.10,131.00Z M282.90,131.00 L284.16,123.02 L284.75,112.00 L285.25,112.00 L285.84,123.02 L287.10,131.00Z M282.50,131.00 L283.76,123.02 L284.35,112.00 L284.85,112.00 L285.44,123.02 L286.70,131.00Z M292.50,131.00 L293.76,128.48 L294.35,125.00 L294.85,125.00 L295.44,128.48 L296.70,131.00Z M295.38,131.00 L296.95,129.74 L297.75,128.00 L298.25,128.00 L299.05,129.74 L300.62,131.00Z M297.88,131.00 L299.45,129.32 L300.25,127.00 L300.75,127.00 L301.55,129.32 L303.12,131.00Z M300.38,131.00 L301.95,129.53 L302.75,127.50 L303.25,127.50 L304.05,129.53 L305.62,131.00Z M302.88,131.00 L304.45,129.74 L305.25,128.00 L305.75,128.00 L306.55,129.74 L308.12,131.00Z M312.96,131.00 L314.06,130.16 L314.55,129.00 L315.05,129.00 L315.54,130.16 L316.64,131.00Z M316.66,131.00 L317.76,118.27 L318.25,100.70 L318.75,100.70 L319.24,118.27 L320.34,131.00Z M325.24,131.00 L326.66,127.64 L327.35,123.00 L327.85,123.00 L328.55,127.64 L329.96,131.00Z M329.90,131.00 L331.16,128.48 L331.75,125.00 L332.25,125.00 L332.84,128.48 L334.10,131.00Z M336.76,131.00 L337.87,129.74 L338.35,128.00 L338.85,128.00 L339.34,129.74 L340.44,131.00Z M341.36,131.00 L342.46,129.74 L342.95,128.00 L343.45,128.00 L343.94,129.74 L345.04,131.00Z M347.50,131.00 L348.76,128.90 L349.35,126.00 L349.85,126.00 L350.44,128.90 L351.70,131.00Z M353.90,131.00 L355.16,126.80 L355.75,121.00 L356.25,121.00 L356.84,126.80 L358.10,131.00Z M358.76,131.00 L359.87,129.32 L360.35,127.00 L360.85,127.00 L361.34,129.32 L362.44,131.00Z M362.20,131.00 L363.46,125.75 L364.05,118.50 L364.55,118.50 L365.14,125.75 L366.40,131.00Z M376.16,131.00 L377.26,130.16 L377.75,129.00 L378.25,129.00 L378.74,130.16 L379.84,131.00Z M378.09,131.00 L380.13,127.64 L381.25,123.00 L381.75,123.00 L382.87,127.64 L384.91,131.00Z M379.85,131.00 L381.74,126.80 L382.75,121.00 L383.25,121.00 L384.26,126.80 L386.15,131.00Z M381.19,131.00 L383.24,125.96 L384.35,119.00 L384.85,119.00 L385.97,125.96 L388.01,131.00Z M383.45,131.00 L385.34,127.22 L386.35,122.00 L386.85,122.00 L387.86,127.22 L389.75,131.00Z M386.06,131.00 L388.43,123.44 L389.75,113.00 L390.25,113.00 L391.57,123.44 L393.94,131.00Z M390.76,131.00 L393.12,125.79 L394.45,118.60 L394.95,118.60 L396.27,125.79 L398.64,131.00Z M397.44,131.00 L398.86,118.82 L399.55,102.00 L400.05,102.00 L400.75,118.82 L402.16,131.00Z M400.54,131.00 L401.95,129.32 L402.65,127.00 L403.15,127.00 L403.84,129.32 L405.26,131.00Z M403.94,131.00 L406.61,125.41 L408.15,117.70 L408.65,117.70 L410.19,125.41 L412.86,131.00Z M547.92,131.00 L548.87,129.32 L549.25,127.00 L549.75,127.00 L550.13,129.32 L551.08,131.00Z" fill="#f03a2c"/>
<line x1="58.60" y1="100.50" x2="578.60" y2="100.50" stroke="#e84a3c" stroke-width="1.0"/>
<line x1="58.60" y1="131.00" x2="578.60" y2="131.00" stroke="#e84a3c" stroke-width="1.4"/>
<line x1="58.60" y1="100.30" x2="58.60" y2="131.60" stroke="#e84a3c" stroke-width="1.3"/>
<line x1="578.60" y1="100.30" x2="578.60" y2="131.60" stroke="#e84a3c" stroke-width="1.3"/>
<text x="163.80" y="36.00" font-family="Liberation Sans" font-size="6.9" font-weight="bold" text-anchor="start" fill="#111">HOXA1</text>
<text x="189.50" y="36.00" font-family="Liberation Sans" font-size="6.9" font-weight="bold" text-anchor="start" fill="#111">HOXA2</text>
<text x="227.00" y="36.00" font-family="Liberation Sans" font-size="6.9" font-weight="bold" text-anchor="start" fill="#111">HOXA3</text>
<text x="267.90" y="36.00" font-family="Liberation Sans" font-size="6.9" font-weight="bold" text-anchor="start" fill="#111">HOXA4</text>
<text x="295.30" y="36.00" font-family="Liberation Sans" font-size="6.9" font-weight="bold" text-anchor="start" fill="#111">HOXA5</text>
<text x="321.40" y="36.00" font-family="Liberation Sans" font-size="6.9" font-weight="bold" text-anchor="start" fill="#111">HOXA6</text>
<text x="346.80" y="36.00" font-family="Liberation Sans" font-size="6.9" font-weight="bold" text-anchor="start" fill="#111">HOXA7</text>
<text x="378.40" y="36.00" font-family="Liberation Sans" font-size="6.9" font-weight="bold" text-anchor="start" fill="#111">HOXA9</text>
<text x="405.00" y="36.00" font-family="Liberation Sans" font-size="6.9" font-weight="bold" text-anchor="start" fill="#111">HOXA10</text>
<text x="435.80" y="36.00" font-family="Liberation Sans" font-size="6.9" font-weight="bold" text-anchor="start" fill="#111">HOXA11</text>
<text x="474.70" y="36.00" font-family="Liberation Sans" font-size="6.9" font-weight="bold" text-anchor="start" fill="#111">HOXA13</text>
<text x="155.00" y="138.10" font-family="Liberation Mono" font-size="5.5" fill="#3c3c96" textLength="18.10" lengthAdjust="spacingAndGlyphs">HOXA1</text>
<rect x="175.60" y="134.64" width="4.20" height="3.12" fill="#1a1a80"/>
<rect x="181.00" y="134.28" width="3.80" height="3.84" fill="#1a1a80"/>
<line x1="179.80" y1="136.20" x2="181.00" y2="136.20" stroke="#1a1a80" stroke-width="0.7"/>
<text x="195.00" y="138.10" font-family="Liberation Mono" font-size="5.5" fill="#3c3c96" textLength="18.10" lengthAdjust="spacingAndGlyphs">HOXA3</text>
<rect x="216.00" y="134.52" width="5.00" height="3.36" fill="#1a1a80"/>
<rect x="222.00" y="134.28" width="1.50" height="3.84" fill="#1a1a80"/>
<line x1="223.50" y1="136.20" x2="277.40" y2="136.20" stroke="#1a1a80" stroke-width="0.7"/>
<path d="M225.70,135.20 L226.90,136.20 L225.70,137.20" fill="none" stroke="#1a1a80" stroke-width="0.45"/>
<path d="M228.90,135.20 L230.10,136.20 L228.90,137.20" fill="none" stroke="#1a1a80" stroke-width="0.45"/>
<path d="M232.10,135.20 L233.30,136.20 L232.10,137.20" fill="none" stroke="#1a1a80" stroke-width="0.45"/>
<path d="M235.30,135.20 L236.50,136.20 L235.30,137.20" fill="none" stroke="#1a1a80" stroke-width="0.45"/>
<path d="M238.50,135.20 L239.70,136.20 L238.50,137.20" fill="none" stroke="#1a1a80" stroke-width="0.45"/>
<path d="M241.70,135.20 L242.90,136.20 L241.70,137.20" fill="none" stroke="#1a1a80" stroke-width="0.45"/>
<path d="M244.90,135.20 L246.10,136.20 L244.90,137.20" fill="none" stroke="#1a1a80" stroke-width="0.45"/>
<path d="M248.10,135.20 L249.30,136.20 L248.10,137.20" fill="none" stroke="#1a1a80" stroke-width="0.45"/>
<path d="M251.30,135.20 L252.50,136.20 L251.30,137.20" fill="none" stroke="#1a1a80" stroke-width="0.45"/>
<path d="M254.50,135.20 L255.70,136.20 L254.50,137.20" fill="none" stroke="#1a1a80" stroke-width="0.45"/>
<path d="M257.70,135.20 L258.90,136.20 L257.70,137.20" fill="none" stroke="#1a1a80" stroke-width="0.45"/>
<path d="M260.90,135.20 L262.10,136.20 L260.90,137.20" fill="none" stroke="#1a1a80" stroke-width="0.45"/>
<path d="M264.10,135.20 L265.30,136.20 L264.10,137.20" fill="none" stroke="#1a1a80" stroke-width="0.45"/>
<path d="M267.30,135.20 L268.50,136.20 L267.30,137.20" fill="none" stroke="#1a1a80" stroke-width="0.45"/>
<path d="M270.50,135.20 L271.70,136.20 L270.50,137.20" fill="none" stroke="#1a1a80" stroke-width="0.45"/>
<path d="M273.70,135.20 L274.90,136.20 L273.70,137.20" fill="none" stroke="#1a1a80" stroke-width="0.45"/>
<text x="284.70" y="138.10" font-family="Liberation Mono" font-size="5.5" fill="#3c3c96" textLength="28.96" lengthAdjust="spacingAndGlyphs">HOXA-AS3</text>
<line x1="316.00" y1="136.20" x2="351.60" y2="136.20" stroke="#1a1a80" stroke-width="0.7"/>
<path d="M318.20,135.20 L319.40,136.20 L318.20,137.20" fill="none" stroke="#1a1a80" stroke-width="0.45"/>
<path d="M321.40,135.20 L322.60,136.20 L321.40,137.20" fill="none" stroke="#1a1a80" stroke-width="0.45"/>
<path d="M324.60,135.20 L325.80,136.20 L324.60,137.20" fill="none" stroke="#1a1a80" stroke-width="0.45"/>
<path d="M327.80,135.20 L329.00,136.20 L327.80,137.20" fill="none" stroke="#1a1a80" stroke-width="0.45"/>
<path d="M331.00,135.20 L332.20,136.20 L331.00,137.20" fill="none" stroke="#1a1a80" stroke-width="0.45"/>
<path d="M334.20,135.20 L335.40,136.20 L334.20,137.20" fill="none" stroke="#1a1a80" stroke-width="0.45"/>
<path d="M337.40,135.20 L338.60,136.20 L337.40,137.20" fill="none" stroke="#1a1a80" stroke-width="0.45"/>
<path d="M340.60,135.20 L341.80,136.20 L340.60,137.20" fill="none" stroke="#1a1a80" stroke-width="0.45"/>
<path d="M343.80,135.20 L345.00,136.20 L343.80,137.20" fill="none" stroke="#1a1a80" stroke-width="0.45"/>
<path d="M347.00,135.20 L348.20,136.20 L347.00,137.20" fill="none" stroke="#1a1a80" stroke-width="0.45"/>
<rect x="351.60" y="134.76" width="11.00" height="2.88" fill="#1a1a80"/>
<text x="374.60" y="138.10" font-family="Liberation Mono" font-size="5.5" fill="#8a8aa8" textLength="25.34" lengthAdjust="spacingAndGlyphs">MIR196B</text>
<text x="413.00" y="138.10" font-family="Liberation Mono" font-size="5.5" fill="#3c3c96" textLength="21.72" lengthAdjust="spacingAndGlyphs">HOXA11</text>
<rect x="436.90" y="134.76" width="5.10" height="2.88" fill="#1a1a80"/>
<line x1="442.00" y1="136.20" x2="446.00" y2="136.20" stroke="#1a1a80" stroke-width="0.7"/>
<rect x="446.00" y="134.28" width="3.70" height="3.84" fill="#1a1a80"/>
<text x="461.00" y="138.10" font-family="Liberation Mono" font-size="5.5" fill="#3c3c96" textLength="21.72" lengthAdjust="spacingAndGlyphs">HOXA13</text>
<rect x="485.00" y="134.76" width="4.00" height="2.88" fill="#1a1a80"/>
<line x1="489.00" y1="136.20" x2="491.00" y2="136.20" stroke="#1a1a80" stroke-width="0.7"/>
<rect x="491.00" y="134.28" width="3.70" height="3.84" fill="#1a1a80"/>
<text x="155.00" y="143.60" font-family="Liberation Mono" font-size="5.5" fill="#3c3c96" textLength="18.10" lengthAdjust="spacingAndGlyphs">HOXA1</text>
<rect x="175.60" y="140.14" width="4.20" height="3.12" fill="#1a1a80"/>
<rect x="181.00" y="139.78" width="3.80" height="3.84" fill="#1a1a80"/>
<line x1="179.80" y1="141.70" x2="181.00" y2="141.70" stroke="#1a1a80" stroke-width="0.7"/>
<text x="195.00" y="143.60" font-family="Liberation Mono" font-size="5.5" fill="#3c3c96" textLength="18.10" lengthAdjust="spacingAndGlyphs">HOXA3</text>
<rect x="216.00" y="140.02" width="5.00" height="3.36" fill="#1a1a80"/>
<rect x="222.00" y="139.78" width="1.50" height="3.84" fill="#1a1a80"/>
<line x1="223.50" y1="141.70" x2="255.00" y2="141.70" stroke="#1a1a80" stroke-width="0.7"/>
<path d="M225.70,140.70 L226.90,141.70 L225.70,142.70" fill="none" stroke="#1a1a80" stroke-width="0.45"/>
<path d="M228.90,140.70 L230.10,141.70 L228.90,142.70" fill="none" stroke="#1a1a80" stroke-width="0.45"/>
<path d="M232.10,140.70 L233.30,141.70 L232.10,142.70" fill="none" stroke="#1a1a80" stroke-width="0.45"/>
<path d="M235.30,140.70 L236.50,141.70 L235.30,142.70" fill="none" stroke="#1a1a80" stroke-width="0.45"/>
<path d="M238.50,140.70 L239.70,141.70 L238.50,142.70" fill="none" stroke="#1a1a80" stroke-width="0.45"/>
<path d="M241.70,140.70 L242.90,141.70 L241.70,142.70" fill="none" stroke="#1a1a80" stroke-width="0.45"/>
<path d="M244.90,140.70 L246.10,141.70 L244.90,142.70" fill="none" stroke="#1a1a80" stroke-width="0.45"/>
<path d="M248.10,140.70 L249.30,141.70 L248.10,142.70" fill="none" stroke="#1a1a80" stroke-width="0.45"/>
<path d="M251.30,140.70 L252.50,141.70 L251.30,142.70" fill="none" stroke="#1a1a80" stroke-width="0.45"/>
<text x="297.60" y="143.60" font-family="Liberation Mono" font-size="5.5" fill="#3c3c96" textLength="18.10" lengthAdjust="spacingAndGlyphs">HOXA5</text>
<rect x="318.30" y="140.26" width="3.20" height="2.88" fill="#1a1a80"/>
<rect x="323.50" y="139.78" width="3.40" height="3.84" fill="#1a1a80"/>
<line x1="321.50" y1="141.70" x2="323.50" y2="141.70" stroke="#1a1a80" stroke-width="0.7"/>
<text x="336.00" y="143.60" font-family="Liberation Mono" font-size="5.5" fill="#3c3c96" textLength="18.10" lengthAdjust="spacingAndGlyphs">HOXA7</text>
<rect x="356.00" y="140.26" width="5.00" height="2.88" fill="#1a1a80"/>
<rect x="363.50" y="139.78" width="1.50" height="3.84" fill="#1a1a80"/>
<line x1="361.00" y1="141.70" x2="363.50" y2="141.70" stroke="#1a1a80" stroke-width="0.7"/>
<text x="381.90" y="143.60" font-family="Liberation Mono" font-size="5.5" fill="#3c3c96" textLength="21.72" lengthAdjust="spacingAndGlyphs">HOXA10</text>
<rect x="405.70" y="140.26" width="5.30" height="2.88" fill="#1a1a80"/>
<rect x="414.00" y="139.78" width="3.60" height="3.84" fill="#1a1a80"/>
<line x1="411.00" y1="141.70" x2="414.00" y2="141.70" stroke="#1a1a80" stroke-width="0.7"/>
<text x="471.30" y="143.60" font-family="Liberation Mono" font-size="5.5" fill="#3c3c96" textLength="21.72" lengthAdjust="spacingAndGlyphs">HOTTIP</text>
<rect x="495.30" y="140.26" width="5.50" height="2.88" fill="#1a1a80"/>
<line x1="500.80" y1="141.70" x2="507.00" y2="141.70" stroke="#1a1a80" stroke-width="0.7"/>
<path d="M503.00,140.70 L504.20,141.70 L503.00,142.70" fill="none" stroke="#1a1a80" stroke-width="0.45"/>
<rect x="507.00" y="140.26" width="8.30" height="2.88" fill="#1a1a80"/>
<text x="153.30" y="149.70" font-family="Liberation Mono" font-size="5.5" fill="#3c3c96" textLength="28.96" lengthAdjust="spacingAndGlyphs">HOTAIRM1</text>
<line x1="184.80" y1="147.80" x2="197.60" y2="147.80" stroke="#1a1a80" stroke-width="0.7"/>
<path d="M187.00,146.80 L188.20,147.80 L187.00,148.80" fill="none" stroke="#1a1a80" stroke-width="0.45"/>
<path d="M190.20,146.80 L191.40,147.80 L190.20,148.80" fill="none" stroke="#1a1a80" stroke-width="0.45"/>
<path d="M193.40,146.80 L194.60,147.80 L193.40,148.80" fill="none" stroke="#1a1a80" stroke-width="0.45"/>
<rect x="196.60" y="146.36" width="1.00" height="2.88" fill="#1a1a80"/>
<text x="230.60" y="149.70" font-family="Liberation Mono" font-size="5.5" fill="#3c3c96" textLength="28.96" lengthAdjust="spacingAndGlyphs">HOXA-AS2</text>
<rect x="261.80" y="146.36" width="1.20" height="2.88" fill="#1a1a80"/>
<line x1="263.00" y1="147.80" x2="282.00" y2="147.80" stroke="#1a1a80" stroke-width="0.7"/>
<path d="M265.20,146.80 L266.40,147.80 L265.20,148.80" fill="none" stroke="#1a1a80" stroke-width="0.45"/>
<path d="M268.40,146.80 L269.60,147.80 L268.40,148.80" fill="none" stroke="#1a1a80" stroke-width="0.45"/>
<path d="M271.60,146.80 L272.80,147.80 L271.60,148.80" fill="none" stroke="#1a1a80" stroke-width="0.45"/>
<path d="M274.80,146.80 L276.00,147.80 L274.80,148.80" fill="none" stroke="#1a1a80" stroke-width="0.45"/>
<path d="M278.00,146.80 L279.20,147.80 L278.00,148.80" fill="none" stroke="#1a1a80" stroke-width="0.45"/>
<rect x="281.00" y="146.36" width="1.00" height="2.88" fill="#1a1a80"/>
<text x="311.30" y="149.70" font-family="Liberation Mono" font-size="5.5" fill="#3c3c96" textLength="18.10" lengthAdjust="spacingAndGlyphs">HOXA6</text>
<rect x="331.50" y="146.00" width="1.00" height="3.60" fill="#1a1a80"/>
<line x1="332.50" y1="147.80" x2="337.00" y2="147.80" stroke="#1a1a80" stroke-width="0.7"/>
<rect x="337.00" y="145.88" width="1.80" height="3.84" fill="#1a1a80"/>
<text x="361.70" y="149.70" font-family="Liberation Mono" font-size="5.5" fill="#3c3c96" textLength="18.10" lengthAdjust="spacingAndGlyphs">HOXA9</text>
<rect x="381.90" y="146.36" width="6.10" height="2.88" fill="#1a1a80"/>
<rect x="389.50" y="145.88" width="2.50" height="3.84" fill="#1a1a80"/>
<line x1="388.00" y1="147.80" x2="389.50" y2="147.80" stroke="#1a1a80" stroke-width="0.7"/>
<text x="414.90" y="149.70" font-family="Liberation Mono" font-size="5.5" fill="#3c3c96" textLength="32.58" lengthAdjust="spacingAndGlyphs">HOXA11-AS</text>
<rect x="449.70" y="146.36" width="1.80" height="2.88" fill="#1a1a80"/>
<line x1="451.50" y1="147.80" x2="461.60" y2="147.80" stroke="#1a1a80" stroke-width="0.7"/>
<path d="M453.70,146.80 L454.90,147.80 L453.70,148.80" fill="none" stroke="#1a1a80" stroke-width="0.45"/>
<path d="M456.90,146.80 L458.10,147.80 L456.90,148.80" fill="none" stroke="#1a1a80" stroke-width="0.45"/>
<rect x="460.00" y="146.36" width="1.60" height="2.88" fill="#1a1a80"/>
<text x="153.30" y="156.50" font-family="Liberation Mono" font-size="5.5" fill="#3c3c96" textLength="28.96" lengthAdjust="spacingAndGlyphs">HOTAIRM1</text>
<line x1="185.00" y1="154.60" x2="197.00" y2="154.60" stroke="#1a1a80" stroke-width="0.7"/>
<path d="M187.20,153.60 L188.40,154.60 L187.20,155.60" fill="none" stroke="#1a1a80" stroke-width="0.45"/>
<path d="M190.40,153.60 L191.60,154.60 L190.40,155.60" fill="none" stroke="#1a1a80" stroke-width="0.45"/>
<path d="M193.60,153.60 L194.80,154.60 L193.60,155.60" fill="none" stroke="#1a1a80" stroke-width="0.45"/>
<rect x="195.50" y="153.16" width="1.50" height="2.88" fill="#1a1a80"/>
<text x="261.00" y="156.50" font-family="Liberation Mono" font-size="5.5" fill="#3c3c96" textLength="18.10" lengthAdjust="spacingAndGlyphs">HOXA4</text>
<rect x="281.00" y="153.16" width="2.50" height="2.88" fill="#1a1a80"/>
<rect x="286.00" y="152.68" width="3.30" height="3.84" fill="#1a1a80"/>
<line x1="283.50" y1="154.60" x2="286.00" y2="154.60" stroke="#1a1a80" stroke-width="0.7"/>
<text x="304.90" y="156.50" font-family="Liberation Mono" font-size="5.5" fill="#3c3c96" textLength="28.96" lengthAdjust="spacingAndGlyphs">HOXA-AS3</text>
<line x1="336.00" y1="154.60" x2="351.60" y2="154.60" stroke="#1a1a80" stroke-width="0.7"/>
<path d="M338.20,153.60 L339.40,154.60 L338.20,155.60" fill="none" stroke="#1a1a80" stroke-width="0.45"/>
<path d="M341.40,153.60 L342.60,154.60 L341.40,155.60" fill="none" stroke="#1a1a80" stroke-width="0.45"/>
<path d="M344.60,153.60 L345.80,154.60 L344.60,155.60" fill="none" stroke="#1a1a80" stroke-width="0.45"/>
<path d="M347.80,153.60 L349.00,154.60 L347.80,155.60" fill="none" stroke="#1a1a80" stroke-width="0.45"/>
<rect x="351.60" y="153.16" width="11.00" height="2.88" fill="#1a1a80"/>
<text x="381.90" y="156.50" font-family="Liberation Mono" font-size="5.5" fill="#3c3c96" textLength="21.72" lengthAdjust="spacingAndGlyphs">HOXA10</text>
<rect x="405.70" y="153.16" width="3.70" height="2.88" fill="#1a1a80"/>
<line x1="409.40" y1="154.60" x2="434.00" y2="154.60" stroke="#1a1a80" stroke-width="0.7"/>
<path d="M411.60,153.60 L412.80,154.60 L411.60,155.60" fill="none" stroke="#1a1a80" stroke-width="0.45"/>
<path d="M414.80,153.60 L416.00,154.60 L414.80,155.60" fill="none" stroke="#1a1a80" stroke-width="0.45"/>
<path d="M418.00,153.60 L419.20,154.60 L418.00,155.60" fill="none" stroke="#1a1a80" stroke-width="0.45"/>
<path d="M421.20,153.60 L422.40,154.60 L421.20,155.60" fill="none" stroke="#1a1a80" stroke-width="0.45"/>
<path d="M424.40,153.60 L425.60,154.60 L424.40,155.60" fill="none" stroke="#1a1a80" stroke-width="0.45"/>
<path d="M427.60,153.60 L428.80,154.60 L427.60,155.60" fill="none" stroke="#1a1a80" stroke-width="0.45"/>
<path d="M430.80,153.60 L432.00,154.60 L430.80,155.60" fill="none" stroke="#1a1a80" stroke-width="0.45"/>
<rect x="433.00" y="153.04" width="1.00" height="3.12" fill="#1a1a80"/>
<text x="177.50" y="162.50" font-family="Liberation Mono" font-size="5.5" fill="#3c3c96" textLength="18.10" lengthAdjust="spacingAndGlyphs">HOXA2</text>
<rect x="198.50" y="159.04" width="2.50" height="3.12" fill="#1a1a80"/>
<rect x="202.50" y="158.68" width="2.50" height="3.84" fill="#1a1a80"/>
<line x1="201.00" y1="160.60" x2="202.50" y2="160.60" stroke="#1a1a80" stroke-width="0.7"/>
<text x="336.00" y="162.50" font-family="Liberation Mono" font-size="5.5" fill="#3c3c96" textLength="43.44" lengthAdjust="spacingAndGlyphs">HOXA10-HOXA9</text>
<rect x="381.90" y="159.16" width="4.10" height="2.88" fill="#1a1a80"/>
<line x1="386.00" y1="160.60" x2="434.00" y2="160.60" stroke="#1a1a80" stroke-width="0.7"/>
<path d="M388.20,159.60 L389.40,160.60 L388.20,161.60" fill="none" stroke="#1a1a80" stroke-width="0.45"/>
<path d="M391.40,159.60 L392.60,160.60 L391.40,161.60" fill="none" stroke="#1a1a80" stroke-width="0.45"/>
<path d="M394.60,159.60 L395.80,160.60 L394.60,161.60" fill="none" stroke="#1a1a80" stroke-width="0.45"/>
<path d="M397.80,159.60 L399.00,160.60 L397.80,161.60" fill="none" stroke="#1a1a80" stroke-width="0.45"/>
<path d="M401.00,159.60 L402.20,160.60 L401.00,161.60" fill="none" stroke="#1a1a80" stroke-width="0.45"/>
<path d="M404.20,159.60 L405.40,160.60 L404.20,161.60" fill="none" stroke="#1a1a80" stroke-width="0.45"/>
<path d="M407.40,159.60 L408.60,160.60 L407.40,161.60" fill="none" stroke="#1a1a80" stroke-width="0.45"/>
<path d="M410.60,159.60 L411.80,160.60 L410.60,161.60" fill="none" stroke="#1a1a80" stroke-width="0.45"/>
<path d="M413.80,159.60 L415.00,160.60 L413.80,161.60" fill="none" stroke="#1a1a80" stroke-width="0.45"/>
<path d="M417.00,159.60 L418.20,160.60 L417.00,161.60" fill="none" stroke="#1a1a80" stroke-width="0.45"/>
<path d="M420.20,159.60 L421.40,160.60 L420.20,161.60" fill="none" stroke="#1a1a80" stroke-width="0.45"/>
<path d="M423.40,159.60 L424.60,160.60 L423.40,161.60" fill="none" stroke="#1a1a80" stroke-width="0.45"/>
<path d="M426.60,159.60 L427.80,160.60 L426.60,161.60" fill="none" stroke="#1a1a80" stroke-width="0.45"/>
<path d="M429.80,159.60 L431.00,160.60 L429.80,161.60" fill="none" stroke="#1a1a80" stroke-width="0.45"/>
<rect x="433.00" y="159.04" width="1.00" height="3.12" fill="#1a1a80"/>
<text x="0.90" y="193.80" font-family="Liberation Sans" font-size="12.2" font-weight="bold" text-anchor="start" fill="#000">B</text>
<text x="65.10" y="199.50" font-family="Liberation Sans" font-size="11.75" font-weight="bold" text-anchor="start" fill="#000">Vasculature dev. day 12</text>
<line x1="53.40" y1="204.30" x2="197.10" y2="204.30" stroke="#000" stroke-width="1.8"/>
<text x="332.40" y="199.50" font-family="Liberation Sans" font-size="11.6" font-weight="bold" text-anchor="start" fill="#000">Transcription day 12</text>
<line x1="314.30" y1="204.60" x2="458.80" y2="204.60" stroke="#000" stroke-width="1.8"/>
<text x="516.40" y="199.40" font-family="Liberation Sans" font-size="11.6" font-weight="bold" text-anchor="start" fill="#000">RA signalling day 12</text>
<line x1="543.40" y1="204.60" x2="616.60" y2="204.60" stroke="#000" stroke-width="1.8"/>
<line x1="23.30" y1="217.80" x2="23.30" y2="319.60" stroke="#000" stroke-width="0.75"/>
<line x1="22.90" y1="319.60" x2="273.50" y2="319.60" stroke="#000" stroke-width="0.9"/>
<line x1="21.60" y1="319.60" x2="23.50" y2="319.60" stroke="#111" stroke-width="0.75"/>
<line x1="21.60" y1="317.70" x2="23.50" y2="317.70" stroke="#111" stroke-width="0.75"/>
<line x1="21.60" y1="315.80" x2="23.50" y2="315.80" stroke="#111" stroke-width="0.75"/>
<line x1="21.60" y1="313.90" x2="23.50" y2="313.90" stroke="#111" stroke-width="0.75"/>
<line x1="21.60" y1="312.00" x2="23.50" y2="312.00" stroke="#111" stroke-width="0.75"/>
<line x1="21.60" y1="310.10" x2="23.50" y2="310.10" stroke="#111" stroke-width="0.75"/>
<line x1="21.60" y1="308.20" x2="23.50" y2="308.20" stroke="#111" stroke-width="0.75"/>
<line x1="21.60" y1="306.30" x2="23.50" y2="306.30" stroke="#111" stroke-width="0.75"/>
<line x1="21.60" y1="304.40" x2="23.50" y2="304.40" stroke="#111" stroke-width="0.75"/>
<line x1="21.60" y1="302.50" x2="23.50" y2="302.50" stroke="#111" stroke-width="0.75"/>
<line x1="21.60" y1="300.60" x2="23.50" y2="300.60" stroke="#111" stroke-width="0.75"/>
<line x1="21.60" y1="298.70" x2="23.50" y2="298.70" stroke="#111" stroke-width="0.75"/>
<line x1="21.60" y1="295.70" x2="23.50" y2="295.70" stroke="#111" stroke-width="0.75"/>
<line x1="21.60" y1="292.70" x2="23.50" y2="292.70" stroke="#111" stroke-width="0.75"/>
<line x1="21.60" y1="289.70" x2="23.50" y2="289.70" stroke="#111" stroke-width="0.75"/>
<line x1="21.60" y1="286.70" x2="23.50" y2="286.70" stroke="#111" stroke-width="0.75"/>
<line x1="21.60" y1="283.70" x2="23.50" y2="283.70" stroke="#111" stroke-width="0.75"/>
<line x1="21.60" y1="280.70" x2="23.50" y2="280.70" stroke="#111" stroke-width="0.75"/>
<line x1="21.60" y1="277.70" x2="23.50" y2="277.70" stroke="#111" stroke-width="0.75"/>
<line x1="21.60" y1="274.70" x2="23.50" y2="274.70" stroke="#111" stroke-width="0.75"/>
<line x1="21.60" y1="271.70" x2="23.50" y2="271.70" stroke="#111" stroke-width="0.75"/>
<line x1="21.60" y1="268.70" x2="23.50" y2="268.70" stroke="#111" stroke-width="0.75"/>
<line x1="21.60" y1="265.70" x2="23.50" y2="265.70" stroke="#111" stroke-width="0.75"/>
<line x1="21.60" y1="262.70" x2="23.50" y2="262.70" stroke="#111" stroke-width="0.75"/>
<line x1="21.60" y1="259.70" x2="23.50" y2="259.70" stroke="#111" stroke-width="0.75"/>
<line x1="21.60" y1="256.70" x2="23.50" y2="256.70" stroke="#111" stroke-width="0.75"/>
<line x1="21.60" y1="253.70" x2="23.50" y2="253.70" stroke="#111" stroke-width="0.75"/>
<line x1="21.60" y1="250.70" x2="23.50" y2="250.70" stroke="#111" stroke-width="0.75"/>
<line x1="21.60" y1="247.70" x2="23.50" y2="247.70" stroke="#111" stroke-width="0.75"/>
<line x1="21.60" y1="244.70" x2="23.50" y2="244.70" stroke="#111" stroke-width="0.75"/>
<line x1="21.60" y1="241.70" x2="23.50" y2="241.70" stroke="#111" stroke-width="0.75"/>
<line x1="21.60" y1="238.70" x2="23.50" y2="238.70" stroke="#111" stroke-width="0.75"/>
<line x1="21.60" y1="235.70" x2="23.50" y2="235.70" stroke="#111" stroke-width="0.75"/>
<line x1="21.60" y1="232.70" x2="23.50" y2="232.70" stroke="#111" stroke-width="0.75"/>
<line x1="21.60" y1="229.70" x2="23.50" y2="229.70" stroke="#111" stroke-width="0.75"/>
<line x1="21.60" y1="226.70" x2="23.50" y2="226.70" stroke="#111" stroke-width="0.75"/>
<line x1="21.60" y1="223.70" x2="23.50" y2="223.70" stroke="#111" stroke-width="0.75"/>
<line x1="21.60" y1="220.70" x2="23.50" y2="220.70" stroke="#111" stroke-width="0.75"/>
<line x1="20.30" y1="241.70" x2="23.30" y2="241.70" stroke="#000" stroke-width="0.9"/>
<text x="19.90" y="243.70" font-family="Liberation Sans" font-size="6.2" font-weight="bold" text-anchor="end" fill="#444">100</text>
<line x1="20.30" y1="271.70" x2="23.30" y2="271.70" stroke="#000" stroke-width="0.9"/>
<text x="19.90" y="273.70" font-family="Liberation Sans" font-size="6.2" font-weight="bold" text-anchor="end" fill="#444">50</text>
<line x1="20.30" y1="300.80" x2="23.30" y2="300.80" stroke="#000" stroke-width="0.9"/>
<text x="19.90" y="302.80" font-family="Liberation Sans" font-size="6.2" font-weight="bold" text-anchor="end" fill="#444">5</text>
<line x1="20.30" y1="319.60" x2="23.30" y2="319.60" stroke="#000" stroke-width="0.9"/>
<text x="19.90" y="321.60" font-family="Liberation Sans" font-size="6.2" font-weight="bold" text-anchor="end" fill="#444">0</text>
<line x1="28.65" y1="319.60" x2="28.65" y2="321.60" stroke="#000" stroke-width="0.7"/>
<line x1="40.08" y1="319.60" x2="40.08" y2="321.60" stroke="#000" stroke-width="0.7"/>
<line x1="51.51" y1="319.60" x2="51.51" y2="321.60" stroke="#000" stroke-width="0.7"/>
<line x1="62.94" y1="319.60" x2="62.94" y2="321.60" stroke="#000" stroke-width="0.7"/>
<line x1="74.37" y1="319.60" x2="74.37" y2="321.60" stroke="#000" stroke-width="0.7"/>
<line x1="85.80" y1="319.60" x2="85.80" y2="321.60" stroke="#000" stroke-width="0.7"/>
<line x1="97.23" y1="319.60" x2="97.23" y2="321.60" stroke="#000" stroke-width="0.7"/>
<line x1="108.66" y1="319.60" x2="108.66" y2="321.60" stroke="#000" stroke-width="0.7"/>
<line x1="120.09" y1="319.60" x2="120.09" y2="321.60" stroke="#000" stroke-width="0.7"/>
<line x1="131.52" y1="319.60" x2="131.52" y2="321.60" stroke="#000" stroke-width="0.7"/>
<line x1="142.95" y1="319.60" x2="142.95" y2="321.60" stroke="#000" stroke-width="0.7"/>
<line x1="154.38" y1="319.60" x2="154.38" y2="321.60" stroke="#000" stroke-width="0.7"/>
<line x1="165.81" y1="319.60" x2="165.81" y2="321.60" stroke="#000" stroke-width="0.7"/>
<line x1="177.24" y1="319.60" x2="177.24" y2="321.60" stroke="#000" stroke-width="0.7"/>
<line x1="188.67" y1="319.60" x2="188.67" y2="321.60" stroke="#000" stroke-width="0.7"/>
<line x1="200.10" y1="319.60" x2="200.10" y2="321.60" stroke="#000" stroke-width="0.7"/>
<line x1="211.53" y1="319.60" x2="211.53" y2="321.60" stroke="#000" stroke-width="0.7"/>
<line x1="222.96" y1="319.60" x2="222.96" y2="321.60" stroke="#000" stroke-width="0.7"/>
<line x1="234.39" y1="319.60" x2="234.39" y2="321.60" stroke="#000" stroke-width="0.7"/>
<line x1="245.82" y1="319.60" x2="245.82" y2="321.60" stroke="#000" stroke-width="0.7"/>
<line x1="257.25" y1="319.60" x2="257.25" y2="321.60" stroke="#000" stroke-width="0.7"/>
<line x1="268.68" y1="319.60" x2="268.68" y2="321.60" stroke="#000" stroke-width="0.7"/>
<rect x="24.00" y="289.30" width="3.10" height="30.30" fill="#2036b4" stroke="#000" stroke-width="0.95"/>
<rect x="27.10" y="230.20" width="3.10" height="89.40" fill="#d8d257" stroke="#000" stroke-width="0.95"/>
<rect x="30.20" y="319.00" width="3.10" height="0.60" fill="#a83a2c" stroke="#000" stroke-width="0.95"/>
<rect x="35.43" y="295.80" width="3.10" height="23.80" fill="#2036b4" stroke="#000" stroke-width="0.95"/>
<rect x="38.53" y="250.90" width="3.10" height="68.70" fill="#d8d257" stroke="#000" stroke-width="0.95"/>
<rect x="41.63" y="313.50" width="3.10" height="6.10" fill="#a83a2c" stroke="#000" stroke-width="0.95"/>
<rect x="46.86" y="294.30" width="3.10" height="25.30" fill="#2036b4" stroke="#000" stroke-width="0.95"/>
<rect x="49.96" y="229.00" width="3.10" height="90.60" fill="#d8d257" stroke="#000" stroke-width="0.95"/>
<rect x="53.06" y="318.60" width="3.10" height="1.00" fill="#a83a2c" stroke="#000" stroke-width="0.95"/>
<rect x="58.29" y="296.80" width="3.10" height="22.80" fill="#2036b4" stroke="#000" stroke-width="0.95"/>
<rect x="61.39" y="287.00" width="3.10" height="32.60" fill="#d8d257" stroke="#000" stroke-width="0.95"/>
<rect x="64.49" y="319.20" width="3.10" height="0.50" fill="#a83a2c" stroke="#000" stroke-width="0.95"/>
<rect x="69.72" y="303.30" width="3.10" height="16.30" fill="#2036b4" stroke="#000" stroke-width="0.95"/>
<rect x="72.82" y="272.50" width="3.10" height="47.10" fill="#d8d257" stroke="#000" stroke-width="0.95"/>
<rect x="75.92" y="318.80" width="3.10" height="0.80" fill="#a83a2c" stroke="#000" stroke-width="0.95"/>
<rect x="81.15" y="306.80" width="3.10" height="12.80" fill="#2036b4" stroke="#000" stroke-width="0.95"/>
<rect x="84.25" y="282.00" width="3.10" height="37.60" fill="#d8d257" stroke="#000" stroke-width="0.95"/>
<rect x="87.35" y="303.90" width="3.10" height="15.70" fill="#a83a2c" stroke="#000" stroke-width="0.95"/>
<rect x="92.58" y="303.20" width="3.10" height="16.40" fill="#2036b4" stroke="#000" stroke-width="0.95"/>
<rect x="95.68" y="285.80" width="3.10" height="33.80" fill="#d8d257" stroke="#000" stroke-width="0.95"/>
<rect x="98.78" y="319.10" width="3.10" height="0.50" fill="#a83a2c" stroke="#000" stroke-width="0.95"/>
<rect x="104.01" y="314.90" width="3.10" height="4.70" fill="#2036b4" stroke="#000" stroke-width="0.95"/>
<rect x="107.11" y="309.60" width="3.10" height="10.00" fill="#d8d257" stroke="#000" stroke-width="0.95"/>
<rect x="115.44" y="293.30" width="3.10" height="26.30" fill="#2036b4" stroke="#000" stroke-width="0.95"/>
<rect x="118.54" y="290.50" width="3.10" height="29.10" fill="#d8d257" stroke="#000" stroke-width="0.95"/>
<rect x="121.64" y="301.50" width="3.10" height="18.10" fill="#a83a2c" stroke="#000" stroke-width="0.95"/>
<rect x="126.87" y="311.70" width="3.10" height="7.90" fill="#2036b4" stroke="#000" stroke-width="0.95"/>
<rect x="129.97" y="283.00" width="3.10" height="36.60" fill="#d8d257" stroke="#000" stroke-width="0.95"/>
<rect x="133.07" y="319.20" width="3.10" height="0.50" fill="#a83a2c" stroke="#000" stroke-width="0.95"/>
<rect x="138.30" y="311.30" width="3.10" height="8.30" fill="#2036b4" stroke="#000" stroke-width="0.95"/>
<rect x="141.40" y="293.30" width="3.10" height="26.30" fill="#d8d257" stroke="#000" stroke-width="0.95"/>
<rect x="144.50" y="300.30" width="3.10" height="19.30" fill="#a83a2c" stroke="#000" stroke-width="0.95"/>
<rect x="149.73" y="318.40" width="3.10" height="1.20" fill="#2036b4" stroke="#000" stroke-width="0.95"/>
<rect x="152.83" y="302.30" width="3.10" height="17.30" fill="#d8d257" stroke="#000" stroke-width="0.95"/>
<rect x="155.93" y="318.80" width="3.10" height="0.80" fill="#a83a2c" stroke="#000" stroke-width="0.95"/>
<rect x="161.16" y="310.20" width="3.10" height="9.40" fill="#2036b4" stroke="#000" stroke-width="0.95"/>
<rect x="164.26" y="308.30" width="3.10" height="11.30" fill="#d8d257" stroke="#000" stroke-width="0.95"/>
<rect x="167.36" y="317.00" width="3.10" height="2.60" fill="#a83a2c" stroke="#000" stroke-width="0.95"/>
<rect x="172.59" y="318.40" width="3.10" height="1.20" fill="#2036b4" stroke="#000" stroke-width="0.95"/>
<rect x="175.69" y="316.00" width="3.10" height="3.60" fill="#d8d257" stroke="#000" stroke-width="0.95"/>
<rect x="184.02" y="318.80" width="3.10" height="0.80" fill="#2036b4" stroke="#000" stroke-width="0.95"/>
<rect x="187.12" y="294.00" width="3.10" height="25.60" fill="#d8d257" stroke="#000" stroke-width="0.95"/>
<rect x="195.45" y="316.60" width="3.10" height="3.00" fill="#2036b4" stroke="#000" stroke-width="0.95"/>
<rect x="198.55" y="293.50" width="3.10" height="26.10" fill="#d8d257" stroke="#000" stroke-width="0.95"/>
<rect x="201.65" y="319.20" width="3.10" height="0.50" fill="#a83a2c" stroke="#000" stroke-width="0.95"/>
<rect x="206.88" y="308.70" width="3.10" height="10.90" fill="#2036b4" stroke="#000" stroke-width="0.95"/>
<rect x="209.98" y="286.20" width="3.10" height="33.40" fill="#d8d257" stroke="#000" stroke-width="0.95"/>
<rect x="218.31" y="314.80" width="3.10" height="4.80" fill="#2036b4" stroke="#000" stroke-width="0.95"/>
<rect x="221.41" y="312.90" width="3.10" height="6.70" fill="#d8d257" stroke="#000" stroke-width="0.95"/>
<rect x="229.74" y="316.60" width="3.10" height="3.00" fill="#2036b4" stroke="#000" stroke-width="0.95"/>
<rect x="232.84" y="301.40" width="3.10" height="18.20" fill="#d8d257" stroke="#000" stroke-width="0.95"/>
<rect x="241.17" y="317.10" width="3.10" height="2.50" fill="#2036b4" stroke="#000" stroke-width="0.95"/>
<rect x="244.27" y="296.30" width="3.10" height="23.30" fill="#d8d257" stroke="#000" stroke-width="0.95"/>
<rect x="247.37" y="311.30" width="3.10" height="8.30" fill="#a83a2c" stroke="#000" stroke-width="0.95"/>
<rect x="252.60" y="314.90" width="3.10" height="4.70" fill="#2036b4" stroke="#000" stroke-width="0.95"/>
<rect x="255.70" y="301.30" width="3.10" height="18.30" fill="#d8d257" stroke="#000" stroke-width="0.95"/>
<rect x="264.03" y="318.90" width="3.10" height="0.70" fill="#2036b4" stroke="#000" stroke-width="0.95"/>
<rect x="267.13" y="312.90" width="3.10" height="6.70" fill="#d8d257" stroke="#000" stroke-width="0.95"/>
<rect x="23.80" y="297.90" width="248.20" height="1.90" fill="#fff"/>
<line x1="23.80" y1="297.65" x2="27.30" y2="297.65" stroke="#000" stroke-width="0.6"/>
<line x1="26.90" y1="297.65" x2="30.40" y2="297.65" stroke="#000" stroke-width="0.6"/>
<line x1="35.23" y1="297.65" x2="38.73" y2="297.65" stroke="#000" stroke-width="0.6"/>
<line x1="38.33" y1="297.65" x2="41.83" y2="297.65" stroke="#000" stroke-width="0.6"/>
<line x1="46.66" y1="297.65" x2="50.16" y2="297.65" stroke="#000" stroke-width="0.6"/>
<line x1="49.76" y1="297.65" x2="53.26" y2="297.65" stroke="#000" stroke-width="0.6"/>
<line x1="58.09" y1="297.65" x2="61.59" y2="297.65" stroke="#000" stroke-width="0.6"/>
<line x1="61.19" y1="297.65" x2="64.69" y2="297.65" stroke="#000" stroke-width="0.6"/>
<line x1="72.62" y1="297.65" x2="76.12" y2="297.65" stroke="#000" stroke-width="0.6"/>
<line x1="84.05" y1="297.65" x2="87.55" y2="297.65" stroke="#000" stroke-width="0.6"/>
<line x1="95.48" y1="297.65" x2="98.98" y2="297.65" stroke="#000" stroke-width="0.6"/>
<line x1="115.24" y1="297.65" x2="118.74" y2="297.65" stroke="#000" stroke-width="0.6"/>
<line x1="118.34" y1="297.65" x2="121.84" y2="297.65" stroke="#000" stroke-width="0.6"/>
<line x1="129.77" y1="297.65" x2="133.27" y2="297.65" stroke="#000" stroke-width="0.6"/>
<line x1="141.20" y1="297.65" x2="144.70" y2="297.65" stroke="#000" stroke-width="0.6"/>
<line x1="186.92" y1="297.65" x2="190.42" y2="297.65" stroke="#000" stroke-width="0.6"/>
<line x1="198.35" y1="297.65" x2="201.85" y2="297.65" stroke="#000" stroke-width="0.6"/>
<line x1="209.78" y1="297.65" x2="213.28" y2="297.65" stroke="#000" stroke-width="0.6"/>
<line x1="244.07" y1="297.65" x2="247.57" y2="297.65" stroke="#000" stroke-width="0.6"/>
<line x1="243.97" y1="296.30" x2="247.67" y2="296.30" stroke="#000" stroke-width="0.8"/>
<line x1="144.20" y1="297.20" x2="147.90" y2="297.20" stroke="#000" stroke-width="0.8"/>
<text x="0" y="0" font-family="Liberation Sans" font-size="7.0" font-weight="bold" text-anchor="middle" fill="#111" transform="translate(8.90 265.70) rotate(-90)">FPKM</text>
<text x="0" y="0" font-family="Liberation Sans" font-size="6.3" font-weight="bold" text-anchor="end" fill="#111" transform="translate(29.45 327.20) rotate(-45)">KDR</text>
<text x="0" y="0" font-family="Liberation Sans" font-size="6.3" font-weight="bold" text-anchor="end" fill="#111" transform="translate(40.88 327.20) rotate(-45)">FLT1</text>
<text x="0" y="0" font-family="Liberation Sans" font-size="6.3" font-weight="bold" text-anchor="end" fill="#111" transform="translate(52.31 327.20) rotate(-45)">GJA5</text>
<text x="0" y="0" font-family="Liberation Sans" font-size="6.3" font-weight="bold" text-anchor="end" fill="#111" transform="translate(63.74 327.20) rotate(-45)">GJA4</text>
<text x="0" y="0" font-family="Liberation Sans" font-size="6.3" font-weight="bold" text-anchor="end" fill="#111" transform="translate(75.17 327.20) rotate(-45)">CDH5</text>
<text x="0" y="0" font-family="Liberation Sans" font-size="6.3" font-weight="bold" text-anchor="end" fill="#111" transform="translate(86.60 327.20) rotate(-45)">PROCR</text>
<text x="0" y="0" font-family="Liberation Sans" font-size="6.3" font-weight="bold" text-anchor="end" fill="#111" transform="translate(98.03 327.20) rotate(-45)">EPAS1</text>
<text x="0" y="0" font-family="Liberation Sans" font-size="6.3" font-weight="bold" text-anchor="end" fill="#111" transform="translate(109.46 327.20) rotate(-45)">CXCL12</text>
<text x="0" y="0" font-family="Liberation Sans" font-size="6.3" font-weight="bold" text-anchor="end" fill="#111" transform="translate(120.89 327.20) rotate(-45)">ETS1</text>
<text x="0" y="0" font-family="Liberation Sans" font-size="6.3" font-weight="bold" text-anchor="end" fill="#111" transform="translate(132.32 327.20) rotate(-45)">EFNB2</text>
<text x="0" y="0" font-family="Liberation Sans" font-size="6.3" font-weight="bold" text-anchor="end" fill="#111" transform="translate(143.75 327.20) rotate(-45)">ROBO4</text>
<text x="0" y="0" font-family="Liberation Sans" font-size="6.3" font-weight="bold" text-anchor="end" fill="#111" transform="translate(155.18 327.20) rotate(-45)">BMP4</text>
<text x="0" y="0" font-family="Liberation Sans" font-size="6.3" font-weight="bold" text-anchor="end" fill="#111" transform="translate(166.61 327.20) rotate(-45)">EFNB1</text>
<text x="0" y="0" font-family="Liberation Sans" font-size="6.3" font-weight="bold" text-anchor="end" fill="#111" transform="translate(178.04 327.20) rotate(-45)">CDH13</text>
<text x="0" y="0" font-family="Liberation Sans" font-size="6.3" font-weight="bold" text-anchor="end" fill="#111" transform="translate(189.47 327.20) rotate(-45)">LAMA4</text>
<text x="0" y="0" font-family="Liberation Sans" font-size="6.3" font-weight="bold" text-anchor="end" fill="#111" transform="translate(200.90 327.20) rotate(-45)">SOX7</text>
<text x="0" y="0" font-family="Liberation Sans" font-size="6.3" font-weight="bold" text-anchor="end" fill="#111" transform="translate(212.33 327.20) rotate(-45)">DLL4</text>
<text x="0" y="0" font-family="Liberation Sans" font-size="6.3" font-weight="bold" text-anchor="end" fill="#111" transform="translate(223.76 327.20) rotate(-45)">TBX3</text>
<text x="0" y="0" font-family="Liberation Sans" font-size="6.3" font-weight="bold" text-anchor="end" fill="#111" transform="translate(235.19 327.20) rotate(-45)">NOS3</text>
<text x="0" y="0" font-family="Liberation Sans" font-size="6.3" font-weight="bold" text-anchor="end" fill="#111" transform="translate(246.62 327.20) rotate(-45)">EMCN</text>
<text x="0" y="0" font-family="Liberation Sans" font-size="6.3" font-weight="bold" text-anchor="end" fill="#111" transform="translate(258.05 327.20) rotate(-45)">HEY2</text>
<text x="0" y="0" font-family="Liberation Sans" font-size="6.3" font-weight="bold" text-anchor="end" fill="#111" transform="translate(269.48 327.20) rotate(-45)">SOX17</text>
<rect x="163.60" y="218.40" width="11.20" height="6.00" fill="#1030e8" stroke="#000" stroke-width="1.0"/>
<text x="176.20" y="225.30" font-family="Liberation Sans" font-size="9.3" font-weight="bold" text-anchor="start" fill="#000">EB DMSO</text>
<rect x="163.60" y="230.30" width="11.20" height="6.00" fill="#f4f030" stroke="#000" stroke-width="1.0"/>
<text x="176.20" y="237.20" font-family="Liberation Sans" font-size="9.3" font-weight="bold" text-anchor="start" fill="#000">EB AM580</text>
<rect x="163.60" y="241.60" width="11.20" height="6.00" fill="#e83418" stroke="#000" stroke-width="1.0"/>
<text x="176.20" y="248.50" font-family="Liberation Sans" font-size="9.3" font-weight="bold" text-anchor="start" fill="#000">FL</text>
<line x1="305.50" y1="213.20" x2="305.50" y2="319.60" stroke="#000" stroke-width="0.75"/>
<line x1="305.10" y1="319.60" x2="452.50" y2="319.60" stroke="#000" stroke-width="0.9"/>
<line x1="303.80" y1="319.60" x2="305.70" y2="319.60" stroke="#111" stroke-width="0.75"/>
<line x1="303.80" y1="317.35" x2="305.70" y2="317.35" stroke="#111" stroke-width="0.75"/>
<line x1="303.80" y1="315.10" x2="305.70" y2="315.10" stroke="#111" stroke-width="0.75"/>
<line x1="303.80" y1="312.85" x2="305.70" y2="312.85" stroke="#111" stroke-width="0.75"/>
<line x1="303.80" y1="310.60" x2="305.70" y2="310.60" stroke="#111" stroke-width="0.75"/>
<line x1="303.80" y1="308.35" x2="305.70" y2="308.35" stroke="#111" stroke-width="0.75"/>
<line x1="303.80" y1="306.10" x2="305.70" y2="306.10" stroke="#111" stroke-width="0.75"/>
<line x1="303.80" y1="303.85" x2="305.70" y2="303.85" stroke="#111" stroke-width="0.75"/>
<line x1="303.80" y1="301.60" x2="305.70" y2="301.60" stroke="#111" stroke-width="0.75"/>
<line x1="303.80" y1="299.35" x2="305.70" y2="299.35" stroke="#111" stroke-width="0.75"/>
<line x1="303.80" y1="297.10" x2="305.70" y2="297.10" stroke="#111" stroke-width="0.75"/>
<line x1="303.80" y1="294.90" x2="305.70" y2="294.90" stroke="#111" stroke-width="0.75"/>
<line x1="303.80" y1="291.30" x2="305.70" y2="291.30" stroke="#111" stroke-width="0.75"/>
<line x1="303.80" y1="287.70" x2="305.70" y2="287.70" stroke="#111" stroke-width="0.75"/>
<line x1="303.80" y1="284.10" x2="305.70" y2="284.10" stroke="#111" stroke-width="0.75"/>
<line x1="303.80" y1="280.50" x2="305.70" y2="280.50" stroke="#111" stroke-width="0.75"/>
<line x1="303.80" y1="276.90" x2="305.70" y2="276.90" stroke="#111" stroke-width="0.75"/>
<line x1="303.80" y1="273.30" x2="305.70" y2="273.30" stroke="#111" stroke-width="0.75"/>
<line x1="303.80" y1="269.70" x2="305.70" y2="269.70" stroke="#111" stroke-width="0.75"/>
<line x1="303.80" y1="266.10" x2="305.70" y2="266.10" stroke="#111" stroke-width="0.75"/>
<line x1="303.80" y1="262.50" x2="305.70" y2="262.50" stroke="#111" stroke-width="0.75"/>
<line x1="303.80" y1="258.90" x2="305.70" y2="258.90" stroke="#111" stroke-width="0.75"/>
<line x1="303.80" y1="255.30" x2="305.70" y2="255.30" stroke="#111" stroke-width="0.75"/>
<line x1="303.80" y1="251.70" x2="305.70" y2="251.70" stroke="#111" stroke-width="0.75"/>
<line x1="303.80" y1="248.10" x2="305.70" y2="248.10" stroke="#111" stroke-width="0.75"/>
<line x1="303.80" y1="244.50" x2="305.70" y2="244.50" stroke="#111" stroke-width="0.75"/>
<line x1="303.80" y1="240.90" x2="305.70" y2="240.90" stroke="#111" stroke-width="0.75"/>
<line x1="303.80" y1="237.30" x2="305.70" y2="237.30" stroke="#111" stroke-width="0.75"/>
<line x1="303.80" y1="233.70" x2="305.70" y2="233.70" stroke="#111" stroke-width="0.75"/>
<line x1="303.80" y1="230.10" x2="305.70" y2="230.10" stroke="#111" stroke-width="0.75"/>
<line x1="303.80" y1="226.50" x2="305.70" y2="226.50" stroke="#111" stroke-width="0.75"/>
<line x1="303.80" y1="222.90" x2="305.70" y2="222.90" stroke="#111" stroke-width="0.75"/>
<line x1="303.80" y1="219.30" x2="305.70" y2="219.30" stroke="#111" stroke-width="0.75"/>
<line x1="303.80" y1="215.70" x2="305.70" y2="215.70" stroke="#111" stroke-width="0.75"/>
<line x1="302.50" y1="226.50" x2="305.50" y2="226.50" stroke="#000" stroke-width="0.9"/>
<text x="302.10" y="228.50" font-family="Liberation Sans" font-size="6.2" font-weight="bold" text-anchor="end" fill="#444">100</text>
<line x1="302.50" y1="262.50" x2="305.50" y2="262.50" stroke="#000" stroke-width="0.9"/>
<text x="302.10" y="264.50" font-family="Liberation Sans" font-size="6.2" font-weight="bold" text-anchor="end" fill="#444">50</text>
<line x1="302.50" y1="296.30" x2="305.50" y2="296.30" stroke="#000" stroke-width="0.9"/>
<text x="302.10" y="298.30" font-family="Liberation Sans" font-size="6.2" font-weight="bold" text-anchor="end" fill="#444">5</text>
<line x1="302.50" y1="319.60" x2="305.50" y2="319.60" stroke="#000" stroke-width="0.9"/>
<text x="302.10" y="321.60" font-family="Liberation Sans" font-size="6.2" font-weight="bold" text-anchor="end" fill="#444">0</text>
<line x1="311.98" y1="319.60" x2="311.98" y2="321.60" stroke="#000" stroke-width="0.7"/>
<line x1="324.11" y1="319.60" x2="324.11" y2="321.60" stroke="#000" stroke-width="0.7"/>
<line x1="336.24" y1="319.60" x2="336.24" y2="321.60" stroke="#000" stroke-width="0.7"/>
<line x1="348.37" y1="319.60" x2="348.37" y2="321.60" stroke="#000" stroke-width="0.7"/>
<line x1="360.50" y1="319.60" x2="360.50" y2="321.60" stroke="#000" stroke-width="0.7"/>
<line x1="372.62" y1="319.60" x2="372.62" y2="321.60" stroke="#000" stroke-width="0.7"/>
<line x1="384.75" y1="319.60" x2="384.75" y2="321.60" stroke="#000" stroke-width="0.7"/>
<line x1="396.89" y1="319.60" x2="396.89" y2="321.60" stroke="#000" stroke-width="0.7"/>
<line x1="409.02" y1="319.60" x2="409.02" y2="321.60" stroke="#000" stroke-width="0.7"/>
<line x1="421.15" y1="319.60" x2="421.15" y2="321.60" stroke="#000" stroke-width="0.7"/>
<line x1="433.28" y1="319.60" x2="433.28" y2="321.60" stroke="#000" stroke-width="0.7"/>
<line x1="445.41" y1="319.60" x2="445.41" y2="321.60" stroke="#000" stroke-width="0.7"/>
<rect x="307.10" y="284.80" width="3.25" height="34.80" fill="#2036b4" stroke="#000" stroke-width="0.95"/>
<rect x="310.35" y="284.60" width="3.25" height="35.00" fill="#d8d257" stroke="#000" stroke-width="0.95"/>
<rect x="313.60" y="290.70" width="3.25" height="28.90" fill="#a83a2c" stroke="#000" stroke-width="0.95"/>
<rect x="319.23" y="291.50" width="3.25" height="28.10" fill="#2036b4" stroke="#000" stroke-width="0.95"/>
<rect x="322.48" y="277.80" width="3.25" height="41.80" fill="#d8d257" stroke="#000" stroke-width="0.95"/>
<rect x="325.73" y="256.20" width="3.25" height="63.40" fill="#a83a2c" stroke="#000" stroke-width="0.95"/>
<rect x="331.36" y="301.30" width="3.25" height="18.30" fill="#2036b4" stroke="#000" stroke-width="0.95"/>
<rect x="334.61" y="280.60" width="3.25" height="39.00" fill="#d8d257" stroke="#000" stroke-width="0.95"/>
<rect x="337.86" y="287.40" width="3.25" height="32.20" fill="#a83a2c" stroke="#000" stroke-width="0.95"/>
<rect x="343.49" y="301.50" width="3.25" height="18.10" fill="#2036b4" stroke="#000" stroke-width="0.95"/>
<rect x="346.74" y="286.30" width="3.25" height="33.30" fill="#d8d257" stroke="#000" stroke-width="0.95"/>
<rect x="349.99" y="282.00" width="3.25" height="37.60" fill="#a83a2c" stroke="#000" stroke-width="0.95"/>
<rect x="355.62" y="318.50" width="3.25" height="1.10" fill="#2036b4" stroke="#000" stroke-width="0.95"/>
<rect x="358.87" y="296.20" width="3.25" height="23.40" fill="#d8d257" stroke="#000" stroke-width="0.95"/>
<rect x="362.12" y="296.20" width="3.25" height="23.40" fill="#a83a2c" stroke="#000" stroke-width="0.95"/>
<rect x="367.75" y="293.70" width="3.25" height="25.90" fill="#2036b4" stroke="#000" stroke-width="0.95"/>
<rect x="371.00" y="288.40" width="3.25" height="31.20" fill="#d8d257" stroke="#000" stroke-width="0.95"/>
<rect x="374.25" y="225.90" width="3.25" height="93.70" fill="#a83a2c" stroke="#000" stroke-width="0.95"/>
<rect x="379.88" y="302.60" width="3.25" height="17.00" fill="#2036b4" stroke="#000" stroke-width="0.95"/>
<rect x="383.13" y="292.20" width="3.25" height="27.40" fill="#d8d257" stroke="#000" stroke-width="0.95"/>
<rect x="386.38" y="290.10" width="3.25" height="29.50" fill="#a83a2c" stroke="#000" stroke-width="0.95"/>
<rect x="392.01" y="313.80" width="3.25" height="5.80" fill="#2036b4" stroke="#000" stroke-width="0.95"/>
<rect x="395.26" y="296.00" width="3.25" height="23.60" fill="#d8d257" stroke="#000" stroke-width="0.95"/>
<rect x="398.51" y="296.90" width="3.25" height="22.70" fill="#a83a2c" stroke="#000" stroke-width="0.95"/>
<rect x="404.14" y="309.60" width="3.25" height="10.00" fill="#2036b4" stroke="#000" stroke-width="0.95"/>
<rect x="407.39" y="303.20" width="3.25" height="16.40" fill="#d8d257" stroke="#000" stroke-width="0.95"/>
<rect x="416.27" y="315.90" width="3.25" height="3.70" fill="#2036b4" stroke="#000" stroke-width="0.95"/>
<rect x="419.52" y="292.20" width="3.25" height="27.40" fill="#d8d257" stroke="#000" stroke-width="0.95"/>
<rect x="422.77" y="273.60" width="3.25" height="46.00" fill="#a83a2c" stroke="#000" stroke-width="0.95"/>
<rect x="428.40" y="310.20" width="3.25" height="9.40" fill="#2036b4" stroke="#000" stroke-width="0.95"/>
<rect x="431.65" y="284.20" width="3.25" height="35.40" fill="#d8d257" stroke="#000" stroke-width="0.95"/>
<rect x="434.90" y="314.20" width="3.25" height="5.40" fill="#a83a2c" stroke="#000" stroke-width="0.95"/>
<rect x="440.53" y="318.90" width="3.25" height="0.70" fill="#2036b4" stroke="#000" stroke-width="0.95"/>
<rect x="443.78" y="307.50" width="3.25" height="12.10" fill="#d8d257" stroke="#000" stroke-width="0.95"/>
<rect x="447.03" y="312.10" width="3.25" height="7.50" fill="#a83a2c" stroke="#000" stroke-width="0.95"/>
<rect x="306.00" y="293.90" width="146.00" height="2.00" fill="#fff"/>
<line x1="306.90" y1="293.65" x2="310.55" y2="293.65" stroke="#000" stroke-width="0.6"/>
<line x1="310.15" y1="293.65" x2="313.80" y2="293.65" stroke="#000" stroke-width="0.6"/>
<line x1="313.40" y1="293.65" x2="317.05" y2="293.65" stroke="#000" stroke-width="0.6"/>
<line x1="319.03" y1="293.65" x2="322.68" y2="293.65" stroke="#000" stroke-width="0.6"/>
<line x1="322.28" y1="293.65" x2="325.93" y2="293.65" stroke="#000" stroke-width="0.6"/>
<line x1="325.53" y1="293.65" x2="329.18" y2="293.65" stroke="#000" stroke-width="0.6"/>
<line x1="334.41" y1="293.65" x2="338.06" y2="293.65" stroke="#000" stroke-width="0.6"/>
<line x1="337.66" y1="293.65" x2="341.31" y2="293.65" stroke="#000" stroke-width="0.6"/>
<line x1="346.54" y1="293.65" x2="350.19" y2="293.65" stroke="#000" stroke-width="0.6"/>
<line x1="349.79" y1="293.65" x2="353.44" y2="293.65" stroke="#000" stroke-width="0.6"/>
<line x1="370.80" y1="293.65" x2="374.45" y2="293.65" stroke="#000" stroke-width="0.6"/>
<line x1="374.05" y1="293.65" x2="377.70" y2="293.65" stroke="#000" stroke-width="0.6"/>
<line x1="382.93" y1="293.65" x2="386.58" y2="293.65" stroke="#000" stroke-width="0.6"/>
<line x1="386.18" y1="293.65" x2="389.83" y2="293.65" stroke="#000" stroke-width="0.6"/>
<line x1="419.32" y1="293.65" x2="422.97" y2="293.65" stroke="#000" stroke-width="0.6"/>
<line x1="422.57" y1="293.65" x2="426.22" y2="293.65" stroke="#000" stroke-width="0.6"/>
<line x1="431.45" y1="293.65" x2="435.10" y2="293.65" stroke="#000" stroke-width="0.6"/>
<line x1="361.92" y1="293.30" x2="365.57" y2="293.30" stroke="#000" stroke-width="0.8"/>
<line x1="395.06" y1="293.30" x2="398.71" y2="293.30" stroke="#000" stroke-width="0.8"/>
<text x="0" y="0" font-family="Liberation Sans" font-size="7.0" font-weight="bold" text-anchor="middle" fill="#111" transform="translate(290.00 265.70) rotate(-90)">FPKM</text>
<text x="0" y="0" font-family="Liberation Sans" font-size="6.3" font-weight="bold" text-anchor="end" fill="#111" transform="translate(312.78 327.00) rotate(-45)">PBX1</text>
<text x="0" y="0" font-family="Liberation Sans" font-size="6.3" font-weight="bold" text-anchor="end" fill="#111" transform="translate(324.91 327.00) rotate(-45)">ERG</text>
<text x="0" y="0" font-family="Liberation Sans" font-size="6.3" font-weight="bold" text-anchor="end" fill="#111" transform="translate(337.04 327.00) rotate(-45)">MECOM</text>
<text x="0" y="0" font-family="Liberation Sans" font-size="6.3" font-weight="bold" text-anchor="end" fill="#111" transform="translate(349.17 327.00) rotate(-45)">SOX4</text>
<text x="0" y="0" font-family="Liberation Sans" font-size="6.3" font-weight="bold" text-anchor="end" fill="#111" transform="translate(361.30 327.00) rotate(-45)">GATA3</text>
<text x="0" y="0" font-family="Liberation Sans" font-size="6.3" font-weight="bold" text-anchor="end" fill="#111" transform="translate(373.43 327.00) rotate(-45)">JUN</text>
<text x="0" y="0" font-family="Liberation Sans" font-size="6.3" font-weight="bold" text-anchor="end" fill="#111" transform="translate(385.56 327.00) rotate(-45)">GFI1</text>
<text x="0" y="0" font-family="Liberation Sans" font-size="6.3" font-weight="bold" text-anchor="end" fill="#111" transform="translate(397.69 327.00) rotate(-45)">DACH1</text>
<text x="0" y="0" font-family="Liberation Sans" font-size="6.3" font-weight="bold" text-anchor="end" fill="#111" transform="translate(409.82 327.00) rotate(-45)">CREB5</text>
<text x="0" y="0" font-family="Liberation Sans" font-size="6.3" font-weight="bold" text-anchor="end" fill="#111" transform="translate(421.95 327.00) rotate(-45)">HLF</text>
<text x="0" y="0" font-family="Liberation Sans" font-size="6.3" font-weight="bold" text-anchor="end" fill="#111" transform="translate(434.08 327.00) rotate(-45)">HIF3A</text>
<text x="0" y="0" font-family="Liberation Sans" font-size="6.3" font-weight="bold" text-anchor="end" fill="#111" transform="translate(446.21 327.00) rotate(-45)">NFIA</text>
<line x1="569.60" y1="220.70" x2="569.60" y2="319.50" stroke="#000" stroke-width="0.75"/>
<line x1="569.20" y1="319.50" x2="592.60" y2="319.50" stroke="#000" stroke-width="0.9"/>
<line x1="567.90" y1="319.50" x2="569.80" y2="319.50" stroke="#111" stroke-width="0.75"/>
<line x1="567.90" y1="316.24" x2="569.80" y2="316.24" stroke="#111" stroke-width="0.75"/>
<line x1="567.90" y1="312.98" x2="569.80" y2="312.98" stroke="#111" stroke-width="0.75"/>
<line x1="567.90" y1="309.72" x2="569.80" y2="309.72" stroke="#111" stroke-width="0.75"/>
<line x1="567.90" y1="306.46" x2="569.80" y2="306.46" stroke="#111" stroke-width="0.75"/>
<line x1="567.90" y1="303.20" x2="569.80" y2="303.20" stroke="#111" stroke-width="0.75"/>
<line x1="567.90" y1="299.94" x2="569.80" y2="299.94" stroke="#111" stroke-width="0.75"/>
<line x1="567.90" y1="296.68" x2="569.80" y2="296.68" stroke="#111" stroke-width="0.75"/>
<line x1="567.90" y1="293.42" x2="569.80" y2="293.42" stroke="#111" stroke-width="0.75"/>
<line x1="567.90" y1="290.16" x2="569.80" y2="290.16" stroke="#111" stroke-width="0.75"/>
<line x1="567.90" y1="286.90" x2="569.80" y2="286.90" stroke="#111" stroke-width="0.75"/>
<line x1="567.90" y1="283.64" x2="569.80" y2="283.64" stroke="#111" stroke-width="0.75"/>
<line x1="567.90" y1="280.38" x2="569.80" y2="280.38" stroke="#111" stroke-width="0.75"/>
<line x1="567.90" y1="277.12" x2="569.80" y2="277.12" stroke="#111" stroke-width="0.75"/>
<line x1="567.90" y1="273.86" x2="569.80" y2="273.86" stroke="#111" stroke-width="0.75"/>
<line x1="567.90" y1="270.60" x2="569.80" y2="270.60" stroke="#111" stroke-width="0.75"/>
<line x1="567.90" y1="267.34" x2="569.80" y2="267.34" stroke="#111" stroke-width="0.75"/>
<line x1="567.90" y1="264.08" x2="569.80" y2="264.08" stroke="#111" stroke-width="0.75"/>
<line x1="567.90" y1="260.82" x2="569.80" y2="260.82" stroke="#111" stroke-width="0.75"/>
<line x1="567.90" y1="257.56" x2="569.80" y2="257.56" stroke="#111" stroke-width="0.75"/>
<line x1="567.90" y1="254.30" x2="569.80" y2="254.30" stroke="#111" stroke-width="0.75"/>
<line x1="567.90" y1="251.04" x2="569.80" y2="251.04" stroke="#111" stroke-width="0.75"/>
<line x1="567.90" y1="247.78" x2="569.80" y2="247.78" stroke="#111" stroke-width="0.75"/>
<line x1="567.90" y1="244.52" x2="569.80" y2="244.52" stroke="#111" stroke-width="0.75"/>
<line x1="567.90" y1="241.26" x2="569.80" y2="241.26" stroke="#111" stroke-width="0.75"/>
<line x1="567.90" y1="238.00" x2="569.80" y2="238.00" stroke="#111" stroke-width="0.75"/>
<line x1="567.90" y1="234.74" x2="569.80" y2="234.74" stroke="#111" stroke-width="0.75"/>
<line x1="567.90" y1="231.48" x2="569.80" y2="231.48" stroke="#111" stroke-width="0.75"/>
<line x1="567.90" y1="228.22" x2="569.80" y2="228.22" stroke="#111" stroke-width="0.75"/>
<line x1="567.90" y1="224.96" x2="569.80" y2="224.96" stroke="#111" stroke-width="0.75"/>
<line x1="567.90" y1="221.70" x2="569.80" y2="221.70" stroke="#111" stroke-width="0.75"/>
<line x1="566.60" y1="221.90" x2="569.60" y2="221.90" stroke="#000" stroke-width="0.9"/>
<text x="566.20" y="223.90" font-family="Liberation Sans" font-size="6.2" font-weight="bold" text-anchor="end" fill="#444">30</text>
<line x1="566.60" y1="254.50" x2="569.60" y2="254.50" stroke="#000" stroke-width="0.9"/>
<text x="566.20" y="256.50" font-family="Liberation Sans" font-size="6.2" font-weight="bold" text-anchor="end" fill="#444">20</text>
<line x1="566.60" y1="287.40" x2="569.60" y2="287.40" stroke="#000" stroke-width="0.9"/>
<text x="566.20" y="289.40" font-family="Liberation Sans" font-size="6.2" font-weight="bold" text-anchor="end" fill="#444">10</text>
<line x1="566.60" y1="319.50" x2="569.60" y2="319.50" stroke="#000" stroke-width="0.9"/>
<text x="566.20" y="321.50" font-family="Liberation Sans" font-size="6.2" font-weight="bold" text-anchor="end" fill="#444">0</text>
<line x1="575.80" y1="319.50" x2="575.80" y2="321.50" stroke="#000" stroke-width="0.7"/>
<line x1="587.20" y1="319.50" x2="587.20" y2="321.50" stroke="#000" stroke-width="0.7"/>
<rect x="571.00" y="319.00" width="3.30" height="0.50" fill="#2036b4" stroke="#000" stroke-width="0.95"/>
<rect x="574.30" y="300.50" width="3.30" height="19.00" fill="#d8d257" stroke="#000" stroke-width="0.95"/>
<rect x="577.60" y="316.40" width="3.30" height="3.10" fill="#a83a2c" stroke="#000" stroke-width="0.95"/>
<rect x="582.30" y="318.00" width="3.30" height="1.50" fill="#2036b4" stroke="#000" stroke-width="0.95"/>
<rect x="585.60" y="316.40" width="3.30" height="3.10" fill="#d8d257" stroke="#000" stroke-width="0.95"/>
<rect x="588.90" y="319.00" width="3.30" height="0.50" fill="#a83a2c" stroke="#000" stroke-width="0.95"/>
<text x="0" y="0" font-family="Liberation Sans" font-size="7.0" font-weight="bold" text-anchor="middle" fill="#111" transform="translate(556.20 270.70) rotate(-90)">FPKM</text>
<text x="0" y="0" font-family="Liberation Sans" font-size="6.3" font-weight="bold" text-anchor="end" fill="#111" transform="translate(576.60 327.00) rotate(-45)">RARB</text>
<text x="0" y="0" font-family="Liberation Sans" font-size="6.3" font-weight="bold" text-anchor="end" fill="#111" transform="translate(588.00 327.00) rotate(-45)">RARG</text>
<text x="1.00" y="363.60" font-family="Liberation Sans" font-size="12.2" font-weight="bold" text-anchor="start" fill="#000">C</text>
<text x="92.70" y="365.00" font-family="Liberation Sans" font-size="11.6" font-weight="bold" text-anchor="start" fill="#000">Erythro</text>
<line x1="27.80" y1="370.00" x2="196.80" y2="370.00" stroke="#000" stroke-width="1.8"/>
<text x="305.10" y="364.70" font-family="Liberation Sans" font-size="11.6" font-weight="bold" text-anchor="start" fill="#000">Megakaryo</text>
<line x1="253.80" y1="370.00" x2="423.00" y2="370.00" stroke="#000" stroke-width="1.8"/>
<text x="505.10" y="364.60" font-family="Liberation Sans" font-size="11.6" font-weight="bold" text-anchor="start" fill="#000">Cycle inhib.</text>
<line x1="494.00" y1="370.40" x2="578.10" y2="370.40" stroke="#000" stroke-width="1.8"/>
<text x="43.60" y="387.00" font-family="Liberation Sans" font-size="11.5" font-weight="bold" text-anchor="start" fill="#000">day 6</text>
<text x="147.20" y="387.00" font-family="Liberation Sans" font-size="11.5" font-weight="bold" text-anchor="start" fill="#000">day 12</text>
<text x="274.90" y="387.00" font-family="Liberation Sans" font-size="11.5" font-weight="bold" text-anchor="start" fill="#000">day 6</text>
<text x="382.40" y="387.00" font-family="Liberation Sans" font-size="11.5" font-weight="bold" text-anchor="start" fill="#000">day 12</text>
<text x="495.60" y="387.00" font-family="Liberation Sans" font-size="11.5" font-weight="bold" text-anchor="start" fill="#000">day 6</text>
<text x="563.70" y="387.00" font-family="Liberation Sans" font-size="11.5" font-weight="bold" text-anchor="start" fill="#000">day 12</text>
<line x1="26.30" y1="397.20" x2="26.30" y2="521.00" stroke="#000" stroke-width="0.75"/>
<line x1="25.90" y1="521.00" x2="101.50" y2="521.00" stroke="#000" stroke-width="0.9"/>
<line x1="24.60" y1="521.00" x2="26.50" y2="521.00" stroke="#111" stroke-width="0.75"/>
<line x1="24.60" y1="518.55" x2="26.50" y2="518.55" stroke="#111" stroke-width="0.75"/>
<line x1="24.60" y1="516.10" x2="26.50" y2="516.10" stroke="#111" stroke-width="0.75"/>
<line x1="24.60" y1="513.65" x2="26.50" y2="513.65" stroke="#111" stroke-width="0.75"/>
<line x1="24.60" y1="511.20" x2="26.50" y2="511.20" stroke="#111" stroke-width="0.75"/>
<line x1="24.60" y1="508.75" x2="26.50" y2="508.75" stroke="#111" stroke-width="0.75"/>
<line x1="24.60" y1="506.30" x2="26.50" y2="506.30" stroke="#111" stroke-width="0.75"/>
<line x1="24.60" y1="503.85" x2="26.50" y2="503.85" stroke="#111" stroke-width="0.75"/>
<line x1="24.60" y1="501.40" x2="26.50" y2="501.40" stroke="#111" stroke-width="0.75"/>
<line x1="24.60" y1="498.95" x2="26.50" y2="498.95" stroke="#111" stroke-width="0.75"/>
<line x1="24.60" y1="496.50" x2="26.50" y2="496.50" stroke="#111" stroke-width="0.75"/>
<line x1="24.60" y1="494.05" x2="26.50" y2="494.05" stroke="#111" stroke-width="0.75"/>
<line x1="24.60" y1="491.60" x2="26.50" y2="491.60" stroke="#111" stroke-width="0.75"/>
<line x1="24.60" y1="489.15" x2="26.50" y2="489.15" stroke="#111" stroke-width="0.75"/>
<line x1="24.60" y1="486.70" x2="26.50" y2="486.70" stroke="#111" stroke-width="0.75"/>
<line x1="24.60" y1="484.25" x2="26.50" y2="484.25" stroke="#111" stroke-width="0.75"/>
<line x1="24.60" y1="481.80" x2="26.50" y2="481.80" stroke="#111" stroke-width="0.75"/>
<line x1="24.60" y1="479.35" x2="26.50" y2="479.35" stroke="#111" stroke-width="0.75"/>
<line x1="24.60" y1="476.90" x2="26.50" y2="476.90" stroke="#111" stroke-width="0.75"/>
<line x1="24.60" y1="474.45" x2="26.50" y2="474.45" stroke="#111" stroke-width="0.75"/>
<line x1="24.60" y1="472.00" x2="26.50" y2="472.00" stroke="#111" stroke-width="0.75"/>
<line x1="24.60" y1="470.30" x2="26.50" y2="470.30" stroke="#111" stroke-width="0.75"/>
<line x1="24.60" y1="468.42" x2="26.50" y2="468.42" stroke="#111" stroke-width="0.75"/>
<line x1="24.60" y1="466.54" x2="26.50" y2="466.54" stroke="#111" stroke-width="0.75"/>
<line x1="24.60" y1="464.66" x2="26.50" y2="464.66" stroke="#111" stroke-width="0.75"/>
<line x1="24.60" y1="462.78" x2="26.50" y2="462.78" stroke="#111" stroke-width="0.75"/>
<line x1="24.60" y1="460.90" x2="26.50" y2="460.90" stroke="#111" stroke-width="0.75"/>
<line x1="24.60" y1="459.02" x2="26.50" y2="459.02" stroke="#111" stroke-width="0.75"/>
<line x1="24.60" y1="457.14" x2="26.50" y2="457.14" stroke="#111" stroke-width="0.75"/>
<line x1="24.60" y1="455.26" x2="26.50" y2="455.26" stroke="#111" stroke-width="0.75"/>
<line x1="24.60" y1="453.38" x2="26.50" y2="453.38" stroke="#111" stroke-width="0.75"/>
<line x1="24.60" y1="451.50" x2="26.50" y2="451.50" stroke="#111" stroke-width="0.75"/>
<line x1="24.60" y1="449.62" x2="26.50" y2="449.62" stroke="#111" stroke-width="0.75"/>
<line x1="24.60" y1="447.74" x2="26.50" y2="447.74" stroke="#111" stroke-width="0.75"/>
<line x1="24.60" y1="445.86" x2="26.50" y2="445.86" stroke="#111" stroke-width="0.75"/>
<line x1="24.60" y1="443.98" x2="26.50" y2="443.98" stroke="#111" stroke-width="0.75"/>
<line x1="24.60" y1="442.10" x2="26.50" y2="442.10" stroke="#111" stroke-width="0.75"/>
<line x1="24.60" y1="440.22" x2="26.50" y2="440.22" stroke="#111" stroke-width="0.75"/>
<line x1="24.60" y1="438.34" x2="26.50" y2="438.34" stroke="#111" stroke-width="0.75"/>
<line x1="24.60" y1="436.46" x2="26.50" y2="436.46" stroke="#111" stroke-width="0.75"/>
<line x1="24.60" y1="434.58" x2="26.50" y2="434.58" stroke="#111" stroke-width="0.75"/>
<line x1="24.60" y1="432.70" x2="26.50" y2="432.70" stroke="#111" stroke-width="0.75"/>
<line x1="24.60" y1="430.82" x2="26.50" y2="430.82" stroke="#111" stroke-width="0.75"/>
<line x1="24.60" y1="428.94" x2="26.50" y2="428.94" stroke="#111" stroke-width="0.75"/>
<line x1="24.60" y1="427.06" x2="26.50" y2="427.06" stroke="#111" stroke-width="0.75"/>
<line x1="24.60" y1="425.18" x2="26.50" y2="425.18" stroke="#111" stroke-width="0.75"/>
<line x1="24.60" y1="423.30" x2="26.50" y2="423.30" stroke="#111" stroke-width="0.75"/>
<line x1="24.60" y1="421.42" x2="26.50" y2="421.42" stroke="#111" stroke-width="0.75"/>
<line x1="24.60" y1="419.54" x2="26.50" y2="419.54" stroke="#111" stroke-width="0.75"/>
<line x1="24.60" y1="417.66" x2="26.50" y2="417.66" stroke="#111" stroke-width="0.75"/>
<line x1="24.60" y1="415.78" x2="26.50" y2="415.78" stroke="#111" stroke-width="0.75"/>
<line x1="24.60" y1="413.90" x2="26.50" y2="413.90" stroke="#111" stroke-width="0.75"/>
<line x1="24.60" y1="412.02" x2="26.50" y2="412.02" stroke="#111" stroke-width="0.75"/>
<line x1="24.60" y1="410.14" x2="26.50" y2="410.14" stroke="#111" stroke-width="0.75"/>
<line x1="24.60" y1="408.26" x2="26.50" y2="408.26" stroke="#111" stroke-width="0.75"/>
<line x1="24.60" y1="406.38" x2="26.50" y2="406.38" stroke="#111" stroke-width="0.75"/>
<line x1="24.60" y1="404.50" x2="26.50" y2="404.50" stroke="#111" stroke-width="0.75"/>
<line x1="24.60" y1="402.62" x2="26.50" y2="402.62" stroke="#111" stroke-width="0.75"/>
<line x1="24.60" y1="400.74" x2="26.50" y2="400.74" stroke="#111" stroke-width="0.75"/>
<line x1="24.60" y1="398.86" x2="26.50" y2="398.86" stroke="#111" stroke-width="0.75"/>
<line x1="23.30" y1="397.20" x2="26.30" y2="397.20" stroke="#000" stroke-width="0.9"/>
<text x="22.90" y="399.70" font-family="Liberation Sans" font-size="5.9" font-weight="bold" text-anchor="end" fill="#111">4000</text>
<line x1="23.30" y1="416.00" x2="26.30" y2="416.00" stroke="#000" stroke-width="0.9"/>
<text x="22.90" y="418.50" font-family="Liberation Sans" font-size="5.9" font-weight="bold" text-anchor="end" fill="#111">3000</text>
<line x1="23.30" y1="434.60" x2="26.30" y2="434.60" stroke="#000" stroke-width="0.9"/>
<text x="22.90" y="437.10" font-family="Liberation Sans" font-size="5.9" font-weight="bold" text-anchor="end" fill="#111">2000</text>
<line x1="23.30" y1="453.40" x2="26.30" y2="453.40" stroke="#000" stroke-width="0.9"/>
<text x="22.90" y="455.90" font-family="Liberation Sans" font-size="5.9" font-weight="bold" text-anchor="end" fill="#111">1000</text>
<line x1="23.30" y1="472.10" x2="26.30" y2="472.10" stroke="#000" stroke-width="0.9"/>
<text x="22.90" y="474.60" font-family="Liberation Sans" font-size="5.9" font-weight="bold" text-anchor="end" fill="#111">100</text>
<line x1="23.30" y1="496.60" x2="26.30" y2="496.60" stroke="#000" stroke-width="0.9"/>
<text x="22.90" y="499.10" font-family="Liberation Sans" font-size="5.9" font-weight="bold" text-anchor="end" fill="#111">50</text>
<line x1="23.30" y1="521.00" x2="26.30" y2="521.00" stroke="#000" stroke-width="0.9"/>
<text x="22.90" y="523.50" font-family="Liberation Sans" font-size="5.9" font-weight="bold" text-anchor="end" fill="#111">0</text>
<line x1="31.00" y1="521.00" x2="31.00" y2="523.00" stroke="#000" stroke-width="0.7"/>
<line x1="40.33" y1="521.00" x2="40.33" y2="523.00" stroke="#000" stroke-width="0.7"/>
<line x1="49.66" y1="521.00" x2="49.66" y2="523.00" stroke="#000" stroke-width="0.7"/>
<line x1="58.99" y1="521.00" x2="58.99" y2="523.00" stroke="#000" stroke-width="0.7"/>
<line x1="68.32" y1="521.00" x2="68.32" y2="523.00" stroke="#000" stroke-width="0.7"/>
<line x1="77.65" y1="521.00" x2="77.65" y2="523.00" stroke="#000" stroke-width="0.7"/>
<line x1="86.98" y1="521.00" x2="86.98" y2="523.00" stroke="#000" stroke-width="0.7"/>
<line x1="96.31" y1="521.00" x2="96.31" y2="523.00" stroke="#000" stroke-width="0.7"/>
<rect x="27.50" y="469.90" width="3.50" height="51.10" fill="#2036b4" stroke="#000" stroke-width="0.95"/>
<rect x="31.00" y="469.40" width="3.50" height="51.60" fill="#d8d257" stroke="#000" stroke-width="0.95"/>
<rect x="36.83" y="436.10" width="3.50" height="84.90" fill="#2036b4" stroke="#000" stroke-width="0.95"/>
<rect x="40.33" y="421.60" width="3.50" height="99.40" fill="#d8d257" stroke="#000" stroke-width="0.95"/>
<rect x="46.16" y="463.00" width="3.50" height="58.00" fill="#2036b4" stroke="#000" stroke-width="0.95"/>
<rect x="49.66" y="468.80" width="3.50" height="52.20" fill="#d8d257" stroke="#000" stroke-width="0.95"/>
<rect x="55.49" y="520.20" width="3.50" height="0.80" fill="#2036b4" stroke="#000" stroke-width="0.95"/>
<rect x="58.99" y="517.20" width="3.50" height="3.80" fill="#d8d257" stroke="#000" stroke-width="0.95"/>
<rect x="64.82" y="504.50" width="3.50" height="16.50" fill="#2036b4" stroke="#000" stroke-width="0.95"/>
<rect x="68.32" y="510.80" width="3.50" height="10.20" fill="#d8d257" stroke="#000" stroke-width="0.95"/>
<rect x="74.15" y="512.60" width="3.50" height="8.40" fill="#2036b4" stroke="#000" stroke-width="0.95"/>
<rect x="77.65" y="519.50" width="3.50" height="1.50" fill="#d8d257" stroke="#000" stroke-width="0.95"/>
<rect x="83.48" y="518.20" width="3.50" height="2.80" fill="#2036b4" stroke="#000" stroke-width="0.95"/>
<rect x="86.98" y="520.20" width="3.50" height="0.80" fill="#d8d257" stroke="#000" stroke-width="0.95"/>
<rect x="92.81" y="514.10" width="3.50" height="6.90" fill="#2036b4" stroke="#000" stroke-width="0.95"/>
<rect x="96.31" y="517.20" width="3.50" height="3.80" fill="#d8d257" stroke="#000" stroke-width="0.95"/>
<rect x="26.80" y="470.80" width="74.20" height="1.30" fill="#fff"/>
<line x1="27.30" y1="470.55" x2="31.20" y2="470.55" stroke="#000" stroke-width="0.6"/>
<line x1="30.80" y1="470.55" x2="34.70" y2="470.55" stroke="#000" stroke-width="0.6"/>
<line x1="36.63" y1="470.55" x2="40.53" y2="470.55" stroke="#000" stroke-width="0.6"/>
<line x1="40.13" y1="470.55" x2="44.03" y2="470.55" stroke="#000" stroke-width="0.6"/>
<line x1="45.96" y1="470.55" x2="49.86" y2="470.55" stroke="#000" stroke-width="0.6"/>
<line x1="49.46" y1="470.55" x2="53.36" y2="470.55" stroke="#000" stroke-width="0.6"/>
<text x="0" y="0" font-family="Liberation Sans" font-size="6.6" font-weight="bold" text-anchor="middle" fill="#111" transform="translate(8.00 459.20) rotate(-90)">FPKM</text>
<text x="0" y="0" font-family="Liberation Sans" font-size="6.0" font-weight="bold" text-anchor="end" fill="#111" transform="translate(31.80 528.30) rotate(-45)">HBB,HBD</text>
<text x="0" y="0" font-family="Liberation Sans" font-size="6.0" font-weight="bold" text-anchor="end" fill="#111" transform="translate(41.13 528.30) rotate(-45)">HBE1</text>
<text x="0" y="0" font-family="Liberation Sans" font-size="6.0" font-weight="bold" text-anchor="end" fill="#111" transform="translate(50.46 528.30) rotate(-45)">HBG2</text>
<text x="0" y="0" font-family="Liberation Sans" font-size="6.0" font-weight="bold" text-anchor="end" fill="#111" transform="translate(59.79 528.30) rotate(-45)">SPTA1</text>
<text x="0" y="0" font-family="Liberation Sans" font-size="6.0" font-weight="bold" text-anchor="end" fill="#111" transform="translate(69.12 528.30) rotate(-45)">GATA1</text>
<text x="0" y="0" font-family="Liberation Sans" font-size="6.0" font-weight="bold" text-anchor="end" fill="#111" transform="translate(78.45 528.30) rotate(-45)">GYPA,GYPB,GYPE</text>
<text x="0" y="0" font-family="Liberation Sans" font-size="6.0" font-weight="bold" text-anchor="end" fill="#111" transform="translate(87.78 528.30) rotate(-45)">KLF1</text>
<text x="0" y="0" font-family="Liberation Sans" font-size="6.0" font-weight="bold" text-anchor="end" fill="#111" transform="translate(97.11 528.30) rotate(-45)">KEL</text>
<line x1="121.50" y1="396.90" x2="121.50" y2="521.00" stroke="#000" stroke-width="0.75"/>
<line x1="121.10" y1="521.00" x2="228.50" y2="521.00" stroke="#000" stroke-width="0.9"/>
<line x1="119.80" y1="521.00" x2="121.70" y2="521.00" stroke="#111" stroke-width="0.75"/>
<line x1="119.80" y1="518.55" x2="121.70" y2="518.55" stroke="#111" stroke-width="0.75"/>
<line x1="119.80" y1="516.10" x2="121.70" y2="516.10" stroke="#111" stroke-width="0.75"/>
<line x1="119.80" y1="513.65" x2="121.70" y2="513.65" stroke="#111" stroke-width="0.75"/>
<line x1="119.80" y1="511.20" x2="121.70" y2="511.20" stroke="#111" stroke-width="0.75"/>
<line x1="119.80" y1="508.75" x2="121.70" y2="508.75" stroke="#111" stroke-width="0.75"/>
<line x1="119.80" y1="506.30" x2="121.70" y2="506.30" stroke="#111" stroke-width="0.75"/>
<line x1="119.80" y1="503.85" x2="121.70" y2="503.85" stroke="#111" stroke-width="0.75"/>
<line x1="119.80" y1="501.40" x2="121.70" y2="501.40" stroke="#111" stroke-width="0.75"/>
<line x1="119.80" y1="498.95" x2="121.70" y2="498.95" stroke="#111" stroke-width="0.75"/>
<line x1="119.80" y1="496.50" x2="121.70" y2="496.50" stroke="#111" stroke-width="0.75"/>
<line x1="119.80" y1="494.05" x2="121.70" y2="494.05" stroke="#111" stroke-width="0.75"/>
<line x1="119.80" y1="491.60" x2="121.70" y2="491.60" stroke="#111" stroke-width="0.75"/>
<line x1="119.80" y1="489.15" x2="121.70" y2="489.15" stroke="#111" stroke-width="0.75"/>
<line x1="119.80" y1="486.70" x2="121.70" y2="486.70" stroke="#111" stroke-width="0.75"/>
<line x1="119.80" y1="484.25" x2="121.70" y2="484.25" stroke="#111" stroke-width="0.75"/>
<line x1="119.80" y1="481.80" x2="121.70" y2="481.80" stroke="#111" stroke-width="0.75"/>
<line x1="119.80" y1="479.35" x2="121.70" y2="479.35" stroke="#111" stroke-width="0.75"/>
<line x1="119.80" y1="476.90" x2="121.70" y2="476.90" stroke="#111" stroke-width="0.75"/>
<line x1="119.80" y1="474.45" x2="121.70" y2="474.45" stroke="#111" stroke-width="0.75"/>
<line x1="119.80" y1="472.00" x2="121.70" y2="472.00" stroke="#111" stroke-width="0.75"/>
<line x1="119.80" y1="470.30" x2="121.70" y2="470.30" stroke="#111" stroke-width="0.75"/>
<line x1="119.80" y1="468.37" x2="121.70" y2="468.37" stroke="#111" stroke-width="0.75"/>
<line x1="119.80" y1="466.44" x2="121.70" y2="466.44" stroke="#111" stroke-width="0.75"/>
<line x1="119.80" y1="464.51" x2="121.70" y2="464.51" stroke="#111" stroke-width="0.75"/>
<line x1="119.80" y1="462.58" x2="121.70" y2="462.58" stroke="#111" stroke-width="0.75"/>
<line x1="119.80" y1="460.65" x2="121.70" y2="460.65" stroke="#111" stroke-width="0.75"/>
<line x1="119.80" y1="458.72" x2="121.70" y2="458.72" stroke="#111" stroke-width="0.75"/>
<line x1="119.80" y1="456.79" x2="121.70" y2="456.79" stroke="#111" stroke-width="0.75"/>
<line x1="119.80" y1="454.86" x2="121.70" y2="454.86" stroke="#111" stroke-width="0.75"/>
<line x1="119.80" y1="452.93" x2="121.70" y2="452.93" stroke="#111" stroke-width="0.75"/>
<line x1="119.80" y1="451.00" x2="121.70" y2="451.00" stroke="#111" stroke-width="0.75"/>
<line x1="119.80" y1="449.07" x2="121.70" y2="449.07" stroke="#111" stroke-width="0.75"/>
<line x1="119.80" y1="447.14" x2="121.70" y2="447.14" stroke="#111" stroke-width="0.75"/>
<line x1="119.80" y1="445.21" x2="121.70" y2="445.21" stroke="#111" stroke-width="0.75"/>
<line x1="119.80" y1="443.28" x2="121.70" y2="443.28" stroke="#111" stroke-width="0.75"/>
<line x1="119.80" y1="441.35" x2="121.70" y2="441.35" stroke="#111" stroke-width="0.75"/>
<line x1="119.80" y1="439.42" x2="121.70" y2="439.42" stroke="#111" stroke-width="0.75"/>
<line x1="119.80" y1="437.49" x2="121.70" y2="437.49" stroke="#111" stroke-width="0.75"/>
<line x1="119.80" y1="435.56" x2="121.70" y2="435.56" stroke="#111" stroke-width="0.75"/>
<line x1="119.80" y1="433.63" x2="121.70" y2="433.63" stroke="#111" stroke-width="0.75"/>
<line x1="119.80" y1="431.70" x2="121.70" y2="431.70" stroke="#111" stroke-width="0.75"/>
<line x1="119.80" y1="429.77" x2="121.70" y2="429.77" stroke="#111" stroke-width="0.75"/>
<line x1="119.80" y1="427.84" x2="121.70" y2="427.84" stroke="#111" stroke-width="0.75"/>
<line x1="119.80" y1="425.91" x2="121.70" y2="425.91" stroke="#111" stroke-width="0.75"/>
<line x1="119.80" y1="423.98" x2="121.70" y2="423.98" stroke="#111" stroke-width="0.75"/>
<line x1="119.80" y1="422.05" x2="121.70" y2="422.05" stroke="#111" stroke-width="0.75"/>
<line x1="119.80" y1="420.12" x2="121.70" y2="420.12" stroke="#111" stroke-width="0.75"/>
<line x1="119.80" y1="418.19" x2="121.70" y2="418.19" stroke="#111" stroke-width="0.75"/>
<line x1="119.80" y1="416.26" x2="121.70" y2="416.26" stroke="#111" stroke-width="0.75"/>
<line x1="119.80" y1="414.33" x2="121.70" y2="414.33" stroke="#111" stroke-width="0.75"/>
<line x1="119.80" y1="412.40" x2="121.70" y2="412.40" stroke="#111" stroke-width="0.75"/>
<line x1="119.80" y1="410.47" x2="121.70" y2="410.47" stroke="#111" stroke-width="0.75"/>
<line x1="119.80" y1="408.54" x2="121.70" y2="408.54" stroke="#111" stroke-width="0.75"/>
<line x1="119.80" y1="406.61" x2="121.70" y2="406.61" stroke="#111" stroke-width="0.75"/>
<line x1="119.80" y1="404.68" x2="121.70" y2="404.68" stroke="#111" stroke-width="0.75"/>
<line x1="119.80" y1="402.75" x2="121.70" y2="402.75" stroke="#111" stroke-width="0.75"/>
<line x1="119.80" y1="400.82" x2="121.70" y2="400.82" stroke="#111" stroke-width="0.75"/>
<line x1="119.80" y1="398.89" x2="121.70" y2="398.89" stroke="#111" stroke-width="0.75"/>
<line x1="118.50" y1="396.90" x2="121.50" y2="396.90" stroke="#000" stroke-width="0.9"/>
<text x="118.10" y="399.40" font-family="Liberation Sans" font-size="5.9" font-weight="bold" text-anchor="end" fill="#111">2000</text>
<line x1="118.50" y1="416.00" x2="121.50" y2="416.00" stroke="#000" stroke-width="0.9"/>
<text x="118.10" y="418.50" font-family="Liberation Sans" font-size="5.9" font-weight="bold" text-anchor="end" fill="#111">1500</text>
<line x1="118.50" y1="435.50" x2="121.50" y2="435.50" stroke="#000" stroke-width="0.9"/>
<text x="118.10" y="438.00" font-family="Liberation Sans" font-size="5.9" font-weight="bold" text-anchor="end" fill="#111">1000</text>
<line x1="118.50" y1="454.90" x2="121.50" y2="454.90" stroke="#000" stroke-width="0.9"/>
<text x="118.10" y="457.40" font-family="Liberation Sans" font-size="5.9" font-weight="bold" text-anchor="end" fill="#111">500</text>
<line x1="118.50" y1="471.80" x2="121.50" y2="471.80" stroke="#000" stroke-width="0.9"/>
<text x="118.10" y="474.30" font-family="Liberation Sans" font-size="5.9" font-weight="bold" text-anchor="end" fill="#111">100</text>
<line x1="118.50" y1="496.60" x2="121.50" y2="496.60" stroke="#000" stroke-width="0.9"/>
<text x="118.10" y="499.10" font-family="Liberation Sans" font-size="5.9" font-weight="bold" text-anchor="end" fill="#111">50</text>
<line x1="118.50" y1="521.00" x2="121.50" y2="521.00" stroke="#000" stroke-width="0.9"/>
<text x="118.10" y="523.50" font-family="Liberation Sans" font-size="5.9" font-weight="bold" text-anchor="end" fill="#111">0</text>
<line x1="128.30" y1="521.00" x2="128.30" y2="523.00" stroke="#000" stroke-width="0.7"/>
<line x1="142.04" y1="521.00" x2="142.04" y2="523.00" stroke="#000" stroke-width="0.7"/>
<line x1="155.78" y1="521.00" x2="155.78" y2="523.00" stroke="#000" stroke-width="0.7"/>
<line x1="169.52" y1="521.00" x2="169.52" y2="523.00" stroke="#000" stroke-width="0.7"/>
<line x1="183.26" y1="521.00" x2="183.26" y2="523.00" stroke="#000" stroke-width="0.7"/>
<line x1="197.00" y1="521.00" x2="197.00" y2="523.00" stroke="#000" stroke-width="0.7"/>
<line x1="210.74" y1="521.00" x2="210.74" y2="523.00" stroke="#000" stroke-width="0.7"/>
<line x1="224.48" y1="521.00" x2="224.48" y2="523.00" stroke="#000" stroke-width="0.7"/>
<rect x="122.80" y="468.80" width="3.70" height="52.20" fill="#2036b4" stroke="#000" stroke-width="0.95"/>
<rect x="126.50" y="508.80" width="3.70" height="12.20" fill="#d8d257" stroke="#000" stroke-width="0.95"/>
<rect x="130.20" y="519.50" width="3.70" height="1.50" fill="#a83a2c" stroke="#000" stroke-width="0.95"/>
<rect x="136.54" y="441.10" width="3.70" height="79.90" fill="#2036b4" stroke="#000" stroke-width="0.95"/>
<rect x="140.24" y="469.20" width="3.70" height="51.80" fill="#d8d257" stroke="#000" stroke-width="0.95"/>
<rect x="143.94" y="520.20" width="3.70" height="0.80" fill="#a83a2c" stroke="#000" stroke-width="0.95"/>
<rect x="150.28" y="451.80" width="3.70" height="69.20" fill="#2036b4" stroke="#000" stroke-width="0.95"/>
<rect x="153.98" y="511.60" width="3.70" height="9.40" fill="#d8d257" stroke="#000" stroke-width="0.95"/>
<rect x="157.68" y="520.30" width="3.70" height="0.70" fill="#a83a2c" stroke="#000" stroke-width="0.95"/>
<rect x="164.02" y="519.50" width="3.70" height="1.50" fill="#2036b4" stroke="#000" stroke-width="0.95"/>
<rect x="167.72" y="519.80" width="3.70" height="1.20" fill="#d8d257" stroke="#000" stroke-width="0.95"/>
<rect x="171.42" y="519.50" width="3.70" height="1.50" fill="#a83a2c" stroke="#000" stroke-width="0.95"/>
<rect x="177.76" y="498.10" width="3.70" height="22.90" fill="#2036b4" stroke="#000" stroke-width="0.95"/>
<rect x="181.46" y="518.80" width="3.70" height="2.20" fill="#d8d257" stroke="#000" stroke-width="0.95"/>
<rect x="185.16" y="518.00" width="3.70" height="3.00" fill="#a83a2c" stroke="#000" stroke-width="0.95"/>
<rect x="191.50" y="514.10" width="3.70" height="6.90" fill="#2036b4" stroke="#000" stroke-width="0.95"/>
<rect x="195.20" y="520.30" width="3.70" height="0.70" fill="#d8d257" stroke="#000" stroke-width="0.95"/>
<rect x="198.90" y="520.30" width="3.70" height="0.70" fill="#a83a2c" stroke="#000" stroke-width="0.95"/>
<rect x="205.24" y="520.20" width="3.70" height="0.80" fill="#2036b4" stroke="#000" stroke-width="0.95"/>
<rect x="208.94" y="520.30" width="3.70" height="0.70" fill="#d8d257" stroke="#000" stroke-width="0.95"/>
<rect x="212.64" y="512.00" width="3.70" height="9.00" fill="#a83a2c" stroke="#000" stroke-width="0.95"/>
<rect x="218.98" y="514.80" width="3.70" height="6.20" fill="#2036b4" stroke="#000" stroke-width="0.95"/>
<rect x="222.68" y="519.80" width="3.70" height="1.20" fill="#d8d257" stroke="#000" stroke-width="0.95"/>
<rect x="226.38" y="520.40" width="3.70" height="0.60" fill="#a83a2c" stroke="#000" stroke-width="0.95"/>
<rect x="122.00" y="470.80" width="106.00" height="1.30" fill="#fff"/>
<line x1="122.60" y1="470.55" x2="126.70" y2="470.55" stroke="#000" stroke-width="0.6"/>
<line x1="136.34" y1="470.55" x2="140.44" y2="470.55" stroke="#000" stroke-width="0.6"/>
<line x1="140.04" y1="470.55" x2="144.14" y2="470.55" stroke="#000" stroke-width="0.6"/>
<line x1="150.08" y1="470.55" x2="154.18" y2="470.55" stroke="#000" stroke-width="0.6"/>
<text x="0" y="0" font-family="Liberation Sans" font-size="6.6" font-weight="bold" text-anchor="middle" fill="#111" transform="translate(107.30 459.50) rotate(-90)">FPKM</text>
<text x="0" y="0" font-family="Liberation Sans" font-size="6.0" font-weight="bold" text-anchor="end" fill="#111" transform="translate(129.10 528.30) rotate(-45)">HBB,HBD</text>
<text x="0" y="0" font-family="Liberation Sans" font-size="6.0" font-weight="bold" text-anchor="end" fill="#111" transform="translate(142.84 528.30) rotate(-45)">HBE1</text>
<text x="0" y="0" font-family="Liberation Sans" font-size="6.0" font-weight="bold" text-anchor="end" fill="#111" transform="translate(156.58 528.30) rotate(-45)">HBG2</text>
<text x="0" y="0" font-family="Liberation Sans" font-size="6.0" font-weight="bold" text-anchor="end" fill="#111" transform="translate(170.32 528.30) rotate(-45)">SPTA1</text>
<text x="0" y="0" font-family="Liberation Sans" font-size="6.0" font-weight="bold" text-anchor="end" fill="#111" transform="translate(184.06 528.30) rotate(-45)">GATA1</text>
<text x="0" y="0" font-family="Liberation Sans" font-size="6.0" font-weight="bold" text-anchor="end" fill="#111" transform="translate(197.80 528.30) rotate(-45)">GYPA,GYPB,GYPE</text>
<text x="0" y="0" font-family="Liberation Sans" font-size="6.0" font-weight="bold" text-anchor="end" fill="#111" transform="translate(211.54 528.30) rotate(-45)">KLF1</text>
<text x="0" y="0" font-family="Liberation Sans" font-size="6.0" font-weight="bold" text-anchor="end" fill="#111" transform="translate(225.28 528.30) rotate(-45)">KEL</text>
<line x1="256.50" y1="392.10" x2="256.50" y2="521.00" stroke="#000" stroke-width="0.75"/>
<line x1="256.10" y1="521.00" x2="334.50" y2="521.00" stroke="#000" stroke-width="0.9"/>
<line x1="254.80" y1="521.00" x2="256.70" y2="521.00" stroke="#111" stroke-width="0.75"/>
<line x1="254.80" y1="519.16" x2="256.70" y2="519.16" stroke="#111" stroke-width="0.75"/>
<line x1="254.80" y1="517.32" x2="256.70" y2="517.32" stroke="#111" stroke-width="0.75"/>
<line x1="254.80" y1="515.48" x2="256.70" y2="515.48" stroke="#111" stroke-width="0.75"/>
<line x1="254.80" y1="513.64" x2="256.70" y2="513.64" stroke="#111" stroke-width="0.75"/>
<line x1="254.80" y1="511.80" x2="256.70" y2="511.80" stroke="#111" stroke-width="0.75"/>
<line x1="254.80" y1="509.96" x2="256.70" y2="509.96" stroke="#111" stroke-width="0.75"/>
<line x1="254.80" y1="508.12" x2="256.70" y2="508.12" stroke="#111" stroke-width="0.75"/>
<line x1="254.80" y1="506.28" x2="256.70" y2="506.28" stroke="#111" stroke-width="0.75"/>
<line x1="254.80" y1="504.44" x2="256.70" y2="504.44" stroke="#111" stroke-width="0.75"/>
<line x1="254.80" y1="502.60" x2="256.70" y2="502.60" stroke="#111" stroke-width="0.75"/>
<line x1="254.80" y1="500.76" x2="256.70" y2="500.76" stroke="#111" stroke-width="0.75"/>
<line x1="254.80" y1="498.92" x2="256.70" y2="498.92" stroke="#111" stroke-width="0.75"/>
<line x1="254.80" y1="497.08" x2="256.70" y2="497.08" stroke="#111" stroke-width="0.75"/>
<line x1="254.80" y1="495.24" x2="256.70" y2="495.24" stroke="#111" stroke-width="0.75"/>
<line x1="254.80" y1="493.40" x2="256.70" y2="493.40" stroke="#111" stroke-width="0.75"/>
<line x1="254.80" y1="491.56" x2="256.70" y2="491.56" stroke="#111" stroke-width="0.75"/>
<line x1="254.80" y1="489.72" x2="256.70" y2="489.72" stroke="#111" stroke-width="0.75"/>
<line x1="254.80" y1="487.88" x2="256.70" y2="487.88" stroke="#111" stroke-width="0.75"/>
<line x1="254.80" y1="486.04" x2="256.70" y2="486.04" stroke="#111" stroke-width="0.75"/>
<line x1="254.80" y1="484.20" x2="256.70" y2="484.20" stroke="#111" stroke-width="0.75"/>
<line x1="254.80" y1="482.36" x2="256.70" y2="482.36" stroke="#111" stroke-width="0.75"/>
<line x1="254.80" y1="480.52" x2="256.70" y2="480.52" stroke="#111" stroke-width="0.75"/>
<line x1="254.80" y1="478.68" x2="256.70" y2="478.68" stroke="#111" stroke-width="0.75"/>
<line x1="254.80" y1="476.84" x2="256.70" y2="476.84" stroke="#111" stroke-width="0.75"/>
<line x1="254.80" y1="475.00" x2="256.70" y2="475.00" stroke="#111" stroke-width="0.75"/>
<line x1="254.80" y1="473.16" x2="256.70" y2="473.16" stroke="#111" stroke-width="0.75"/>
<line x1="254.80" y1="471.32" x2="256.70" y2="471.32" stroke="#111" stroke-width="0.75"/>
<line x1="254.80" y1="469.48" x2="256.70" y2="469.48" stroke="#111" stroke-width="0.75"/>
<line x1="254.80" y1="467.64" x2="256.70" y2="467.64" stroke="#111" stroke-width="0.75"/>
<line x1="254.80" y1="465.80" x2="256.70" y2="465.80" stroke="#111" stroke-width="0.75"/>
<line x1="254.80" y1="463.96" x2="256.70" y2="463.96" stroke="#111" stroke-width="0.75"/>
<line x1="254.80" y1="462.12" x2="256.70" y2="462.12" stroke="#111" stroke-width="0.75"/>
<line x1="254.80" y1="460.28" x2="256.70" y2="460.28" stroke="#111" stroke-width="0.75"/>
<line x1="254.80" y1="458.44" x2="256.70" y2="458.44" stroke="#111" stroke-width="0.75"/>
<line x1="254.80" y1="456.60" x2="256.70" y2="456.60" stroke="#111" stroke-width="0.75"/>
<line x1="254.80" y1="454.76" x2="256.70" y2="454.76" stroke="#111" stroke-width="0.75"/>
<line x1="254.80" y1="452.92" x2="256.70" y2="452.92" stroke="#111" stroke-width="0.75"/>
<line x1="254.80" y1="451.08" x2="256.70" y2="451.08" stroke="#111" stroke-width="0.75"/>
<line x1="254.80" y1="449.24" x2="256.70" y2="449.24" stroke="#111" stroke-width="0.75"/>
<line x1="254.80" y1="446.80" x2="256.70" y2="446.80" stroke="#111" stroke-width="0.75"/>
<line x1="254.80" y1="444.84" x2="256.70" y2="444.84" stroke="#111" stroke-width="0.75"/>
<line x1="254.80" y1="442.88" x2="256.70" y2="442.88" stroke="#111" stroke-width="0.75"/>
<line x1="254.80" y1="440.92" x2="256.70" y2="440.92" stroke="#111" stroke-width="0.75"/>
<line x1="254.80" y1="438.96" x2="256.70" y2="438.96" stroke="#111" stroke-width="0.75"/>
<line x1="254.80" y1="437.00" x2="256.70" y2="437.00" stroke="#111" stroke-width="0.75"/>
<line x1="254.80" y1="435.04" x2="256.70" y2="435.04" stroke="#111" stroke-width="0.75"/>
<line x1="254.80" y1="433.08" x2="256.70" y2="433.08" stroke="#111" stroke-width="0.75"/>
<line x1="254.80" y1="431.12" x2="256.70" y2="431.12" stroke="#111" stroke-width="0.75"/>
<line x1="254.80" y1="429.16" x2="256.70" y2="429.16" stroke="#111" stroke-width="0.75"/>
<line x1="254.80" y1="427.20" x2="256.70" y2="427.20" stroke="#111" stroke-width="0.75"/>
<line x1="254.80" y1="425.24" x2="256.70" y2="425.24" stroke="#111" stroke-width="0.75"/>
<line x1="254.80" y1="423.28" x2="256.70" y2="423.28" stroke="#111" stroke-width="0.75"/>
<line x1="254.80" y1="421.32" x2="256.70" y2="421.32" stroke="#111" stroke-width="0.75"/>
<line x1="254.80" y1="419.36" x2="256.70" y2="419.36" stroke="#111" stroke-width="0.75"/>
<line x1="254.80" y1="417.40" x2="256.70" y2="417.40" stroke="#111" stroke-width="0.75"/>
<line x1="254.80" y1="415.44" x2="256.70" y2="415.44" stroke="#111" stroke-width="0.75"/>
<line x1="254.80" y1="413.48" x2="256.70" y2="413.48" stroke="#111" stroke-width="0.75"/>
<line x1="254.80" y1="411.52" x2="256.70" y2="411.52" stroke="#111" stroke-width="0.75"/>
<line x1="254.80" y1="409.56" x2="256.70" y2="409.56" stroke="#111" stroke-width="0.75"/>
<line x1="254.80" y1="407.60" x2="256.70" y2="407.60" stroke="#111" stroke-width="0.75"/>
<line x1="254.80" y1="405.64" x2="256.70" y2="405.64" stroke="#111" stroke-width="0.75"/>
<line x1="254.80" y1="403.68" x2="256.70" y2="403.68" stroke="#111" stroke-width="0.75"/>
<line x1="254.80" y1="401.72" x2="256.70" y2="401.72" stroke="#111" stroke-width="0.75"/>
<line x1="254.80" y1="399.76" x2="256.70" y2="399.76" stroke="#111" stroke-width="0.75"/>
<line x1="254.80" y1="397.80" x2="256.70" y2="397.80" stroke="#111" stroke-width="0.75"/>
<line x1="254.80" y1="395.84" x2="256.70" y2="395.84" stroke="#111" stroke-width="0.75"/>
<line x1="254.80" y1="393.88" x2="256.70" y2="393.88" stroke="#111" stroke-width="0.75"/>
<line x1="253.50" y1="392.10" x2="256.50" y2="392.10" stroke="#000" stroke-width="0.9"/>
<text x="253.10" y="395.10" font-family="Liberation Sans" font-size="6.3" font-weight="bold" text-anchor="end" fill="#111">1500</text>
<line x1="253.50" y1="411.40" x2="256.50" y2="411.40" stroke="#000" stroke-width="0.9"/>
<text x="253.10" y="414.40" font-family="Liberation Sans" font-size="6.3" font-weight="bold" text-anchor="end" fill="#111">1000</text>
<line x1="253.50" y1="431.20" x2="256.50" y2="431.20" stroke="#000" stroke-width="0.9"/>
<text x="253.10" y="434.20" font-family="Liberation Sans" font-size="6.3" font-weight="bold" text-anchor="end" fill="#111">500</text>
<line x1="253.50" y1="448.30" x2="256.50" y2="448.30" stroke="#000" stroke-width="0.9"/>
<text x="253.10" y="451.30" font-family="Liberation Sans" font-size="6.3" font-weight="bold" text-anchor="end" fill="#111">100</text>
<line x1="253.50" y1="463.30" x2="256.50" y2="463.30" stroke="#000" stroke-width="0.9"/>
<text x="253.10" y="466.30" font-family="Liberation Sans" font-size="6.3" font-weight="bold" text-anchor="end" fill="#111">80</text>
<line x1="253.50" y1="478.00" x2="256.50" y2="478.00" stroke="#000" stroke-width="0.9"/>
<text x="253.10" y="481.00" font-family="Liberation Sans" font-size="6.3" font-weight="bold" text-anchor="end" fill="#111">60</text>
<line x1="253.50" y1="492.30" x2="256.50" y2="492.30" stroke="#000" stroke-width="0.9"/>
<text x="253.10" y="495.30" font-family="Liberation Sans" font-size="6.3" font-weight="bold" text-anchor="end" fill="#111">40</text>
<line x1="253.50" y1="507.00" x2="256.50" y2="507.00" stroke="#000" stroke-width="0.9"/>
<text x="253.10" y="510.00" font-family="Liberation Sans" font-size="6.3" font-weight="bold" text-anchor="end" fill="#111">20</text>
<line x1="253.50" y1="521.00" x2="256.50" y2="521.00" stroke="#000" stroke-width="0.9"/>
<text x="253.10" y="524.00" font-family="Liberation Sans" font-size="6.3" font-weight="bold" text-anchor="end" fill="#111">0</text>
<line x1="261.20" y1="521.00" x2="261.20" y2="523.00" stroke="#000" stroke-width="0.7"/>
<line x1="270.79" y1="521.00" x2="270.79" y2="523.00" stroke="#000" stroke-width="0.7"/>
<line x1="280.38" y1="521.00" x2="280.38" y2="523.00" stroke="#000" stroke-width="0.7"/>
<line x1="289.97" y1="521.00" x2="289.97" y2="523.00" stroke="#000" stroke-width="0.7"/>
<line x1="299.56" y1="521.00" x2="299.56" y2="523.00" stroke="#000" stroke-width="0.7"/>
<line x1="309.15" y1="521.00" x2="309.15" y2="523.00" stroke="#000" stroke-width="0.7"/>
<line x1="318.74" y1="521.00" x2="318.74" y2="523.00" stroke="#000" stroke-width="0.7"/>
<line x1="328.33" y1="521.00" x2="328.33" y2="523.00" stroke="#000" stroke-width="0.7"/>
<rect x="257.80" y="443.70" width="3.40" height="77.30" fill="#2036b4" stroke="#000" stroke-width="0.95"/>
<rect x="261.20" y="443.20" width="3.40" height="77.80" fill="#d8d257" stroke="#000" stroke-width="0.95"/>
<rect x="267.39" y="437.90" width="3.40" height="83.10" fill="#2036b4" stroke="#000" stroke-width="0.95"/>
<rect x="270.79" y="444.10" width="3.40" height="76.90" fill="#d8d257" stroke="#000" stroke-width="0.95"/>
<rect x="276.98" y="443.70" width="3.40" height="77.30" fill="#2036b4" stroke="#000" stroke-width="0.95"/>
<rect x="280.38" y="445.20" width="3.40" height="75.80" fill="#d8d257" stroke="#000" stroke-width="0.95"/>
<rect x="286.57" y="468.80" width="3.40" height="52.20" fill="#2036b4" stroke="#000" stroke-width="0.95"/>
<rect x="289.97" y="489.00" width="3.40" height="32.00" fill="#d8d257" stroke="#000" stroke-width="0.95"/>
<rect x="296.16" y="479.10" width="3.40" height="41.90" fill="#2036b4" stroke="#000" stroke-width="0.95"/>
<rect x="299.56" y="484.60" width="3.40" height="36.40" fill="#d8d257" stroke="#000" stroke-width="0.95"/>
<rect x="305.75" y="501.10" width="3.40" height="19.90" fill="#2036b4" stroke="#000" stroke-width="0.95"/>
<rect x="309.15" y="505.10" width="3.40" height="15.90" fill="#d8d257" stroke="#000" stroke-width="0.95"/>
<rect x="315.34" y="444.30" width="3.40" height="76.70" fill="#2036b4" stroke="#000" stroke-width="0.95"/>
<rect x="318.74" y="445.00" width="3.40" height="76.00" fill="#d8d257" stroke="#000" stroke-width="0.95"/>
<rect x="324.93" y="517.40" width="3.40" height="3.60" fill="#2036b4" stroke="#000" stroke-width="0.95"/>
<rect x="328.33" y="518.90" width="3.40" height="2.10" fill="#d8d257" stroke="#000" stroke-width="0.95"/>
<rect x="257.00" y="447.20" width="77.00" height="1.60" fill="#fff"/>
<line x1="257.60" y1="446.95" x2="261.40" y2="446.95" stroke="#000" stroke-width="0.6"/>
<line x1="261.00" y1="446.95" x2="264.80" y2="446.95" stroke="#000" stroke-width="0.6"/>
<line x1="267.19" y1="446.95" x2="270.99" y2="446.95" stroke="#000" stroke-width="0.6"/>
<line x1="270.59" y1="446.95" x2="274.39" y2="446.95" stroke="#000" stroke-width="0.6"/>
<line x1="276.78" y1="446.95" x2="280.58" y2="446.95" stroke="#000" stroke-width="0.6"/>
<line x1="280.18" y1="446.95" x2="283.98" y2="446.95" stroke="#000" stroke-width="0.6"/>
<line x1="315.14" y1="446.95" x2="318.94" y2="446.95" stroke="#000" stroke-width="0.6"/>
<line x1="318.54" y1="446.95" x2="322.34" y2="446.95" stroke="#000" stroke-width="0.6"/>
<text x="0" y="0" font-family="Liberation Sans" font-size="6.6" font-weight="bold" text-anchor="middle" fill="#111" transform="translate(242.50 456.50) rotate(-90)">FPKM</text>
<text x="0" y="0" font-family="Liberation Sans" font-size="6.0" font-weight="bold" text-anchor="end" fill="#111" transform="translate(262.00 528.10) rotate(-45)">PF4</text>
<text x="0" y="0" font-family="Liberation Sans" font-size="6.0" font-weight="bold" text-anchor="end" fill="#111" transform="translate(271.59 528.10) rotate(-45)">PPBP</text>
<text x="0" y="0" font-family="Liberation Sans" font-size="6.0" font-weight="bold" text-anchor="end" fill="#111" transform="translate(281.18 528.10) rotate(-45)">THBS1</text>
<text x="0" y="0" font-family="Liberation Sans" font-size="6.0" font-weight="bold" text-anchor="end" fill="#111" transform="translate(290.77 528.10) rotate(-45)">ITGA2B</text>
<text x="0" y="0" font-family="Liberation Sans" font-size="6.0" font-weight="bold" text-anchor="end" fill="#111" transform="translate(300.36 528.10) rotate(-45)">GP1BA</text>
<text x="0" y="0" font-family="Liberation Sans" font-size="6.0" font-weight="bold" text-anchor="end" fill="#111" transform="translate(309.95 528.10) rotate(-45)">GP1BB</text>
<text x="0" y="0" font-family="Liberation Sans" font-size="6.0" font-weight="bold" text-anchor="end" fill="#111" transform="translate(319.54 528.10) rotate(-45)">ITGB3</text>
<text x="0" y="0" font-family="Liberation Sans" font-size="6.0" font-weight="bold" text-anchor="end" fill="#111" transform="translate(329.13 528.10) rotate(-45)">PROS1</text>
<line x1="355.50" y1="391.80" x2="355.50" y2="521.00" stroke="#000" stroke-width="0.75"/>
<line x1="355.10" y1="521.00" x2="470.50" y2="521.00" stroke="#000" stroke-width="0.9"/>
<line x1="353.80" y1="521.00" x2="355.70" y2="521.00" stroke="#111" stroke-width="0.75"/>
<line x1="353.80" y1="519.16" x2="355.70" y2="519.16" stroke="#111" stroke-width="0.75"/>
<line x1="353.80" y1="517.32" x2="355.70" y2="517.32" stroke="#111" stroke-width="0.75"/>
<line x1="353.80" y1="515.48" x2="355.70" y2="515.48" stroke="#111" stroke-width="0.75"/>
<line x1="353.80" y1="513.64" x2="355.70" y2="513.64" stroke="#111" stroke-width="0.75"/>
<line x1="353.80" y1="511.80" x2="355.70" y2="511.80" stroke="#111" stroke-width="0.75"/>
<line x1="353.80" y1="509.96" x2="355.70" y2="509.96" stroke="#111" stroke-width="0.75"/>
<line x1="353.80" y1="508.12" x2="355.70" y2="508.12" stroke="#111" stroke-width="0.75"/>
<line x1="353.80" y1="506.28" x2="355.70" y2="506.28" stroke="#111" stroke-width="0.75"/>
<line x1="353.80" y1="504.44" x2="355.70" y2="504.44" stroke="#111" stroke-width="0.75"/>
<line x1="353.80" y1="502.60" x2="355.70" y2="502.60" stroke="#111" stroke-width="0.75"/>
<line x1="353.80" y1="500.76" x2="355.70" y2="500.76" stroke="#111" stroke-width="0.75"/>
<line x1="353.80" y1="498.92" x2="355.70" y2="498.92" stroke="#111" stroke-width="0.75"/>
<line x1="353.80" y1="497.08" x2="355.70" y2="497.08" stroke="#111" stroke-width="0.75"/>
<line x1="353.80" y1="495.24" x2="355.70" y2="495.24" stroke="#111" stroke-width="0.75"/>
<line x1="353.80" y1="493.40" x2="355.70" y2="493.40" stroke="#111" stroke-width="0.75"/>
<line x1="353.80" y1="491.56" x2="355.70" y2="491.56" stroke="#111" stroke-width="0.75"/>
<line x1="353.80" y1="489.72" x2="355.70" y2="489.72" stroke="#111" stroke-width="0.75"/>
<line x1="353.80" y1="487.88" x2="355.70" y2="487.88" stroke="#111" stroke-width="0.75"/>
<line x1="353.80" y1="486.04" x2="355.70" y2="486.04" stroke="#111" stroke-width="0.75"/>
<line x1="353.80" y1="484.20" x2="355.70" y2="484.20" stroke="#111" stroke-width="0.75"/>
<line x1="353.80" y1="482.36" x2="355.70" y2="482.36" stroke="#111" stroke-width="0.75"/>
<line x1="353.80" y1="480.52" x2="355.70" y2="480.52" stroke="#111" stroke-width="0.75"/>
<line x1="353.80" y1="478.68" x2="355.70" y2="478.68" stroke="#111" stroke-width="0.75"/>
<line x1="353.80" y1="476.84" x2="355.70" y2="476.84" stroke="#111" stroke-width="0.75"/>
<line x1="353.80" y1="475.00" x2="355.70" y2="475.00" stroke="#111" stroke-width="0.75"/>
<line x1="353.80" y1="473.16" x2="355.70" y2="473.16" stroke="#111" stroke-width="0.75"/>
<line x1="353.80" y1="471.32" x2="355.70" y2="471.32" stroke="#111" stroke-width="0.75"/>
<line x1="353.80" y1="469.48" x2="355.70" y2="469.48" stroke="#111" stroke-width="0.75"/>
<line x1="353.80" y1="467.64" x2="355.70" y2="467.64" stroke="#111" stroke-width="0.75"/>
<line x1="353.80" y1="465.80" x2="355.70" y2="465.80" stroke="#111" stroke-width="0.75"/>
<line x1="353.80" y1="463.96" x2="355.70" y2="463.96" stroke="#111" stroke-width="0.75"/>
<line x1="353.80" y1="462.12" x2="355.70" y2="462.12" stroke="#111" stroke-width="0.75"/>
<line x1="353.80" y1="460.28" x2="355.70" y2="460.28" stroke="#111" stroke-width="0.75"/>
<line x1="353.80" y1="458.44" x2="355.70" y2="458.44" stroke="#111" stroke-width="0.75"/>
<line x1="353.80" y1="456.60" x2="355.70" y2="456.60" stroke="#111" stroke-width="0.75"/>
<line x1="353.80" y1="454.76" x2="355.70" y2="454.76" stroke="#111" stroke-width="0.75"/>
<line x1="353.80" y1="452.92" x2="355.70" y2="452.92" stroke="#111" stroke-width="0.75"/>
<line x1="353.80" y1="451.08" x2="355.70" y2="451.08" stroke="#111" stroke-width="0.75"/>
<line x1="353.80" y1="449.24" x2="355.70" y2="449.24" stroke="#111" stroke-width="0.75"/>
<line x1="353.80" y1="446.80" x2="355.70" y2="446.80" stroke="#111" stroke-width="0.75"/>
<line x1="353.80" y1="444.84" x2="355.70" y2="444.84" stroke="#111" stroke-width="0.75"/>
<line x1="353.80" y1="442.88" x2="355.70" y2="442.88" stroke="#111" stroke-width="0.75"/>
<line x1="353.80" y1="440.92" x2="355.70" y2="440.92" stroke="#111" stroke-width="0.75"/>
<line x1="353.80" y1="438.96" x2="355.70" y2="438.96" stroke="#111" stroke-width="0.75"/>
<line x1="353.80" y1="437.00" x2="355.70" y2="437.00" stroke="#111" stroke-width="0.75"/>
<line x1="353.80" y1="435.04" x2="355.70" y2="435.04" stroke="#111" stroke-width="0.75"/>
<line x1="353.80" y1="433.08" x2="355.70" y2="433.08" stroke="#111" stroke-width="0.75"/>
<line x1="353.80" y1="431.12" x2="355.70" y2="431.12" stroke="#111" stroke-width="0.75"/>
<line x1="353.80" y1="429.16" x2="355.70" y2="429.16" stroke="#111" stroke-width="0.75"/>
<line x1="353.80" y1="427.20" x2="355.70" y2="427.20" stroke="#111" stroke-width="0.75"/>
<line x1="353.80" y1="425.24" x2="355.70" y2="425.24" stroke="#111" stroke-width="0.75"/>
<line x1="353.80" y1="423.28" x2="355.70" y2="423.28" stroke="#111" stroke-width="0.75"/>
<line x1="353.80" y1="421.32" x2="355.70" y2="421.32" stroke="#111" stroke-width="0.75"/>
<line x1="353.80" y1="419.36" x2="355.70" y2="419.36" stroke="#111" stroke-width="0.75"/>
<line x1="353.80" y1="417.40" x2="355.70" y2="417.40" stroke="#111" stroke-width="0.75"/>
<line x1="353.80" y1="415.44" x2="355.70" y2="415.44" stroke="#111" stroke-width="0.75"/>
<line x1="353.80" y1="413.48" x2="355.70" y2="413.48" stroke="#111" stroke-width="0.75"/>
<line x1="353.80" y1="411.52" x2="355.70" y2="411.52" stroke="#111" stroke-width="0.75"/>
<line x1="353.80" y1="409.56" x2="355.70" y2="409.56" stroke="#111" stroke-width="0.75"/>
<line x1="353.80" y1="407.60" x2="355.70" y2="407.60" stroke="#111" stroke-width="0.75"/>
<line x1="353.80" y1="405.64" x2="355.70" y2="405.64" stroke="#111" stroke-width="0.75"/>
<line x1="353.80" y1="403.68" x2="355.70" y2="403.68" stroke="#111" stroke-width="0.75"/>
<line x1="353.80" y1="401.72" x2="355.70" y2="401.72" stroke="#111" stroke-width="0.75"/>
<line x1="353.80" y1="399.76" x2="355.70" y2="399.76" stroke="#111" stroke-width="0.75"/>
<line x1="353.80" y1="397.80" x2="355.70" y2="397.80" stroke="#111" stroke-width="0.75"/>
<line x1="353.80" y1="395.84" x2="355.70" y2="395.84" stroke="#111" stroke-width="0.75"/>
<line x1="353.80" y1="393.88" x2="355.70" y2="393.88" stroke="#111" stroke-width="0.75"/>
<line x1="352.50" y1="391.80" x2="355.50" y2="391.80" stroke="#000" stroke-width="0.9"/>
<text x="352.10" y="394.80" font-family="Liberation Sans" font-size="6.1" font-weight="bold" text-anchor="end" fill="#111">1500</text>
<line x1="352.50" y1="411.20" x2="355.50" y2="411.20" stroke="#000" stroke-width="0.9"/>
<text x="352.10" y="414.20" font-family="Liberation Sans" font-size="6.1" font-weight="bold" text-anchor="end" fill="#111">1000</text>
<line x1="352.50" y1="431.30" x2="355.50" y2="431.30" stroke="#000" stroke-width="0.9"/>
<text x="352.10" y="434.30" font-family="Liberation Sans" font-size="6.1" font-weight="bold" text-anchor="end" fill="#111">500</text>
<line x1="352.50" y1="448.30" x2="355.50" y2="448.30" stroke="#000" stroke-width="0.9"/>
<text x="352.10" y="451.30" font-family="Liberation Sans" font-size="6.1" font-weight="bold" text-anchor="end" fill="#111">100</text>
<line x1="352.50" y1="463.40" x2="355.50" y2="463.40" stroke="#000" stroke-width="0.9"/>
<text x="352.10" y="466.40" font-family="Liberation Sans" font-size="6.1" font-weight="bold" text-anchor="end" fill="#111">80</text>
<line x1="352.50" y1="478.10" x2="355.50" y2="478.10" stroke="#000" stroke-width="0.9"/>
<text x="352.10" y="481.10" font-family="Liberation Sans" font-size="6.1" font-weight="bold" text-anchor="end" fill="#111">60</text>
<line x1="352.50" y1="492.60" x2="355.50" y2="492.60" stroke="#000" stroke-width="0.9"/>
<text x="352.10" y="495.60" font-family="Liberation Sans" font-size="6.1" font-weight="bold" text-anchor="end" fill="#111">40</text>
<line x1="352.50" y1="507.10" x2="355.50" y2="507.10" stroke="#000" stroke-width="0.9"/>
<text x="352.10" y="510.10" font-family="Liberation Sans" font-size="6.1" font-weight="bold" text-anchor="end" fill="#111">20</text>
<line x1="352.50" y1="521.00" x2="355.50" y2="521.00" stroke="#000" stroke-width="0.9"/>
<text x="352.10" y="524.00" font-family="Liberation Sans" font-size="6.1" font-weight="bold" text-anchor="end" fill="#111">0</text>
<line x1="362.70" y1="521.00" x2="362.70" y2="523.00" stroke="#000" stroke-width="0.7"/>
<line x1="377.01" y1="521.00" x2="377.01" y2="523.00" stroke="#000" stroke-width="0.7"/>
<line x1="391.32" y1="521.00" x2="391.32" y2="523.00" stroke="#000" stroke-width="0.7"/>
<line x1="405.63" y1="521.00" x2="405.63" y2="523.00" stroke="#000" stroke-width="0.7"/>
<line x1="419.94" y1="521.00" x2="419.94" y2="523.00" stroke="#000" stroke-width="0.7"/>
<line x1="434.25" y1="521.00" x2="434.25" y2="523.00" stroke="#000" stroke-width="0.7"/>
<line x1="448.56" y1="521.00" x2="448.56" y2="523.00" stroke="#000" stroke-width="0.7"/>
<line x1="462.87" y1="521.00" x2="462.87" y2="523.00" stroke="#000" stroke-width="0.7"/>
<rect x="356.90" y="444.40" width="3.90" height="76.60" fill="#2036b4" stroke="#000" stroke-width="0.95"/>
<rect x="360.80" y="512.40" width="3.90" height="8.60" fill="#d8d257" stroke="#000" stroke-width="0.95"/>
<rect x="364.70" y="519.00" width="3.90" height="2.00" fill="#a83a2c" stroke="#000" stroke-width="0.95"/>
<rect x="371.21" y="419.80" width="3.90" height="101.20" fill="#2036b4" stroke="#000" stroke-width="0.95"/>
<rect x="375.11" y="464.20" width="3.90" height="56.80" fill="#d8d257" stroke="#000" stroke-width="0.95"/>
<rect x="379.01" y="520.30" width="3.90" height="0.70" fill="#a83a2c" stroke="#000" stroke-width="0.95"/>
<rect x="385.52" y="439.90" width="3.90" height="81.10" fill="#2036b4" stroke="#000" stroke-width="0.95"/>
<rect x="389.42" y="481.10" width="3.90" height="39.90" fill="#d8d257" stroke="#000" stroke-width="0.95"/>
<rect x="393.32" y="520.40" width="3.90" height="0.60" fill="#a83a2c" stroke="#000" stroke-width="0.95"/>
<rect x="399.83" y="477.10" width="3.90" height="43.90" fill="#2036b4" stroke="#000" stroke-width="0.95"/>
<rect x="403.73" y="514.80" width="3.90" height="6.20" fill="#d8d257" stroke="#000" stroke-width="0.95"/>
<rect x="407.63" y="519.00" width="3.90" height="2.00" fill="#a83a2c" stroke="#000" stroke-width="0.95"/>
<rect x="414.14" y="481.10" width="3.90" height="39.90" fill="#2036b4" stroke="#000" stroke-width="0.95"/>
<rect x="418.04" y="518.40" width="3.90" height="2.60" fill="#d8d257" stroke="#000" stroke-width="0.95"/>
<rect x="421.94" y="517.40" width="3.90" height="3.60" fill="#a83a2c" stroke="#000" stroke-width="0.95"/>
<rect x="428.45" y="509.10" width="3.90" height="11.90" fill="#2036b4" stroke="#000" stroke-width="0.95"/>
<rect x="432.35" y="518.40" width="3.90" height="2.60" fill="#d8d257" stroke="#000" stroke-width="0.95"/>
<rect x="436.25" y="519.80" width="3.90" height="1.20" fill="#a83a2c" stroke="#000" stroke-width="0.95"/>
<rect x="442.76" y="444.80" width="3.90" height="76.20" fill="#2036b4" stroke="#000" stroke-width="0.95"/>
<rect x="446.66" y="503.10" width="3.90" height="17.90" fill="#d8d257" stroke="#000" stroke-width="0.95"/>
<rect x="450.56" y="507.90" width="3.90" height="13.10" fill="#a83a2c" stroke="#000" stroke-width="0.95"/>
<rect x="457.07" y="517.40" width="3.90" height="3.60" fill="#2036b4" stroke="#000" stroke-width="0.95"/>
<rect x="460.97" y="519.00" width="3.90" height="2.00" fill="#d8d257" stroke="#000" stroke-width="0.95"/>
<rect x="464.87" y="520.00" width="3.90" height="1.00" fill="#a83a2c" stroke="#000" stroke-width="0.95"/>
<rect x="356.00" y="447.20" width="114.00" height="1.60" fill="#fff"/>
<line x1="356.70" y1="446.95" x2="361.00" y2="446.95" stroke="#000" stroke-width="0.6"/>
<line x1="371.01" y1="446.95" x2="375.31" y2="446.95" stroke="#000" stroke-width="0.6"/>
<line x1="385.32" y1="446.95" x2="389.62" y2="446.95" stroke="#000" stroke-width="0.6"/>
<line x1="442.56" y1="446.95" x2="446.86" y2="446.95" stroke="#000" stroke-width="0.6"/>
<text x="0" y="0" font-family="Liberation Sans" font-size="6.6" font-weight="bold" text-anchor="middle" fill="#111" transform="translate(340.90 456.50) rotate(-90)">FPKM</text>
<text x="0" y="0" font-family="Liberation Sans" font-size="6.0" font-weight="bold" text-anchor="end" fill="#111" transform="translate(363.50 528.10) rotate(-45)">PF4</text>
<text x="0" y="0" font-family="Liberation Sans" font-size="6.0" font-weight="bold" text-anchor="end" fill="#111" transform="translate(377.81 528.10) rotate(-45)">PPBP</text>
<text x="0" y="0" font-family="Liberation Sans" font-size="6.0" font-weight="bold" text-anchor="end" fill="#111" transform="translate(392.12 528.10) rotate(-45)">THBS1</text>
<text x="0" y="0" font-family="Liberation Sans" font-size="6.0" font-weight="bold" text-anchor="end" fill="#111" transform="translate(406.43 528.10) rotate(-45)">ITGA2B</text>
<text x="0" y="0" font-family="Liberation Sans" font-size="6.0" font-weight="bold" text-anchor="end" fill="#111" transform="translate(420.74 528.10) rotate(-45)">GP1BA</text>
<text x="0" y="0" font-family="Liberation Sans" font-size="6.0" font-weight="bold" text-anchor="end" fill="#111" transform="translate(435.05 528.10) rotate(-45)">GP1BB</text>
<text x="0" y="0" font-family="Liberation Sans" font-size="6.0" font-weight="bold" text-anchor="end" fill="#111" transform="translate(449.36 528.10) rotate(-45)">ITGB3</text>
<text x="0" y="0" font-family="Liberation Sans" font-size="6.0" font-weight="bold" text-anchor="end" fill="#111" transform="translate(463.67 528.10) rotate(-45)">PROS1</text>
<line x1="497.00" y1="392.50" x2="497.00" y2="520.70" stroke="#000" stroke-width="0.75"/>
<line x1="496.60" y1="520.70" x2="517.50" y2="520.70" stroke="#000" stroke-width="0.9"/>
<line x1="495.30" y1="520.70" x2="497.20" y2="520.70" stroke="#111" stroke-width="0.75"/>
<line x1="495.30" y1="518.21" x2="497.20" y2="518.21" stroke="#111" stroke-width="0.75"/>
<line x1="495.30" y1="515.72" x2="497.20" y2="515.72" stroke="#111" stroke-width="0.75"/>
<line x1="495.30" y1="513.23" x2="497.20" y2="513.23" stroke="#111" stroke-width="0.75"/>
<line x1="495.30" y1="510.74" x2="497.20" y2="510.74" stroke="#111" stroke-width="0.75"/>
<line x1="495.30" y1="508.25" x2="497.20" y2="508.25" stroke="#111" stroke-width="0.75"/>
<line x1="495.30" y1="505.76" x2="497.20" y2="505.76" stroke="#111" stroke-width="0.75"/>
<line x1="495.30" y1="503.27" x2="497.20" y2="503.27" stroke="#111" stroke-width="0.75"/>
<line x1="495.30" y1="500.78" x2="497.20" y2="500.78" stroke="#111" stroke-width="0.75"/>
<line x1="495.30" y1="498.29" x2="497.20" y2="498.29" stroke="#111" stroke-width="0.75"/>
<line x1="495.30" y1="495.80" x2="497.20" y2="495.80" stroke="#111" stroke-width="0.75"/>
<line x1="495.30" y1="493.31" x2="497.20" y2="493.31" stroke="#111" stroke-width="0.75"/>
<line x1="495.30" y1="490.82" x2="497.20" y2="490.82" stroke="#111" stroke-width="0.75"/>
<line x1="495.30" y1="488.33" x2="497.20" y2="488.33" stroke="#111" stroke-width="0.75"/>
<line x1="495.30" y1="485.84" x2="497.20" y2="485.84" stroke="#111" stroke-width="0.75"/>
<line x1="495.30" y1="483.35" x2="497.20" y2="483.35" stroke="#111" stroke-width="0.75"/>
<line x1="495.30" y1="480.86" x2="497.20" y2="480.86" stroke="#111" stroke-width="0.75"/>
<line x1="495.30" y1="478.37" x2="497.20" y2="478.37" stroke="#111" stroke-width="0.75"/>
<line x1="495.30" y1="475.88" x2="497.20" y2="475.88" stroke="#111" stroke-width="0.75"/>
<line x1="495.30" y1="473.39" x2="497.20" y2="473.39" stroke="#111" stroke-width="0.75"/>
<line x1="495.30" y1="470.90" x2="497.20" y2="470.90" stroke="#111" stroke-width="0.75"/>
<line x1="495.30" y1="468.41" x2="497.20" y2="468.41" stroke="#111" stroke-width="0.75"/>
<line x1="495.30" y1="465.92" x2="497.20" y2="465.92" stroke="#111" stroke-width="0.75"/>
<line x1="495.30" y1="463.43" x2="497.20" y2="463.43" stroke="#111" stroke-width="0.75"/>
<line x1="495.30" y1="460.94" x2="497.20" y2="460.94" stroke="#111" stroke-width="0.75"/>
<line x1="495.30" y1="456.00" x2="497.20" y2="456.00" stroke="#111" stroke-width="0.75"/>
<line x1="495.30" y1="453.46" x2="497.20" y2="453.46" stroke="#111" stroke-width="0.75"/>
<line x1="495.30" y1="450.92" x2="497.20" y2="450.92" stroke="#111" stroke-width="0.75"/>
<line x1="495.30" y1="448.38" x2="497.20" y2="448.38" stroke="#111" stroke-width="0.75"/>
<line x1="495.30" y1="445.84" x2="497.20" y2="445.84" stroke="#111" stroke-width="0.75"/>
<line x1="495.30" y1="443.30" x2="497.20" y2="443.30" stroke="#111" stroke-width="0.75"/>
<line x1="495.30" y1="440.76" x2="497.20" y2="440.76" stroke="#111" stroke-width="0.75"/>
<line x1="495.30" y1="438.22" x2="497.20" y2="438.22" stroke="#111" stroke-width="0.75"/>
<line x1="495.30" y1="435.68" x2="497.20" y2="435.68" stroke="#111" stroke-width="0.75"/>
<line x1="495.30" y1="433.14" x2="497.20" y2="433.14" stroke="#111" stroke-width="0.75"/>
<line x1="495.30" y1="430.60" x2="497.20" y2="430.60" stroke="#111" stroke-width="0.75"/>
<line x1="495.30" y1="428.06" x2="497.20" y2="428.06" stroke="#111" stroke-width="0.75"/>
<line x1="495.30" y1="425.52" x2="497.20" y2="425.52" stroke="#111" stroke-width="0.75"/>
<line x1="495.30" y1="422.98" x2="497.20" y2="422.98" stroke="#111" stroke-width="0.75"/>
<line x1="495.30" y1="420.44" x2="497.20" y2="420.44" stroke="#111" stroke-width="0.75"/>
<line x1="495.30" y1="417.90" x2="497.20" y2="417.90" stroke="#111" stroke-width="0.75"/>
<line x1="495.30" y1="415.36" x2="497.20" y2="415.36" stroke="#111" stroke-width="0.75"/>
<line x1="495.30" y1="412.82" x2="497.20" y2="412.82" stroke="#111" stroke-width="0.75"/>
<line x1="495.30" y1="410.28" x2="497.20" y2="410.28" stroke="#111" stroke-width="0.75"/>
<line x1="495.30" y1="407.74" x2="497.20" y2="407.74" stroke="#111" stroke-width="0.75"/>
<line x1="495.30" y1="405.20" x2="497.20" y2="405.20" stroke="#111" stroke-width="0.75"/>
<line x1="495.30" y1="402.66" x2="497.20" y2="402.66" stroke="#111" stroke-width="0.75"/>
<line x1="495.30" y1="400.12" x2="497.20" y2="400.12" stroke="#111" stroke-width="0.75"/>
<line x1="495.30" y1="397.58" x2="497.20" y2="397.58" stroke="#111" stroke-width="0.75"/>
<line x1="495.30" y1="395.04" x2="497.20" y2="395.04" stroke="#111" stroke-width="0.75"/>
<line x1="494.00" y1="392.50" x2="497.00" y2="392.50" stroke="#000" stroke-width="0.9"/>
<text x="493.60" y="395.20" font-family="Liberation Sans" font-size="6.5" font-weight="bold" text-anchor="end" fill="#111">150</text>
<line x1="494.00" y1="417.90" x2="497.00" y2="417.90" stroke="#000" stroke-width="0.9"/>
<text x="493.60" y="420.60" font-family="Liberation Sans" font-size="6.5" font-weight="bold" text-anchor="end" fill="#111">100</text>
<line x1="494.00" y1="443.50" x2="497.00" y2="443.50" stroke="#000" stroke-width="0.9"/>
<text x="493.60" y="446.20" font-family="Liberation Sans" font-size="6.5" font-weight="bold" text-anchor="end" fill="#111">50</text>
<line x1="494.00" y1="458.40" x2="497.00" y2="458.40" stroke="#000" stroke-width="0.9"/>
<text x="493.60" y="461.10" font-family="Liberation Sans" font-size="6.5" font-weight="bold" text-anchor="end" fill="#111">25</text>
<line x1="494.00" y1="471.00" x2="497.00" y2="471.00" stroke="#000" stroke-width="0.9"/>
<text x="493.60" y="473.70" font-family="Liberation Sans" font-size="6.5" font-weight="bold" text-anchor="end" fill="#111">20</text>
<line x1="494.00" y1="483.60" x2="497.00" y2="483.60" stroke="#000" stroke-width="0.9"/>
<text x="493.60" y="486.30" font-family="Liberation Sans" font-size="6.5" font-weight="bold" text-anchor="end" fill="#111">15</text>
<line x1="494.00" y1="496.20" x2="497.00" y2="496.20" stroke="#000" stroke-width="0.9"/>
<text x="493.60" y="498.90" font-family="Liberation Sans" font-size="6.5" font-weight="bold" text-anchor="end" fill="#111">10</text>
<line x1="494.00" y1="508.80" x2="497.00" y2="508.80" stroke="#000" stroke-width="0.9"/>
<text x="493.60" y="511.50" font-family="Liberation Sans" font-size="6.5" font-weight="bold" text-anchor="end" fill="#111">5</text>
<line x1="494.00" y1="520.70" x2="497.00" y2="520.70" stroke="#000" stroke-width="0.9"/>
<text x="493.60" y="523.40" font-family="Liberation Sans" font-size="6.5" font-weight="bold" text-anchor="end" fill="#111">0</text>
<line x1="502.20" y1="520.70" x2="502.20" y2="522.70" stroke="#000" stroke-width="0.7"/>
<line x1="511.50" y1="520.70" x2="511.50" y2="522.70" stroke="#000" stroke-width="0.7"/>
<rect x="498.60" y="448.10" width="3.60" height="72.60" fill="#2036b4" stroke="#000" stroke-width="0.95"/>
<rect x="502.20" y="440.50" width="3.60" height="80.20" fill="#d8d257" stroke="#000" stroke-width="0.95"/>
<rect x="507.85" y="441.70" width="3.60" height="79.00" fill="#2036b4" stroke="#000" stroke-width="0.95"/>
<rect x="511.45" y="458.40" width="3.60" height="62.30" fill="#d8d257" stroke="#000" stroke-width="0.95"/>
<rect x="497.50" y="455.90" width="19.50" height="1.60" fill="#fff"/>
<line x1="498.40" y1="455.65" x2="502.40" y2="455.65" stroke="#000" stroke-width="0.6"/>
<line x1="502.00" y1="455.65" x2="506.00" y2="455.65" stroke="#000" stroke-width="0.6"/>
<line x1="507.65" y1="455.65" x2="511.65" y2="455.65" stroke="#000" stroke-width="0.6"/>
<text x="0" y="0" font-family="Liberation Sans" font-size="6.6" font-weight="bold" text-anchor="middle" fill="#111" transform="translate(483.40 456.70) rotate(-90)">FPKM</text>
<text x="0" y="0" font-family="Liberation Sans" font-size="6.0" font-weight="bold" text-anchor="end" fill="#111" transform="translate(503.00 527.80) rotate(-45)">CDKN1A</text>
<text x="0" y="0" font-family="Liberation Sans" font-size="6.0" font-weight="bold" text-anchor="end" fill="#111" transform="translate(512.30 527.80) rotate(-45)">CDKN2D</text>
<line x1="565.60" y1="393.00" x2="565.60" y2="520.70" stroke="#000" stroke-width="0.75"/>
<line x1="565.20" y1="520.70" x2="594.00" y2="520.70" stroke="#000" stroke-width="0.9"/>
<line x1="563.90" y1="520.70" x2="565.80" y2="520.70" stroke="#111" stroke-width="0.75"/>
<line x1="563.90" y1="518.21" x2="565.80" y2="518.21" stroke="#111" stroke-width="0.75"/>
<line x1="563.90" y1="515.72" x2="565.80" y2="515.72" stroke="#111" stroke-width="0.75"/>
<line x1="563.90" y1="513.23" x2="565.80" y2="513.23" stroke="#111" stroke-width="0.75"/>
<line x1="563.90" y1="510.74" x2="565.80" y2="510.74" stroke="#111" stroke-width="0.75"/>
<line x1="563.90" y1="508.25" x2="565.80" y2="508.25" stroke="#111" stroke-width="0.75"/>
<line x1="563.90" y1="505.76" x2="565.80" y2="505.76" stroke="#111" stroke-width="0.75"/>
<line x1="563.90" y1="503.27" x2="565.80" y2="503.27" stroke="#111" stroke-width="0.75"/>
<line x1="563.90" y1="500.78" x2="565.80" y2="500.78" stroke="#111" stroke-width="0.75"/>
<line x1="563.90" y1="498.29" x2="565.80" y2="498.29" stroke="#111" stroke-width="0.75"/>
<line x1="563.90" y1="495.80" x2="565.80" y2="495.80" stroke="#111" stroke-width="0.75"/>
<line x1="563.90" y1="493.31" x2="565.80" y2="493.31" stroke="#111" stroke-width="0.75"/>
<line x1="563.90" y1="490.82" x2="565.80" y2="490.82" stroke="#111" stroke-width="0.75"/>
<line x1="563.90" y1="488.33" x2="565.80" y2="488.33" stroke="#111" stroke-width="0.75"/>
<line x1="563.90" y1="485.84" x2="565.80" y2="485.84" stroke="#111" stroke-width="0.75"/>
<line x1="563.90" y1="483.35" x2="565.80" y2="483.35" stroke="#111" stroke-width="0.75"/>
<line x1="563.90" y1="480.86" x2="565.80" y2="480.86" stroke="#111" stroke-width="0.75"/>
<line x1="563.90" y1="478.37" x2="565.80" y2="478.37" stroke="#111" stroke-width="0.75"/>
<line x1="563.90" y1="475.88" x2="565.80" y2="475.88" stroke="#111" stroke-width="0.75"/>
<line x1="563.90" y1="473.39" x2="565.80" y2="473.39" stroke="#111" stroke-width="0.75"/>
<line x1="563.90" y1="470.90" x2="565.80" y2="470.90" stroke="#111" stroke-width="0.75"/>
<line x1="563.90" y1="468.41" x2="565.80" y2="468.41" stroke="#111" stroke-width="0.75"/>
<line x1="563.90" y1="465.92" x2="565.80" y2="465.92" stroke="#111" stroke-width="0.75"/>
<line x1="563.90" y1="463.43" x2="565.80" y2="463.43" stroke="#111" stroke-width="0.75"/>
<line x1="563.90" y1="460.94" x2="565.80" y2="460.94" stroke="#111" stroke-width="0.75"/>
<line x1="563.90" y1="456.00" x2="565.80" y2="456.00" stroke="#111" stroke-width="0.75"/>
<line x1="563.90" y1="453.46" x2="565.80" y2="453.46" stroke="#111" stroke-width="0.75"/>
<line x1="563.90" y1="450.92" x2="565.80" y2="450.92" stroke="#111" stroke-width="0.75"/>
<line x1="563.90" y1="448.38" x2="565.80" y2="448.38" stroke="#111" stroke-width="0.75"/>
<line x1="563.90" y1="445.84" x2="565.80" y2="445.84" stroke="#111" stroke-width="0.75"/>
<line x1="563.90" y1="443.30" x2="565.80" y2="443.30" stroke="#111" stroke-width="0.75"/>
<line x1="563.90" y1="440.76" x2="565.80" y2="440.76" stroke="#111" stroke-width="0.75"/>
<line x1="563.90" y1="438.22" x2="565.80" y2="438.22" stroke="#111" stroke-width="0.75"/>
<line x1="563.90" y1="435.68" x2="565.80" y2="435.68" stroke="#111" stroke-width="0.75"/>
<line x1="563.90" y1="433.14" x2="565.80" y2="433.14" stroke="#111" stroke-width="0.75"/>
<line x1="563.90" y1="430.60" x2="565.80" y2="430.60" stroke="#111" stroke-width="0.75"/>
<line x1="563.90" y1="428.06" x2="565.80" y2="428.06" stroke="#111" stroke-width="0.75"/>
<line x1="563.90" y1="425.52" x2="565.80" y2="425.52" stroke="#111" stroke-width="0.75"/>
<line x1="563.90" y1="422.98" x2="565.80" y2="422.98" stroke="#111" stroke-width="0.75"/>
<line x1="563.90" y1="420.44" x2="565.80" y2="420.44" stroke="#111" stroke-width="0.75"/>
<line x1="563.90" y1="417.90" x2="565.80" y2="417.90" stroke="#111" stroke-width="0.75"/>
<line x1="563.90" y1="415.36" x2="565.80" y2="415.36" stroke="#111" stroke-width="0.75"/>
<line x1="563.90" y1="412.82" x2="565.80" y2="412.82" stroke="#111" stroke-width="0.75"/>
<line x1="563.90" y1="410.28" x2="565.80" y2="410.28" stroke="#111" stroke-width="0.75"/>
<line x1="563.90" y1="407.74" x2="565.80" y2="407.74" stroke="#111" stroke-width="0.75"/>
<line x1="563.90" y1="405.20" x2="565.80" y2="405.20" stroke="#111" stroke-width="0.75"/>
<line x1="563.90" y1="402.66" x2="565.80" y2="402.66" stroke="#111" stroke-width="0.75"/>
<line x1="563.90" y1="400.12" x2="565.80" y2="400.12" stroke="#111" stroke-width="0.75"/>
<line x1="563.90" y1="397.58" x2="565.80" y2="397.58" stroke="#111" stroke-width="0.75"/>
<line x1="563.90" y1="395.04" x2="565.80" y2="395.04" stroke="#111" stroke-width="0.75"/>
<line x1="562.60" y1="392.50" x2="565.60" y2="392.50" stroke="#000" stroke-width="0.9"/>
<text x="562.20" y="395.00" font-family="Liberation Sans" font-size="5.7" font-weight="bold" text-anchor="end" fill="#444">150</text>
<line x1="562.60" y1="417.90" x2="565.60" y2="417.90" stroke="#000" stroke-width="0.9"/>
<text x="562.20" y="420.40" font-family="Liberation Sans" font-size="5.7" font-weight="bold" text-anchor="end" fill="#444">100</text>
<line x1="562.60" y1="443.50" x2="565.60" y2="443.50" stroke="#000" stroke-width="0.9"/>
<text x="562.20" y="446.00" font-family="Liberation Sans" font-size="5.7" font-weight="bold" text-anchor="end" fill="#444">50</text>
<line x1="562.60" y1="458.40" x2="565.60" y2="458.40" stroke="#000" stroke-width="0.9"/>
<text x="562.20" y="460.90" font-family="Liberation Sans" font-size="5.7" font-weight="bold" text-anchor="end" fill="#444">25</text>
<line x1="562.60" y1="471.00" x2="565.60" y2="471.00" stroke="#000" stroke-width="0.9"/>
<text x="562.20" y="473.50" font-family="Liberation Sans" font-size="5.7" font-weight="bold" text-anchor="end" fill="#444">20</text>
<line x1="562.60" y1="483.60" x2="565.60" y2="483.60" stroke="#000" stroke-width="0.9"/>
<text x="562.20" y="486.10" font-family="Liberation Sans" font-size="5.7" font-weight="bold" text-anchor="end" fill="#444">15</text>
<line x1="562.60" y1="496.20" x2="565.60" y2="496.20" stroke="#000" stroke-width="0.9"/>
<text x="562.20" y="498.70" font-family="Liberation Sans" font-size="5.7" font-weight="bold" text-anchor="end" fill="#444">10</text>
<line x1="562.60" y1="508.80" x2="565.60" y2="508.80" stroke="#000" stroke-width="0.9"/>
<text x="562.20" y="511.30" font-family="Liberation Sans" font-size="5.7" font-weight="bold" text-anchor="end" fill="#444">5</text>
<line x1="562.60" y1="520.70" x2="565.60" y2="520.70" stroke="#000" stroke-width="0.9"/>
<text x="562.20" y="523.20" font-family="Liberation Sans" font-size="5.7" font-weight="bold" text-anchor="end" fill="#444">0</text>
<line x1="572.80" y1="520.70" x2="572.80" y2="522.70" stroke="#000" stroke-width="0.7"/>
<line x1="587.00" y1="520.70" x2="587.00" y2="522.70" stroke="#000" stroke-width="0.7"/>
<rect x="567.00" y="432.10" width="3.90" height="88.60" fill="#2036b4" stroke="#000" stroke-width="0.95"/>
<rect x="570.90" y="453.10" width="3.90" height="67.60" fill="#d8d257" stroke="#000" stroke-width="0.95"/>
<rect x="574.80" y="520.20" width="3.90" height="0.50" fill="#a83a2c" stroke="#000" stroke-width="0.95"/>
<rect x="581.20" y="454.30" width="3.90" height="66.40" fill="#2036b4" stroke="#000" stroke-width="0.95"/>
<rect x="585.10" y="487.70" width="3.90" height="33.00" fill="#d8d257" stroke="#000" stroke-width="0.95"/>
<rect x="589.00" y="499.20" width="3.90" height="21.50" fill="#a83a2c" stroke="#000" stroke-width="0.95"/>
<rect x="566.10" y="456.50" width="27.90" height="1.60" fill="#fff"/>
<line x1="566.80" y1="456.25" x2="571.10" y2="456.25" stroke="#000" stroke-width="0.6"/>
<line x1="570.70" y1="456.25" x2="575.00" y2="456.25" stroke="#000" stroke-width="0.6"/>
<line x1="581.00" y1="456.25" x2="585.30" y2="456.25" stroke="#000" stroke-width="0.6"/>
<text x="0" y="0" font-family="Liberation Sans" font-size="6.6" font-weight="bold" text-anchor="middle" fill="#111" transform="translate(551.60 456.70) rotate(-90)">FPKM</text>
<text x="0" y="0" font-family="Liberation Sans" font-size="6.0" font-weight="bold" text-anchor="end" fill="#111" transform="translate(573.60 527.80) rotate(-45)">CDKN1A</text>
<text x="0" y="0" font-family="Liberation Sans" font-size="6.0" font-weight="bold" text-anchor="end" fill="#111" transform="translate(587.80 527.80) rotate(-45)">CDKN2D</text>
<rect x="587.20" y="415.30" width="11.20" height="6.00" fill="#1030e8" stroke="#000" stroke-width="1.0"/>
<text x="599.80" y="422.20" font-family="Liberation Sans" font-size="9.3" font-weight="bold" text-anchor="start" fill="#000">EB DMSO</text>
<rect x="587.20" y="426.80" width="11.20" height="6.00" fill="#f4f030" stroke="#000" stroke-width="1.0"/>
<text x="599.80" y="433.70" font-family="Liberation Sans" font-size="9.3" font-weight="bold" text-anchor="start" fill="#000">EB AM580</text>
<rect x="587.20" y="437.60" width="11.20" height="6.00" fill="#e83418" stroke="#000" stroke-width="1.0"/>
<text x="599.80" y="444.50" font-family="Liberation Sans" font-size="9.3" font-weight="bold" text-anchor="start" fill="#000">FL</text>
</svg>
</body></html>
